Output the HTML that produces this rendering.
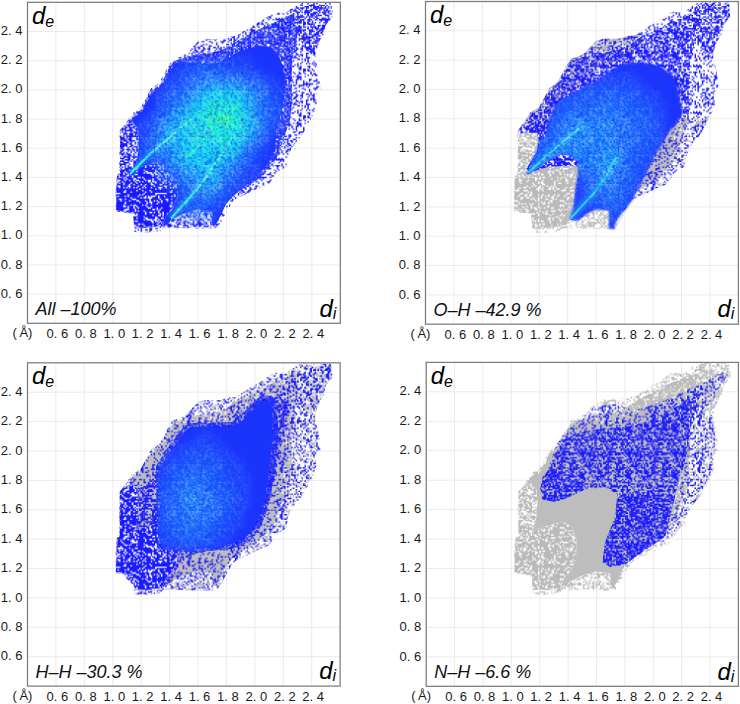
<!DOCTYPE html><html><head><meta charset="utf-8"><style>
html,body{margin:0;padding:0;background:#fff;}svg{display:block}
.t{font-family:"Liberation Sans", sans-serif;font-size:13px;fill:#1a1a1a}
.ax{font-family:"Liberation Sans", sans-serif;font-style:italic;font-size:24px;fill:#000}
.sub{font-size:16px}
.lab{font-family:"Liberation Sans", sans-serif;font-style:italic;font-size:18px;fill:#111}
</style></head><body>
<svg width="740" height="704" viewBox="0 0 740 704">
<rect width="740" height="704" fill="#fff"/><defs><pattern id="b50" patternUnits="userSpaceOnUse" width="32" height="32" patternTransform="scale(1.45 1.46)"><path fill="#1a1aff" d="M0 0h2v1h-2zM3 0h1v1h-1zM5 0h1v1h-1zM7 0h1v1h-1zM9 0h1v1h-1zM11 0h2v1h-2zM14 0h1v1h-1zM22 0h1v1h-1zM26 0h3v1h-3zM3 1h1v1h-1zM9 1h1v1h-1zM11 1h3v1h-3zM16 1h1v1h-1zM18 1h1v1h-1zM22 1h2v1h-2zM28 1h1v1h-1zM31 1h1v1h-1zM3 2h1v1h-1zM6 2h2v1h-2zM9 2h3v1h-3zM15 2h1v1h-1zM19 2h1v1h-1zM23 2h4v1h-4zM28 2h3v1h-3zM1 3h5v1h-5zM8 3h1v1h-1zM10 3h2v1h-2zM13 3h1v1h-1zM15 3h3v1h-3zM19 3h2v1h-2zM22 3h2v1h-2zM25 3h2v1h-2zM28 3h4v1h-4zM1 4h3v1h-3zM5 4h1v1h-1zM9 4h2v1h-2zM13 4h1v1h-1zM16 4h4v1h-4zM22 4h2v1h-2zM28 4h3v1h-3zM0 5h2v1h-2zM4 5h1v1h-1zM7 5h2v1h-2zM10 5h2v1h-2zM14 5h5v1h-5zM24 5h1v1h-1zM26 5h1v1h-1zM30 5h2v1h-2zM0 6h1v1h-1zM3 6h1v1h-1zM8 6h6v1h-6zM15 6h4v1h-4zM22 6h1v1h-1zM24 6h1v1h-1zM26 6h6v1h-6zM0 7h1v1h-1zM3 7h1v1h-1zM7 7h2v1h-2zM16 7h4v1h-4zM21 7h1v1h-1zM25 7h1v1h-1zM27 7h2v1h-2zM30 7h1v1h-1zM1 8h5v1h-5zM8 8h2v1h-2zM13 8h1v1h-1zM15 8h1v1h-1zM18 8h2v1h-2zM21 8h1v1h-1zM27 8h3v1h-3zM31 8h1v1h-1zM3 9h1v1h-1zM5 9h1v1h-1zM7 9h2v1h-2zM10 9h3v1h-3zM14 9h1v1h-1zM17 9h1v1h-1zM19 9h1v1h-1zM22 9h1v1h-1zM24 9h3v1h-3zM28 9h1v1h-1zM30 9h1v1h-1zM1 10h1v1h-1zM4 10h1v1h-1zM9 10h1v1h-1zM11 10h1v1h-1zM13 10h6v1h-6zM24 10h1v1h-1zM31 10h1v1h-1zM0 11h1v1h-1zM4 11h2v1h-2zM9 11h1v1h-1zM17 11h1v1h-1zM19 11h3v1h-3zM23 11h1v1h-1zM25 11h3v1h-3zM29 11h1v1h-1zM31 11h1v1h-1zM0 12h2v1h-2zM5 12h5v1h-5zM11 12h2v1h-2zM14 12h2v1h-2zM17 12h2v1h-2zM23 12h3v1h-3zM27 12h1v1h-1zM29 12h1v1h-1zM31 12h1v1h-1zM0 13h2v1h-2zM3 13h1v1h-1zM5 13h7v1h-7zM13 13h4v1h-4zM19 13h1v1h-1zM21 13h1v1h-1zM23 13h2v1h-2zM26 13h2v1h-2zM29 13h2v1h-2zM0 14h1v1h-1zM2 14h1v1h-1zM4 14h2v1h-2zM10 14h1v1h-1zM13 14h1v1h-1zM16 14h1v1h-1zM20 14h1v1h-1zM26 14h1v1h-1zM30 14h2v1h-2zM2 15h1v1h-1zM6 15h3v1h-3zM12 15h3v1h-3zM16 15h3v1h-3zM21 15h1v1h-1zM24 15h1v1h-1zM26 15h2v1h-2zM1 16h1v1h-1zM3 16h1v1h-1zM5 16h5v1h-5zM12 16h2v1h-2zM16 16h2v1h-2zM24 16h1v1h-1zM30 16h2v1h-2zM1 17h2v1h-2zM6 17h1v1h-1zM13 17h1v1h-1zM16 17h1v1h-1zM18 17h1v1h-1zM20 17h1v1h-1zM22 17h2v1h-2zM27 17h1v1h-1zM2 18h2v1h-2zM5 18h1v1h-1zM9 18h1v1h-1zM11 18h1v1h-1zM19 18h1v1h-1zM24 18h2v1h-2zM30 18h1v1h-1zM2 19h2v1h-2zM7 19h2v1h-2zM12 19h3v1h-3zM17 19h1v1h-1zM19 19h2v1h-2zM23 19h2v1h-2zM26 19h6v1h-6zM0 20h1v1h-1zM2 20h1v1h-1zM5 20h1v1h-1zM12 20h1v1h-1zM15 20h3v1h-3zM19 20h2v1h-2zM23 20h2v1h-2zM0 21h1v1h-1zM3 21h6v1h-6zM14 21h2v1h-2zM17 21h3v1h-3zM21 21h1v1h-1zM23 21h1v1h-1zM25 21h4v1h-4zM30 21h1v1h-1zM1 22h1v1h-1zM4 22h2v1h-2zM8 22h6v1h-6zM15 22h9v1h-9zM25 22h1v1h-1zM28 22h1v1h-1zM31 22h1v1h-1zM2 23h2v1h-2zM5 23h2v1h-2zM8 23h2v1h-2zM11 23h1v1h-1zM16 23h3v1h-3zM21 23h3v1h-3zM25 23h2v1h-2zM28 23h3v1h-3zM0 24h3v1h-3zM15 24h1v1h-1zM17 24h2v1h-2zM20 24h1v1h-1zM22 24h2v1h-2zM25 24h3v1h-3zM30 24h1v1h-1zM0 25h1v1h-1zM3 25h5v1h-5zM9 25h1v1h-1zM11 25h3v1h-3zM18 25h2v1h-2zM22 25h1v1h-1zM25 25h2v1h-2zM28 25h1v1h-1zM0 26h1v1h-1zM3 26h1v1h-1zM6 26h3v1h-3zM10 26h1v1h-1zM17 26h3v1h-3zM21 26h1v1h-1zM23 26h3v1h-3zM28 26h1v1h-1zM3 27h3v1h-3zM10 27h3v1h-3zM14 27h1v1h-1zM16 27h1v1h-1zM19 27h1v1h-1zM21 27h1v1h-1zM23 27h5v1h-5zM29 27h1v1h-1zM0 28h1v1h-1zM3 28h6v1h-6zM11 28h3v1h-3zM16 28h1v1h-1zM18 28h1v1h-1zM20 28h1v1h-1zM22 28h1v1h-1zM0 29h1v1h-1zM8 29h5v1h-5zM17 29h1v1h-1zM20 29h1v1h-1zM22 29h1v1h-1zM24 29h1v1h-1zM29 29h2v1h-2zM2 30h1v1h-1zM5 30h1v1h-1zM9 30h2v1h-2zM13 30h2v1h-2zM19 30h2v1h-2zM22 30h3v1h-3zM26 30h1v1h-1zM28 30h1v1h-1zM30 30h1v1h-1zM1 31h1v1h-1zM3 31h2v1h-2zM9 31h1v1h-1zM11 31h1v1h-1zM13 31h1v1h-1zM16 31h1v1h-1zM19 31h5v1h-5zM26 31h1v1h-1zM28 31h1v1h-1zM30 31h1v1h-1z"/></pattern><pattern id="b45" patternUnits="userSpaceOnUse" width="32" height="32" patternTransform="scale(1.45 1.46)"><path fill="#1a1aff" d="M2 0h2v1h-2zM6 0h1v1h-1zM9 0h1v1h-1zM14 0h1v1h-1zM18 0h1v1h-1zM20 0h1v1h-1zM22 0h3v1h-3zM27 0h1v1h-1zM1 1h2v1h-2zM10 1h1v1h-1zM17 1h1v1h-1zM24 1h2v1h-2zM27 1h1v1h-1zM29 1h1v1h-1zM31 1h1v1h-1zM0 2h2v1h-2zM5 2h2v1h-2zM8 2h6v1h-6zM15 2h1v1h-1zM17 2h1v1h-1zM19 2h4v1h-4zM25 2h1v1h-1zM30 2h1v1h-1zM0 3h1v1h-1zM4 3h2v1h-2zM10 3h2v1h-2zM13 3h1v1h-1zM15 3h2v1h-2zM21 3h4v1h-4zM26 3h2v1h-2zM29 3h1v1h-1zM0 4h2v1h-2zM3 4h1v1h-1zM5 4h1v1h-1zM11 4h1v1h-1zM13 4h4v1h-4zM18 4h1v1h-1zM22 4h9v1h-9zM2 5h1v1h-1zM6 5h3v1h-3zM11 5h1v1h-1zM13 5h2v1h-2zM18 5h2v1h-2zM21 5h1v1h-1zM27 5h5v1h-5zM1 6h1v1h-1zM4 6h1v1h-1zM7 6h1v1h-1zM10 6h2v1h-2zM13 6h1v1h-1zM17 6h1v1h-1zM20 6h2v1h-2zM24 6h1v1h-1zM28 6h2v1h-2zM2 7h2v1h-2zM6 7h1v1h-1zM9 7h1v1h-1zM12 7h1v1h-1zM15 7h1v1h-1zM23 7h4v1h-4zM28 7h1v1h-1zM31 7h1v1h-1zM1 8h1v1h-1zM3 8h3v1h-3zM7 8h1v1h-1zM9 8h1v1h-1zM12 8h1v1h-1zM16 8h2v1h-2zM19 8h4v1h-4zM24 8h1v1h-1zM26 8h2v1h-2zM0 9h1v1h-1zM2 9h3v1h-3zM11 9h2v1h-2zM14 9h2v1h-2zM17 9h6v1h-6zM26 9h1v1h-1zM28 9h1v1h-1zM30 9h2v1h-2zM0 10h2v1h-2zM3 10h1v1h-1zM7 10h6v1h-6zM17 10h1v1h-1zM21 10h2v1h-2zM25 10h2v1h-2zM29 10h3v1h-3zM0 11h6v1h-6zM10 11h4v1h-4zM16 11h1v1h-1zM21 11h1v1h-1zM23 11h5v1h-5zM31 11h1v1h-1zM1 12h1v1h-1zM4 12h2v1h-2zM12 12h1v1h-1zM15 12h1v1h-1zM17 12h1v1h-1zM19 12h1v1h-1zM22 12h1v1h-1zM24 12h2v1h-2zM27 12h1v1h-1zM29 12h1v1h-1zM31 12h1v1h-1zM0 13h1v1h-1zM4 13h1v1h-1zM7 13h1v1h-1zM9 13h1v1h-1zM12 13h1v1h-1zM14 13h3v1h-3zM18 13h1v1h-1zM21 13h3v1h-3zM27 13h1v1h-1zM29 13h2v1h-2zM0 14h1v1h-1zM2 14h1v1h-1zM7 14h1v1h-1zM10 14h1v1h-1zM14 14h1v1h-1zM16 14h2v1h-2zM19 14h2v1h-2zM22 14h2v1h-2zM26 14h1v1h-1zM28 14h2v1h-2zM3 15h4v1h-4zM11 15h1v1h-1zM13 15h2v1h-2zM17 15h1v1h-1zM19 15h3v1h-3zM26 15h3v1h-3zM30 15h2v1h-2zM1 16h2v1h-2zM4 16h1v1h-1zM8 16h1v1h-1zM10 16h4v1h-4zM15 16h3v1h-3zM19 16h1v1h-1zM21 16h1v1h-1zM25 16h1v1h-1zM27 16h2v1h-2zM1 17h1v1h-1zM3 17h3v1h-3zM8 17h1v1h-1zM10 17h1v1h-1zM13 17h2v1h-2zM16 17h1v1h-1zM20 17h1v1h-1zM24 17h1v1h-1zM29 17h1v1h-1zM0 18h1v1h-1zM3 18h1v1h-1zM6 18h1v1h-1zM9 18h1v1h-1zM12 18h4v1h-4zM17 18h1v1h-1zM22 18h1v1h-1zM24 18h1v1h-1zM27 18h2v1h-2zM0 19h2v1h-2zM3 19h1v1h-1zM5 19h1v1h-1zM7 19h1v1h-1zM9 19h1v1h-1zM13 19h2v1h-2zM17 19h1v1h-1zM24 19h1v1h-1zM27 19h1v1h-1zM29 19h1v1h-1zM1 20h3v1h-3zM5 20h2v1h-2zM9 20h1v1h-1zM14 20h1v1h-1zM17 20h2v1h-2zM20 20h1v1h-1zM23 20h1v1h-1zM25 20h1v1h-1zM29 20h3v1h-3zM6 21h1v1h-1zM8 21h1v1h-1zM10 21h1v1h-1zM14 21h1v1h-1zM18 21h1v1h-1zM20 21h2v1h-2zM23 21h1v1h-1zM28 21h1v1h-1zM31 21h1v1h-1zM3 22h1v1h-1zM5 22h1v1h-1zM7 22h1v1h-1zM9 22h3v1h-3zM15 22h2v1h-2zM18 22h2v1h-2zM22 22h3v1h-3zM26 22h3v1h-3zM0 23h1v1h-1zM5 23h1v1h-1zM8 23h2v1h-2zM12 23h1v1h-1zM17 23h1v1h-1zM20 23h1v1h-1zM22 23h2v1h-2zM26 23h1v1h-1zM28 23h1v1h-1zM31 23h1v1h-1zM1 24h2v1h-2zM5 24h1v1h-1zM8 24h3v1h-3zM13 24h2v1h-2zM17 24h1v1h-1zM25 24h1v1h-1zM27 24h1v1h-1zM30 24h2v1h-2zM3 25h3v1h-3zM7 25h6v1h-6zM14 25h1v1h-1zM17 25h5v1h-5zM26 25h3v1h-3zM31 25h1v1h-1zM0 26h2v1h-2zM5 26h3v1h-3zM9 26h2v1h-2zM13 26h1v1h-1zM15 26h1v1h-1zM19 26h4v1h-4zM24 26h1v1h-1zM26 26h1v1h-1zM30 26h2v1h-2zM1 27h1v1h-1zM3 27h1v1h-1zM6 27h1v1h-1zM9 27h1v1h-1zM12 27h4v1h-4zM17 27h1v1h-1zM20 27h2v1h-2zM24 27h3v1h-3zM1 28h1v1h-1zM3 28h1v1h-1zM6 28h1v1h-1zM8 28h2v1h-2zM15 28h1v1h-1zM19 28h2v1h-2zM23 28h2v1h-2zM27 28h1v1h-1zM29 28h3v1h-3zM0 29h1v1h-1zM2 29h2v1h-2zM5 29h1v1h-1zM9 29h2v1h-2zM15 29h1v1h-1zM18 29h2v1h-2zM21 29h1v1h-1zM23 29h2v1h-2zM27 29h1v1h-1zM0 30h2v1h-2zM4 30h1v1h-1zM6 30h1v1h-1zM11 30h2v1h-2zM14 30h1v1h-1zM18 30h1v1h-1zM22 30h1v1h-1zM26 30h3v1h-3zM30 30h1v1h-1zM0 31h3v1h-3zM5 31h4v1h-4zM11 31h1v1h-1zM13 31h3v1h-3zM17 31h2v1h-2zM21 31h1v1h-1zM23 31h3v1h-3zM27 31h2v1h-2z"/></pattern><pattern id="b60" patternUnits="userSpaceOnUse" width="32" height="32" patternTransform="scale(1.45 1.46)"><path fill="#1a1aff" d="M0 0h2v1h-2zM3 0h1v1h-1zM5 0h5v1h-5zM11 0h1v1h-1zM13 0h2v1h-2zM16 0h1v1h-1zM19 0h1v1h-1zM21 0h3v1h-3zM25 0h4v1h-4zM2 1h1v1h-1zM5 1h1v1h-1zM8 1h5v1h-5zM15 1h6v1h-6zM23 1h2v1h-2zM26 1h1v1h-1zM29 1h1v1h-1zM31 1h1v1h-1zM2 2h1v1h-1zM6 2h3v1h-3zM10 2h1v1h-1zM13 2h2v1h-2zM16 2h2v1h-2zM19 2h5v1h-5zM25 2h2v1h-2zM29 2h1v1h-1zM31 2h1v1h-1zM0 3h1v1h-1zM2 3h1v1h-1zM5 3h2v1h-2zM8 3h1v1h-1zM10 3h2v1h-2zM13 3h1v1h-1zM15 3h9v1h-9zM26 3h2v1h-2zM31 3h1v1h-1zM0 4h1v1h-1zM3 4h7v1h-7zM11 4h4v1h-4zM18 4h4v1h-4zM23 4h1v1h-1zM25 4h2v1h-2zM28 4h3v1h-3zM0 5h4v1h-4zM5 5h2v1h-2zM8 5h2v1h-2zM11 5h3v1h-3zM15 5h2v1h-2zM19 5h2v1h-2zM24 5h1v1h-1zM27 5h1v1h-1zM30 5h1v1h-1zM0 6h5v1h-5zM8 6h3v1h-3zM12 6h1v1h-1zM14 6h2v1h-2zM17 6h2v1h-2zM20 6h2v1h-2zM23 6h3v1h-3zM27 6h2v1h-2zM30 6h2v1h-2zM0 7h2v1h-2zM4 7h1v1h-1zM7 7h1v1h-1zM9 7h4v1h-4zM14 7h1v1h-1zM16 7h2v1h-2zM19 7h2v1h-2zM24 7h1v1h-1zM26 7h1v1h-1zM28 7h1v1h-1zM30 7h2v1h-2zM0 8h2v1h-2zM3 8h5v1h-5zM10 8h2v1h-2zM13 8h3v1h-3zM17 8h3v1h-3zM21 8h1v1h-1zM23 8h1v1h-1zM26 8h1v1h-1zM29 8h1v1h-1zM0 9h1v1h-1zM4 9h1v1h-1zM6 9h1v1h-1zM9 9h1v1h-1zM11 9h3v1h-3zM15 9h2v1h-2zM19 9h3v1h-3zM23 9h3v1h-3zM28 9h1v1h-1zM31 9h1v1h-1zM0 10h1v1h-1zM2 10h2v1h-2zM6 10h1v1h-1zM10 10h2v1h-2zM13 10h5v1h-5zM20 10h1v1h-1zM22 10h1v1h-1zM24 10h3v1h-3zM28 10h1v1h-1zM31 10h1v1h-1zM2 11h2v1h-2zM5 11h1v1h-1zM7 11h1v1h-1zM9 11h5v1h-5zM16 11h3v1h-3zM21 11h5v1h-5zM27 11h5v1h-5zM0 12h2v1h-2zM4 12h6v1h-6zM12 12h2v1h-2zM15 12h2v1h-2zM18 12h4v1h-4zM24 12h2v1h-2zM28 12h1v1h-1zM31 12h1v1h-1zM0 13h4v1h-4zM5 13h3v1h-3zM9 13h1v1h-1zM11 13h1v1h-1zM13 13h1v1h-1zM15 13h3v1h-3zM20 13h1v1h-1zM22 13h4v1h-4zM27 13h1v1h-1zM30 13h2v1h-2zM1 14h2v1h-2zM4 14h7v1h-7zM14 14h1v1h-1zM16 14h1v1h-1zM18 14h4v1h-4zM24 14h1v1h-1zM26 14h1v1h-1zM28 14h4v1h-4zM5 15h2v1h-2zM9 15h6v1h-6zM16 15h3v1h-3zM21 15h4v1h-4zM28 15h4v1h-4zM0 16h2v1h-2zM3 16h1v1h-1zM5 16h3v1h-3zM9 16h2v1h-2zM12 16h3v1h-3zM18 16h5v1h-5zM25 16h1v1h-1zM28 16h4v1h-4zM2 17h3v1h-3zM7 17h1v1h-1zM9 17h1v1h-1zM11 17h4v1h-4zM18 17h2v1h-2zM22 17h1v1h-1zM24 17h1v1h-1zM28 17h2v1h-2zM31 17h1v1h-1zM0 18h1v1h-1zM2 18h5v1h-5zM9 18h1v1h-1zM12 18h1v1h-1zM15 18h4v1h-4zM20 18h1v1h-1zM22 18h1v1h-1zM24 18h3v1h-3zM28 18h2v1h-2zM31 18h1v1h-1zM1 19h3v1h-3zM7 19h1v1h-1zM10 19h8v1h-8zM19 19h1v1h-1zM22 19h6v1h-6zM31 19h1v1h-1zM0 20h3v1h-3zM4 20h1v1h-1zM7 20h2v1h-2zM10 20h1v1h-1zM12 20h1v1h-1zM14 20h2v1h-2zM17 20h1v1h-1zM19 20h6v1h-6zM26 20h1v1h-1zM28 20h3v1h-3zM1 21h3v1h-3zM5 21h5v1h-5zM13 21h3v1h-3zM17 21h5v1h-5zM23 21h5v1h-5zM31 21h1v1h-1zM0 22h2v1h-2zM3 22h1v1h-1zM6 22h2v1h-2zM9 22h1v1h-1zM11 22h3v1h-3zM16 22h1v1h-1zM19 22h2v1h-2zM22 22h1v1h-1zM24 22h2v1h-2zM28 22h2v1h-2zM31 22h1v1h-1zM1 23h7v1h-7zM9 23h4v1h-4zM14 23h7v1h-7zM22 23h2v1h-2zM25 23h4v1h-4zM30 23h1v1h-1zM0 24h2v1h-2zM3 24h1v1h-1zM6 24h2v1h-2zM10 24h6v1h-6zM17 24h6v1h-6zM25 24h2v1h-2zM29 24h3v1h-3zM0 25h4v1h-4zM5 25h1v1h-1zM7 25h1v1h-1zM11 25h1v1h-1zM13 25h6v1h-6zM20 25h1v1h-1zM22 25h6v1h-6zM30 25h1v1h-1zM0 26h5v1h-5zM7 26h2v1h-2zM10 26h1v1h-1zM13 26h6v1h-6zM20 26h1v1h-1zM22 26h1v1h-1zM26 26h1v1h-1zM28 26h3v1h-3zM0 27h5v1h-5zM7 27h2v1h-2zM11 27h8v1h-8zM21 27h3v1h-3zM25 27h3v1h-3zM29 27h3v1h-3zM0 28h1v1h-1zM2 28h1v1h-1zM4 28h3v1h-3zM9 28h3v1h-3zM13 28h2v1h-2zM17 28h1v1h-1zM21 28h1v1h-1zM23 28h1v1h-1zM25 28h3v1h-3zM29 28h1v1h-1zM31 28h1v1h-1zM0 29h5v1h-5zM6 29h1v1h-1zM8 29h3v1h-3zM12 29h1v1h-1zM16 29h1v1h-1zM18 29h2v1h-2zM21 29h1v1h-1zM23 29h9v1h-9zM0 30h2v1h-2zM3 30h2v1h-2zM7 30h2v1h-2zM10 30h1v1h-1zM13 30h3v1h-3zM18 30h4v1h-4zM23 30h1v1h-1zM25 30h2v1h-2zM30 30h1v1h-1zM0 31h1v1h-1zM2 31h3v1h-3zM6 31h3v1h-3zM10 31h4v1h-4zM15 31h1v1h-1zM19 31h4v1h-4zM24 31h3v1h-3zM30 31h2v1h-2z"/></pattern><pattern id="b70" patternUnits="userSpaceOnUse" width="32" height="32" patternTransform="scale(1.45 1.46)"><path fill="#1a1aff" d="M0 0h1v1h-1zM2 0h3v1h-3zM7 0h2v1h-2zM10 0h1v1h-1zM14 0h8v1h-8zM23 0h4v1h-4zM28 0h3v1h-3zM0 1h6v1h-6zM7 1h1v1h-1zM9 1h4v1h-4zM17 1h2v1h-2zM20 1h2v1h-2zM23 1h5v1h-5zM29 1h1v1h-1zM31 1h1v1h-1zM0 2h5v1h-5zM6 2h1v1h-1zM8 2h5v1h-5zM14 2h3v1h-3zM18 2h2v1h-2zM21 2h1v1h-1zM23 2h4v1h-4zM28 2h3v1h-3zM0 3h1v1h-1zM2 3h2v1h-2zM5 3h1v1h-1zM7 3h2v1h-2zM10 3h4v1h-4zM15 3h2v1h-2zM18 3h1v1h-1zM20 3h5v1h-5zM26 3h2v1h-2zM29 3h3v1h-3zM1 4h11v1h-11zM13 4h6v1h-6zM20 4h3v1h-3zM24 4h3v1h-3zM28 4h4v1h-4zM0 5h5v1h-5zM6 5h1v1h-1zM10 5h2v1h-2zM14 5h3v1h-3zM18 5h1v1h-1zM21 5h1v1h-1zM23 5h1v1h-1zM25 5h1v1h-1zM27 5h5v1h-5zM0 6h2v1h-2zM5 6h1v1h-1zM8 6h1v1h-1zM11 6h2v1h-2zM14 6h7v1h-7zM22 6h1v1h-1zM25 6h1v1h-1zM27 6h4v1h-4zM0 7h2v1h-2zM3 7h5v1h-5zM10 7h2v1h-2zM13 7h2v1h-2zM16 7h4v1h-4zM21 7h1v1h-1zM23 7h1v1h-1zM25 7h1v1h-1zM28 7h2v1h-2zM31 7h1v1h-1zM0 8h8v1h-8zM10 8h2v1h-2zM15 8h4v1h-4zM21 8h1v1h-1zM24 8h2v1h-2zM28 8h1v1h-1zM31 8h1v1h-1zM0 9h6v1h-6zM7 9h1v1h-1zM9 9h7v1h-7zM17 9h1v1h-1zM22 9h3v1h-3zM26 9h2v1h-2zM29 9h2v1h-2zM0 10h2v1h-2zM3 10h3v1h-3zM8 10h3v1h-3zM12 10h2v1h-2zM15 10h4v1h-4zM20 10h1v1h-1zM24 10h7v1h-7zM0 11h3v1h-3zM4 11h7v1h-7zM13 11h2v1h-2zM16 11h4v1h-4zM21 11h3v1h-3zM25 11h1v1h-1zM27 11h4v1h-4zM0 12h1v1h-1zM2 12h5v1h-5zM8 12h1v1h-1zM12 12h1v1h-1zM14 12h1v1h-1zM16 12h6v1h-6zM24 12h7v1h-7zM0 13h4v1h-4zM5 13h3v1h-3zM9 13h2v1h-2zM13 13h3v1h-3zM17 13h2v1h-2zM20 13h2v1h-2zM23 13h4v1h-4zM28 13h4v1h-4zM1 14h3v1h-3zM5 14h7v1h-7zM13 14h3v1h-3zM18 14h1v1h-1zM20 14h1v1h-1zM22 14h1v1h-1zM26 14h1v1h-1zM28 14h1v1h-1zM30 14h2v1h-2zM0 15h2v1h-2zM3 15h2v1h-2zM6 15h5v1h-5zM16 15h1v1h-1zM18 15h2v1h-2zM21 15h3v1h-3zM26 15h1v1h-1zM28 15h1v1h-1zM30 15h2v1h-2zM0 16h3v1h-3zM4 16h8v1h-8zM13 16h4v1h-4zM21 16h1v1h-1zM23 16h3v1h-3zM27 16h4v1h-4zM0 17h2v1h-2zM4 17h5v1h-5zM10 17h3v1h-3zM14 17h5v1h-5zM20 17h1v1h-1zM24 17h3v1h-3zM28 17h1v1h-1zM30 17h1v1h-1zM0 18h1v1h-1zM2 18h1v1h-1zM6 18h3v1h-3zM12 18h3v1h-3zM16 18h11v1h-11zM28 18h1v1h-1zM31 18h1v1h-1zM0 19h2v1h-2zM3 19h5v1h-5zM12 19h2v1h-2zM15 19h3v1h-3zM20 19h1v1h-1zM22 19h2v1h-2zM26 19h1v1h-1zM30 19h1v1h-1zM2 20h3v1h-3zM6 20h8v1h-8zM15 20h5v1h-5zM22 20h4v1h-4zM27 20h1v1h-1zM29 20h3v1h-3zM2 21h4v1h-4zM10 21h8v1h-8zM20 21h5v1h-5zM27 21h1v1h-1zM29 21h3v1h-3zM0 22h3v1h-3zM4 22h3v1h-3zM9 22h3v1h-3zM13 22h2v1h-2zM16 22h3v1h-3zM20 22h1v1h-1zM22 22h4v1h-4zM27 22h2v1h-2zM0 23h6v1h-6zM7 23h1v1h-1zM9 23h2v1h-2zM12 23h1v1h-1zM14 23h4v1h-4zM20 23h3v1h-3zM24 23h3v1h-3zM28 23h2v1h-2zM31 23h1v1h-1zM1 24h2v1h-2zM4 24h1v1h-1zM6 24h2v1h-2zM9 24h1v1h-1zM11 24h8v1h-8zM20 24h1v1h-1zM22 24h4v1h-4zM28 24h3v1h-3zM0 25h6v1h-6zM8 25h1v1h-1zM10 25h2v1h-2zM13 25h1v1h-1zM15 25h2v1h-2zM19 25h1v1h-1zM21 25h2v1h-2zM24 25h3v1h-3zM28 25h2v1h-2zM31 25h1v1h-1zM0 26h3v1h-3zM4 26h8v1h-8zM13 26h3v1h-3zM17 26h3v1h-3zM21 26h1v1h-1zM24 26h2v1h-2zM27 26h5v1h-5zM0 27h1v1h-1zM2 27h2v1h-2zM6 27h1v1h-1zM8 27h2v1h-2zM13 27h1v1h-1zM17 27h3v1h-3zM21 27h4v1h-4zM26 27h2v1h-2zM29 27h2v1h-2zM2 28h1v1h-1zM5 28h5v1h-5zM11 28h1v1h-1zM13 28h3v1h-3zM17 28h8v1h-8zM26 28h4v1h-4zM31 28h1v1h-1zM0 29h3v1h-3zM4 29h1v1h-1zM6 29h2v1h-2zM9 29h3v1h-3zM15 29h3v1h-3zM19 29h5v1h-5zM25 29h3v1h-3zM29 29h3v1h-3zM0 30h1v1h-1zM2 30h2v1h-2zM5 30h3v1h-3zM9 30h9v1h-9zM20 30h1v1h-1zM23 30h4v1h-4zM28 30h3v1h-3zM1 31h2v1h-2zM4 31h6v1h-6zM11 31h3v1h-3zM15 31h1v1h-1zM17 31h1v1h-1zM19 31h2v1h-2zM22 31h7v1h-7zM30 31h2v1h-2z"/></pattern><pattern id="b75" patternUnits="userSpaceOnUse" width="32" height="32" patternTransform="scale(1.45 1.46)"><path fill="#1a1aff" d="M7 0h1v1h-1zM11 0h2v1h-2zM14 0h1v1h-1zM17 0h1v1h-1zM19 0h1v1h-1zM21 0h1v1h-1zM23 0h4v1h-4zM30 0h1v1h-1zM0 1h1v1h-1zM6 1h2v1h-2zM11 1h4v1h-4zM22 1h1v1h-1zM25 1h1v1h-1zM27 1h1v1h-1zM30 1h1v1h-1zM3 2h1v1h-1zM5 2h2v1h-2zM9 2h1v1h-1zM13 2h1v1h-1zM18 2h2v1h-2zM25 2h1v1h-1zM31 2h1v1h-1zM0 3h1v1h-1zM7 3h1v1h-1zM11 3h1v1h-1zM14 3h1v1h-1zM19 3h4v1h-4zM25 3h3v1h-3zM29 3h2v1h-2zM12 4h1v1h-1zM19 4h1v1h-1zM21 4h1v1h-1zM24 4h1v1h-1zM31 4h1v1h-1zM1 5h1v1h-1zM12 5h2v1h-2zM15 5h1v1h-1zM17 5h1v1h-1zM19 5h1v1h-1zM21 5h1v1h-1zM26 5h1v1h-1zM28 5h2v1h-2zM5 6h3v1h-3zM9 6h1v1h-1zM13 6h4v1h-4zM19 6h6v1h-6zM2 7h2v1h-2zM5 7h1v1h-1zM9 7h4v1h-4zM16 7h1v1h-1zM18 7h1v1h-1zM20 7h1v1h-1zM25 7h1v1h-1zM31 7h1v1h-1zM0 8h1v1h-1zM2 8h3v1h-3zM10 8h2v1h-2zM15 8h1v1h-1zM17 8h2v1h-2zM20 8h1v1h-1zM22 8h1v1h-1zM24 8h1v1h-1zM26 8h2v1h-2zM1 9h2v1h-2zM8 9h1v1h-1zM11 9h1v1h-1zM14 9h1v1h-1zM16 9h1v1h-1zM18 9h1v1h-1zM22 9h1v1h-1zM25 9h2v1h-2zM30 9h1v1h-1zM4 10h2v1h-2zM8 10h1v1h-1zM10 10h1v1h-1zM14 10h2v1h-2zM20 10h1v1h-1zM22 10h1v1h-1zM24 10h1v1h-1zM29 10h1v1h-1zM0 11h2v1h-2zM6 11h2v1h-2zM9 11h2v1h-2zM12 11h2v1h-2zM17 11h1v1h-1zM19 11h1v1h-1zM23 11h1v1h-1zM25 11h1v1h-1zM27 11h1v1h-1zM29 11h2v1h-2zM2 12h1v1h-1zM4 12h1v1h-1zM6 12h1v1h-1zM8 12h1v1h-1zM15 12h3v1h-3zM19 12h1v1h-1zM22 12h1v1h-1zM24 12h3v1h-3zM29 12h3v1h-3zM2 13h2v1h-2zM6 13h1v1h-1zM8 13h1v1h-1zM12 13h1v1h-1zM16 13h1v1h-1zM19 13h1v1h-1zM22 13h1v1h-1zM25 13h1v1h-1zM27 13h1v1h-1zM0 14h1v1h-1zM2 14h1v1h-1zM6 14h1v1h-1zM8 14h1v1h-1zM13 14h2v1h-2zM21 14h1v1h-1zM24 14h1v1h-1zM2 15h1v1h-1zM4 15h5v1h-5zM14 15h3v1h-3zM20 15h1v1h-1zM22 15h1v1h-1zM25 15h1v1h-1zM29 15h1v1h-1zM2 16h1v1h-1zM4 16h2v1h-2zM8 16h1v1h-1zM10 16h1v1h-1zM16 16h1v1h-1zM19 16h2v1h-2zM23 16h1v1h-1zM25 16h1v1h-1zM27 16h3v1h-3zM2 17h2v1h-2zM6 17h3v1h-3zM10 17h1v1h-1zM15 17h1v1h-1zM20 17h3v1h-3zM29 17h3v1h-3zM0 18h2v1h-2zM4 18h1v1h-1zM6 18h1v1h-1zM8 18h1v1h-1zM12 18h1v1h-1zM14 18h2v1h-2zM17 18h1v1h-1zM20 18h3v1h-3zM24 18h1v1h-1zM31 18h1v1h-1zM1 19h3v1h-3zM6 19h1v1h-1zM10 19h1v1h-1zM12 19h2v1h-2zM16 19h1v1h-1zM19 19h1v1h-1zM21 19h2v1h-2zM24 19h1v1h-1zM2 20h3v1h-3zM7 20h3v1h-3zM11 20h1v1h-1zM15 20h3v1h-3zM22 20h1v1h-1zM25 20h1v1h-1zM27 20h2v1h-2zM3 21h1v1h-1zM5 21h3v1h-3zM13 21h3v1h-3zM20 21h1v1h-1zM25 21h1v1h-1zM28 21h1v1h-1zM2 22h1v1h-1zM7 22h2v1h-2zM10 22h1v1h-1zM14 22h3v1h-3zM19 22h1v1h-1zM24 22h3v1h-3zM0 23h1v1h-1zM4 23h1v1h-1zM7 23h2v1h-2zM13 23h1v1h-1zM15 23h1v1h-1zM18 23h1v1h-1zM20 23h2v1h-2zM30 23h2v1h-2zM0 24h1v1h-1zM2 24h4v1h-4zM10 24h1v1h-1zM12 24h1v1h-1zM19 24h1v1h-1zM21 24h1v1h-1zM23 24h1v1h-1zM27 24h2v1h-2zM1 25h1v1h-1zM5 25h1v1h-1zM9 25h1v1h-1zM11 25h1v1h-1zM15 25h2v1h-2zM18 25h1v1h-1zM20 25h1v1h-1zM25 25h1v1h-1zM28 25h1v1h-1zM31 25h1v1h-1zM0 26h1v1h-1zM2 26h1v1h-1zM5 26h3v1h-3zM9 26h1v1h-1zM14 26h1v1h-1zM26 26h1v1h-1zM29 26h1v1h-1zM0 27h5v1h-5zM9 27h1v1h-1zM12 27h1v1h-1zM17 27h1v1h-1zM20 27h1v1h-1zM23 27h1v1h-1zM29 27h1v1h-1zM3 28h4v1h-4zM9 28h1v1h-1zM11 28h1v1h-1zM14 28h1v1h-1zM17 28h8v1h-8zM28 28h2v1h-2zM31 28h1v1h-1zM0 29h1v1h-1zM6 29h1v1h-1zM8 29h1v1h-1zM10 29h2v1h-2zM14 29h2v1h-2zM20 29h1v1h-1zM24 29h1v1h-1zM26 29h2v1h-2zM29 29h3v1h-3zM1 30h1v1h-1zM4 30h1v1h-1zM6 30h1v1h-1zM9 30h1v1h-1zM12 30h1v1h-1zM17 30h1v1h-1zM22 30h1v1h-1zM27 30h1v1h-1zM30 30h2v1h-2zM4 31h1v1h-1zM8 31h1v1h-1zM12 31h1v1h-1zM15 31h2v1h-2zM18 31h1v1h-1zM23 31h1v1h-1zM28 31h1v1h-1z"/><path fill="#1b34fc" d="M0 0h1v1h-1zM5 0h1v1h-1zM9 0h1v1h-1zM18 0h1v1h-1zM29 0h1v1h-1zM31 0h1v1h-1zM1 1h2v1h-2zM4 1h2v1h-2zM9 1h2v1h-2zM17 1h1v1h-1zM19 1h2v1h-2zM23 1h1v1h-1zM26 1h1v1h-1zM28 1h1v1h-1zM31 1h1v1h-1zM0 2h1v1h-1zM2 2h1v1h-1zM7 2h2v1h-2zM11 2h1v1h-1zM15 2h3v1h-3zM20 2h1v1h-1zM22 2h3v1h-3zM27 2h1v1h-1zM29 2h1v1h-1zM1 3h4v1h-4zM9 3h1v1h-1zM12 3h1v1h-1zM15 3h3v1h-3zM28 3h1v1h-1zM31 3h1v1h-1zM0 4h1v1h-1zM4 4h1v1h-1zM6 4h2v1h-2zM9 4h1v1h-1zM11 4h1v1h-1zM13 4h1v1h-1zM16 4h1v1h-1zM18 4h1v1h-1zM20 4h1v1h-1zM22 4h1v1h-1zM25 4h1v1h-1zM27 4h2v1h-2zM30 4h1v1h-1zM0 5h1v1h-1zM4 5h2v1h-2zM7 5h1v1h-1zM10 5h2v1h-2zM14 5h1v1h-1zM16 5h1v1h-1zM18 5h1v1h-1zM22 5h2v1h-2zM30 5h2v1h-2zM1 6h2v1h-2zM4 6h1v1h-1zM10 6h1v1h-1zM18 6h1v1h-1zM27 6h3v1h-3zM31 6h1v1h-1zM0 7h1v1h-1zM4 7h1v1h-1zM8 7h1v1h-1zM13 7h3v1h-3zM17 7h1v1h-1zM22 7h1v1h-1zM24 7h1v1h-1zM26 7h1v1h-1zM28 7h2v1h-2zM5 8h5v1h-5zM12 8h1v1h-1zM14 8h1v1h-1zM19 8h1v1h-1zM21 8h1v1h-1zM23 8h1v1h-1zM28 8h1v1h-1zM30 8h2v1h-2zM0 9h1v1h-1zM4 9h1v1h-1zM6 9h2v1h-2zM9 9h1v1h-1zM13 9h1v1h-1zM15 9h1v1h-1zM17 9h1v1h-1zM21 9h1v1h-1zM23 9h1v1h-1zM27 9h3v1h-3zM1 10h1v1h-1zM7 10h1v1h-1zM9 10h1v1h-1zM13 10h1v1h-1zM19 10h1v1h-1zM23 10h1v1h-1zM26 10h3v1h-3zM30 10h2v1h-2zM4 11h1v1h-1zM8 11h1v1h-1zM14 11h1v1h-1zM16 11h1v1h-1zM18 11h1v1h-1zM22 11h1v1h-1zM24 11h1v1h-1zM28 11h1v1h-1zM31 11h1v1h-1zM5 12h1v1h-1zM9 12h2v1h-2zM12 12h2v1h-2zM20 12h2v1h-2zM23 12h1v1h-1zM27 12h2v1h-2zM0 13h1v1h-1zM5 13h1v1h-1zM7 13h1v1h-1zM10 13h2v1h-2zM13 13h1v1h-1zM17 13h1v1h-1zM20 13h2v1h-2zM23 13h2v1h-2zM26 13h1v1h-1zM28 13h2v1h-2zM31 13h1v1h-1zM1 14h1v1h-1zM4 14h1v1h-1zM7 14h1v1h-1zM9 14h1v1h-1zM15 14h2v1h-2zM20 14h1v1h-1zM25 14h1v1h-1zM27 14h2v1h-2zM31 14h1v1h-1zM0 15h1v1h-1zM3 15h1v1h-1zM9 15h1v1h-1zM11 15h1v1h-1zM13 15h1v1h-1zM17 15h1v1h-1zM21 15h1v1h-1zM24 15h1v1h-1zM26 15h1v1h-1zM30 15h1v1h-1zM0 16h1v1h-1zM7 16h1v1h-1zM9 16h1v1h-1zM13 16h2v1h-2zM18 16h1v1h-1zM30 16h2v1h-2zM0 17h1v1h-1zM5 17h1v1h-1zM11 17h1v1h-1zM14 17h1v1h-1zM17 17h2v1h-2zM24 17h2v1h-2zM27 17h2v1h-2zM2 18h2v1h-2zM7 18h1v1h-1zM9 18h1v1h-1zM16 18h1v1h-1zM18 18h2v1h-2zM23 18h1v1h-1zM26 18h5v1h-5zM0 19h1v1h-1zM4 19h2v1h-2zM8 19h1v1h-1zM11 19h1v1h-1zM14 19h1v1h-1zM17 19h2v1h-2zM25 19h2v1h-2zM28 19h1v1h-1zM31 19h1v1h-1zM0 20h1v1h-1zM12 20h1v1h-1zM18 20h3v1h-3zM30 20h2v1h-2zM0 21h2v1h-2zM4 21h1v1h-1zM8 21h2v1h-2zM11 21h2v1h-2zM16 21h2v1h-2zM19 21h1v1h-1zM22 21h2v1h-2zM29 21h2v1h-2zM0 22h2v1h-2zM3 22h2v1h-2zM12 22h2v1h-2zM17 22h2v1h-2zM20 22h1v1h-1zM28 22h1v1h-1zM31 22h1v1h-1zM2 23h1v1h-1zM5 23h1v1h-1zM9 23h1v1h-1zM11 23h2v1h-2zM17 23h1v1h-1zM19 23h1v1h-1zM22 23h1v1h-1zM27 23h1v1h-1zM29 23h1v1h-1zM1 24h1v1h-1zM7 24h1v1h-1zM11 24h1v1h-1zM14 24h2v1h-2zM17 24h2v1h-2zM20 24h1v1h-1zM24 24h3v1h-3zM2 25h3v1h-3zM7 25h1v1h-1zM12 25h2v1h-2zM19 25h1v1h-1zM21 25h2v1h-2zM24 25h1v1h-1zM27 25h1v1h-1zM29 25h1v1h-1zM1 26h1v1h-1zM3 26h2v1h-2zM8 26h1v1h-1zM10 26h3v1h-3zM15 26h1v1h-1zM18 26h1v1h-1zM20 26h1v1h-1zM23 26h1v1h-1zM25 26h1v1h-1zM27 26h2v1h-2zM30 26h1v1h-1zM7 27h2v1h-2zM10 27h2v1h-2zM15 27h2v1h-2zM19 27h1v1h-1zM21 27h1v1h-1zM25 27h2v1h-2zM2 28h1v1h-1zM12 28h2v1h-2zM25 28h3v1h-3zM30 28h1v1h-1zM1 29h2v1h-2zM4 29h2v1h-2zM12 29h2v1h-2zM16 29h1v1h-1zM18 29h2v1h-2zM21 29h1v1h-1zM23 29h1v1h-1zM25 29h1v1h-1zM0 30h1v1h-1zM3 30h1v1h-1zM8 30h1v1h-1zM11 30h1v1h-1zM16 30h1v1h-1zM20 30h2v1h-2zM23 30h1v1h-1zM26 30h1v1h-1zM28 30h2v1h-2zM0 31h4v1h-4zM5 31h1v1h-1zM10 31h2v1h-2zM13 31h1v1h-1zM17 31h1v1h-1zM19 31h1v1h-1zM22 31h1v1h-1zM26 31h2v1h-2zM29 31h1v1h-1z"/></pattern><pattern id="b30" patternUnits="userSpaceOnUse" width="32" height="32" patternTransform="scale(1.45 1.46)"><path fill="#1a1aff" d="M3 0h2v1h-2zM8 0h1v1h-1zM14 0h1v1h-1zM17 0h1v1h-1zM19 0h1v1h-1zM22 0h1v1h-1zM25 0h1v1h-1zM27 0h1v1h-1zM30 0h1v1h-1zM0 1h1v1h-1zM3 1h2v1h-2zM6 1h2v1h-2zM11 1h2v1h-2zM18 1h2v1h-2zM22 1h2v1h-2zM2 2h1v1h-1zM6 2h3v1h-3zM23 2h1v1h-1zM25 2h1v1h-1zM28 2h1v1h-1zM0 3h1v1h-1zM7 3h1v1h-1zM14 3h1v1h-1zM17 3h2v1h-2zM20 3h1v1h-1zM25 3h2v1h-2zM0 4h1v1h-1zM5 4h1v1h-1zM7 4h4v1h-4zM13 4h2v1h-2zM16 4h1v1h-1zM18 4h1v1h-1zM21 4h1v1h-1zM23 4h1v1h-1zM25 4h1v1h-1zM27 4h2v1h-2zM3 5h1v1h-1zM7 5h2v1h-2zM11 5h1v1h-1zM18 5h1v1h-1zM20 5h1v1h-1zM22 5h1v1h-1zM25 5h1v1h-1zM27 5h2v1h-2zM31 5h1v1h-1zM0 6h1v1h-1zM2 6h1v1h-1zM7 6h4v1h-4zM12 6h1v1h-1zM15 6h1v1h-1zM22 6h2v1h-2zM25 6h2v1h-2zM28 6h1v1h-1zM2 7h1v1h-1zM4 7h2v1h-2zM10 7h1v1h-1zM19 7h1v1h-1zM23 7h4v1h-4zM30 7h1v1h-1zM2 8h1v1h-1zM13 8h2v1h-2zM20 8h5v1h-5zM28 8h1v1h-1zM4 9h2v1h-2zM9 9h1v1h-1zM12 9h2v1h-2zM20 9h1v1h-1zM24 9h3v1h-3zM31 9h1v1h-1zM0 10h1v1h-1zM4 10h1v1h-1zM7 10h1v1h-1zM9 10h1v1h-1zM13 10h2v1h-2zM17 10h1v1h-1zM19 10h1v1h-1zM27 10h1v1h-1zM29 10h1v1h-1zM31 10h1v1h-1zM3 11h1v1h-1zM8 11h1v1h-1zM10 11h2v1h-2zM14 11h2v1h-2zM17 11h1v1h-1zM19 11h1v1h-1zM24 11h2v1h-2zM27 11h2v1h-2zM1 12h1v1h-1zM5 12h1v1h-1zM7 12h1v1h-1zM9 12h1v1h-1zM12 12h1v1h-1zM24 12h1v1h-1zM29 12h1v1h-1zM31 12h1v1h-1zM3 13h1v1h-1zM7 13h1v1h-1zM18 13h1v1h-1zM23 13h1v1h-1zM25 13h1v1h-1zM5 14h2v1h-2zM13 14h1v1h-1zM18 14h3v1h-3zM23 14h1v1h-1zM27 14h2v1h-2zM31 14h1v1h-1zM5 15h1v1h-1zM8 15h2v1h-2zM12 15h1v1h-1zM14 15h1v1h-1zM21 15h1v1h-1zM24 15h4v1h-4zM4 16h1v1h-1zM7 16h1v1h-1zM12 16h2v1h-2zM15 16h1v1h-1zM24 16h1v1h-1zM28 16h2v1h-2zM31 16h1v1h-1zM1 17h1v1h-1zM3 17h2v1h-2zM6 17h1v1h-1zM9 17h2v1h-2zM14 17h2v1h-2zM17 17h1v1h-1zM25 17h1v1h-1zM30 17h2v1h-2zM2 18h3v1h-3zM6 18h1v1h-1zM8 18h1v1h-1zM17 18h1v1h-1zM26 18h3v1h-3zM30 18h1v1h-1zM0 19h2v1h-2zM6 19h2v1h-2zM11 19h1v1h-1zM17 19h1v1h-1zM22 19h1v1h-1zM26 19h1v1h-1zM30 19h1v1h-1zM2 20h1v1h-1zM4 20h1v1h-1zM10 20h2v1h-2zM15 20h1v1h-1zM17 20h2v1h-2zM21 20h1v1h-1zM27 20h1v1h-1zM0 21h1v1h-1zM11 21h4v1h-4zM24 21h1v1h-1zM30 21h1v1h-1zM1 22h1v1h-1zM7 22h3v1h-3zM16 22h2v1h-2zM21 22h3v1h-3zM0 23h3v1h-3zM18 23h1v1h-1zM20 23h5v1h-5zM26 23h1v1h-1zM4 24h1v1h-1zM6 24h1v1h-1zM11 24h1v1h-1zM15 24h2v1h-2zM18 24h2v1h-2zM21 24h2v1h-2zM25 24h3v1h-3zM2 25h3v1h-3zM8 25h1v1h-1zM12 25h1v1h-1zM14 25h1v1h-1zM16 25h1v1h-1zM20 25h2v1h-2zM28 25h2v1h-2zM31 25h1v1h-1zM2 26h4v1h-4zM8 26h1v1h-1zM10 26h1v1h-1zM12 26h1v1h-1zM16 26h1v1h-1zM20 26h1v1h-1zM22 26h1v1h-1zM24 26h1v1h-1zM26 26h1v1h-1zM28 26h1v1h-1zM30 26h1v1h-1zM2 27h2v1h-2zM9 27h2v1h-2zM16 27h1v1h-1zM18 27h1v1h-1zM23 27h1v1h-1zM30 27h1v1h-1zM2 28h2v1h-2zM5 28h3v1h-3zM9 28h1v1h-1zM11 28h1v1h-1zM13 28h2v1h-2zM19 28h1v1h-1zM25 28h2v1h-2zM2 29h1v1h-1zM8 29h1v1h-1zM16 29h2v1h-2zM27 29h1v1h-1zM0 30h2v1h-2zM10 30h1v1h-1zM12 30h2v1h-2zM20 30h1v1h-1zM23 30h2v1h-2zM26 30h1v1h-1zM30 30h1v1h-1zM0 31h1v1h-1zM2 31h3v1h-3zM7 31h6v1h-6zM14 31h3v1h-3zM19 31h1v1h-1zM21 31h2v1h-2zM24 31h2v1h-2zM31 31h1v1h-1z"/></pattern><pattern id="b32" patternUnits="userSpaceOnUse" width="32" height="32" patternTransform="scale(1.45 1.46)"><path fill="#1a1aff" d="M3 0h1v1h-1zM6 0h1v1h-1zM8 0h2v1h-2zM12 0h1v1h-1zM16 0h1v1h-1zM19 0h2v1h-2zM22 0h1v1h-1zM24 0h1v1h-1zM26 0h1v1h-1zM28 0h1v1h-1zM30 0h1v1h-1zM4 1h1v1h-1zM6 1h1v1h-1zM9 1h1v1h-1zM12 1h2v1h-2zM15 1h2v1h-2zM21 1h1v1h-1zM23 1h2v1h-2zM29 1h1v1h-1zM0 2h1v1h-1zM3 2h1v1h-1zM6 2h2v1h-2zM11 2h2v1h-2zM16 2h1v1h-1zM20 2h1v1h-1zM24 2h1v1h-1zM26 2h1v1h-1zM5 3h1v1h-1zM7 3h2v1h-2zM10 3h2v1h-2zM15 3h1v1h-1zM22 3h3v1h-3zM28 3h1v1h-1zM2 4h1v1h-1zM4 4h1v1h-1zM6 4h1v1h-1zM9 4h1v1h-1zM12 4h1v1h-1zM19 4h2v1h-2zM22 4h1v1h-1zM24 4h4v1h-4zM29 4h1v1h-1zM4 5h1v1h-1zM8 5h1v1h-1zM12 5h2v1h-2zM15 5h2v1h-2zM19 5h1v1h-1zM24 5h1v1h-1zM29 5h1v1h-1zM31 5h1v1h-1zM1 6h1v1h-1zM6 6h4v1h-4zM11 6h1v1h-1zM14 6h1v1h-1zM16 6h1v1h-1zM19 6h1v1h-1zM25 6h2v1h-2zM28 6h1v1h-1zM31 6h1v1h-1zM2 7h1v1h-1zM5 7h2v1h-2zM8 7h1v1h-1zM10 7h3v1h-3zM19 7h3v1h-3zM27 7h2v1h-2zM31 7h1v1h-1zM0 8h1v1h-1zM2 8h1v1h-1zM5 8h1v1h-1zM8 8h1v1h-1zM13 8h2v1h-2zM16 8h1v1h-1zM18 8h1v1h-1zM20 8h1v1h-1zM0 9h1v1h-1zM3 9h1v1h-1zM6 9h1v1h-1zM10 9h1v1h-1zM18 9h1v1h-1zM20 9h1v1h-1zM31 9h1v1h-1zM9 10h1v1h-1zM16 10h1v1h-1zM20 10h1v1h-1zM24 10h1v1h-1zM27 10h1v1h-1zM5 11h1v1h-1zM8 11h1v1h-1zM13 11h1v1h-1zM15 11h1v1h-1zM19 11h1v1h-1zM21 11h1v1h-1zM23 11h1v1h-1zM25 11h2v1h-2zM0 12h1v1h-1zM2 12h1v1h-1zM7 12h1v1h-1zM11 12h1v1h-1zM13 12h1v1h-1zM24 12h1v1h-1zM26 12h1v1h-1zM30 12h1v1h-1zM0 13h4v1h-4zM9 13h2v1h-2zM13 13h1v1h-1zM15 13h1v1h-1zM20 13h2v1h-2zM25 13h1v1h-1zM28 13h1v1h-1zM30 13h2v1h-2zM1 14h1v1h-1zM3 14h1v1h-1zM14 14h2v1h-2zM21 14h1v1h-1zM0 15h1v1h-1zM14 15h2v1h-2zM17 15h2v1h-2zM20 15h1v1h-1zM23 15h1v1h-1zM2 16h1v1h-1zM5 16h1v1h-1zM8 16h1v1h-1zM17 16h2v1h-2zM20 16h2v1h-2zM24 16h1v1h-1zM0 17h1v1h-1zM2 17h1v1h-1zM10 17h1v1h-1zM14 17h1v1h-1zM17 17h1v1h-1zM22 17h1v1h-1zM28 17h1v1h-1zM30 17h2v1h-2zM3 18h1v1h-1zM5 18h1v1h-1zM11 18h1v1h-1zM14 18h2v1h-2zM18 18h1v1h-1zM22 18h1v1h-1zM24 18h2v1h-2zM31 18h1v1h-1zM3 19h1v1h-1zM5 19h1v1h-1zM7 19h1v1h-1zM13 19h1v1h-1zM20 19h1v1h-1zM23 19h1v1h-1zM25 19h2v1h-2zM31 19h1v1h-1zM0 20h1v1h-1zM3 20h1v1h-1zM7 20h1v1h-1zM10 20h1v1h-1zM12 20h4v1h-4zM18 20h1v1h-1zM29 20h1v1h-1zM3 21h6v1h-6zM13 21h3v1h-3zM30 21h1v1h-1zM7 22h1v1h-1zM9 22h1v1h-1zM12 22h2v1h-2zM15 22h1v1h-1zM21 22h2v1h-2zM26 22h1v1h-1zM29 22h1v1h-1zM4 23h2v1h-2zM9 23h1v1h-1zM12 23h1v1h-1zM17 23h1v1h-1zM21 23h1v1h-1zM24 23h3v1h-3zM30 23h1v1h-1zM1 24h1v1h-1zM4 24h1v1h-1zM7 24h1v1h-1zM10 24h1v1h-1zM12 24h1v1h-1zM17 24h1v1h-1zM19 24h1v1h-1zM27 24h2v1h-2zM31 24h1v1h-1zM0 25h2v1h-2zM4 25h1v1h-1zM12 25h1v1h-1zM17 25h7v1h-7zM26 25h1v1h-1zM1 26h1v1h-1zM3 26h1v1h-1zM10 26h2v1h-2zM14 26h4v1h-4zM19 26h1v1h-1zM21 26h1v1h-1zM29 26h1v1h-1zM31 26h1v1h-1zM1 27h2v1h-2zM14 27h1v1h-1zM20 27h1v1h-1zM26 27h2v1h-2zM30 27h2v1h-2zM1 28h1v1h-1zM7 28h2v1h-2zM11 28h2v1h-2zM16 28h2v1h-2zM24 28h3v1h-3zM29 28h1v1h-1zM1 29h1v1h-1zM4 29h2v1h-2zM7 29h2v1h-2zM18 29h1v1h-1zM21 29h1v1h-1zM25 29h1v1h-1zM31 29h1v1h-1zM1 30h1v1h-1zM7 30h1v1h-1zM12 30h1v1h-1zM14 30h1v1h-1zM21 30h1v1h-1zM28 30h2v1h-2zM4 31h3v1h-3zM10 31h2v1h-2zM16 31h2v1h-2zM22 31h1v1h-1z"/></pattern><pattern id="g32" patternUnits="userSpaceOnUse" width="32" height="32" patternTransform="scale(1.45 1.46)"><path fill="#bababa" d="M4 0h1v1h-1zM7 0h1v1h-1zM9 0h2v1h-2zM12 0h1v1h-1zM14 0h1v1h-1zM16 0h3v1h-3zM20 0h2v1h-2zM23 0h1v1h-1zM25 0h3v1h-3zM30 0h1v1h-1zM1 1h1v1h-1zM6 1h1v1h-1zM11 1h2v1h-2zM19 1h1v1h-1zM21 1h2v1h-2zM28 1h2v1h-2zM1 2h2v1h-2zM4 2h1v1h-1zM9 2h1v1h-1zM11 2h1v1h-1zM13 2h1v1h-1zM15 2h2v1h-2zM23 2h2v1h-2zM31 2h1v1h-1zM2 3h2v1h-2zM9 3h1v1h-1zM11 3h1v1h-1zM15 3h4v1h-4zM28 3h2v1h-2zM31 3h1v1h-1zM13 4h1v1h-1zM16 4h1v1h-1zM31 4h1v1h-1zM3 5h1v1h-1zM8 5h5v1h-5zM19 5h1v1h-1zM21 5h1v1h-1zM23 5h1v1h-1zM27 5h3v1h-3zM1 6h1v1h-1zM5 6h1v1h-1zM7 6h1v1h-1zM10 6h1v1h-1zM15 6h1v1h-1zM18 6h1v1h-1zM20 6h2v1h-2zM24 6h1v1h-1zM31 6h1v1h-1zM1 7h2v1h-2zM4 7h1v1h-1zM8 7h1v1h-1zM11 7h1v1h-1zM13 7h1v1h-1zM21 7h2v1h-2zM25 7h1v1h-1zM30 7h1v1h-1zM5 8h1v1h-1zM8 8h3v1h-3zM16 8h1v1h-1zM20 8h2v1h-2zM24 8h3v1h-3zM28 8h1v1h-1zM30 8h2v1h-2zM1 9h1v1h-1zM5 9h1v1h-1zM7 9h1v1h-1zM11 9h2v1h-2zM16 9h1v1h-1zM18 9h1v1h-1zM20 9h1v1h-1zM26 9h1v1h-1zM29 9h1v1h-1zM3 10h1v1h-1zM10 10h1v1h-1zM19 10h1v1h-1zM26 10h2v1h-2zM1 11h2v1h-2zM5 11h1v1h-1zM7 11h3v1h-3zM11 11h2v1h-2zM15 11h1v1h-1zM17 11h2v1h-2zM22 11h1v1h-1zM30 11h1v1h-1zM2 12h3v1h-3zM7 12h1v1h-1zM10 12h2v1h-2zM13 12h1v1h-1zM15 12h1v1h-1zM24 12h1v1h-1zM27 12h5v1h-5zM6 13h2v1h-2zM13 13h2v1h-2zM16 13h1v1h-1zM18 13h1v1h-1zM20 13h4v1h-4zM25 13h2v1h-2zM29 13h1v1h-1zM2 14h1v1h-1zM9 14h2v1h-2zM15 14h1v1h-1zM17 14h1v1h-1zM19 14h1v1h-1zM21 14h1v1h-1zM25 14h1v1h-1zM31 14h1v1h-1zM2 15h1v1h-1zM6 15h1v1h-1zM8 15h1v1h-1zM15 15h1v1h-1zM19 15h1v1h-1zM22 15h3v1h-3zM2 16h1v1h-1zM6 16h2v1h-2zM11 16h3v1h-3zM19 16h1v1h-1zM23 16h2v1h-2zM0 17h1v1h-1zM6 17h2v1h-2zM16 17h2v1h-2zM21 17h1v1h-1zM24 17h3v1h-3zM29 17h1v1h-1zM1 18h1v1h-1zM3 18h6v1h-6zM18 18h1v1h-1zM21 18h1v1h-1zM24 18h1v1h-1zM26 18h2v1h-2zM0 19h4v1h-4zM8 19h1v1h-1zM10 19h1v1h-1zM13 19h1v1h-1zM16 19h1v1h-1zM25 19h1v1h-1zM30 19h1v1h-1zM0 20h3v1h-3zM8 20h1v1h-1zM10 20h1v1h-1zM13 20h2v1h-2zM28 20h1v1h-1zM0 21h1v1h-1zM2 21h3v1h-3zM7 21h2v1h-2zM12 21h1v1h-1zM15 21h1v1h-1zM20 21h4v1h-4zM31 21h1v1h-1zM2 22h1v1h-1zM4 22h1v1h-1zM12 22h1v1h-1zM17 22h3v1h-3zM23 22h1v1h-1zM25 22h1v1h-1zM28 22h1v1h-1zM30 22h1v1h-1zM1 23h1v1h-1zM8 23h1v1h-1zM11 23h1v1h-1zM19 23h1v1h-1zM22 23h3v1h-3zM0 24h1v1h-1zM6 24h3v1h-3zM10 24h1v1h-1zM15 24h1v1h-1zM17 24h4v1h-4zM22 24h1v1h-1zM30 24h2v1h-2zM3 25h4v1h-4zM9 25h1v1h-1zM14 25h2v1h-2zM24 25h1v1h-1zM29 25h2v1h-2zM2 26h1v1h-1zM9 26h1v1h-1zM14 26h2v1h-2zM20 26h3v1h-3zM0 27h1v1h-1zM3 27h3v1h-3zM17 27h1v1h-1zM25 27h2v1h-2zM29 27h1v1h-1zM2 28h2v1h-2zM5 28h1v1h-1zM10 28h1v1h-1zM17 28h4v1h-4zM22 28h1v1h-1zM25 28h1v1h-1zM27 28h1v1h-1zM29 28h1v1h-1zM0 29h6v1h-6zM7 29h1v1h-1zM9 29h1v1h-1zM11 29h1v1h-1zM13 29h1v1h-1zM5 30h3v1h-3zM10 30h2v1h-2zM18 30h1v1h-1zM24 30h1v1h-1zM31 30h1v1h-1zM3 31h1v1h-1zM7 31h1v1h-1zM9 31h1v1h-1zM14 31h1v1h-1zM18 31h1v1h-1zM20 31h1v1h-1zM23 31h1v1h-1zM25 31h1v1h-1z"/></pattern><pattern id="b78" patternUnits="userSpaceOnUse" width="32" height="32" patternTransform="scale(1.45 1.46)"><path fill="#1a1aff" d="M0 0h2v1h-2zM3 0h1v1h-1zM5 0h3v1h-3zM9 0h4v1h-4zM16 0h2v1h-2zM19 0h2v1h-2zM22 0h1v1h-1zM24 0h1v1h-1zM26 0h2v1h-2zM29 0h1v1h-1zM31 0h1v1h-1zM1 1h10v1h-10zM12 1h2v1h-2zM15 1h17v1h-17zM0 2h2v1h-2zM3 2h4v1h-4zM8 2h14v1h-14zM23 2h7v1h-7zM31 2h1v1h-1zM0 3h4v1h-4zM5 3h3v1h-3zM9 3h12v1h-12zM23 3h3v1h-3zM27 3h5v1h-5zM0 4h3v1h-3zM4 4h7v1h-7zM19 4h13v1h-13zM1 5h1v1h-1zM3 5h8v1h-8zM12 5h12v1h-12zM25 5h7v1h-7zM0 6h4v1h-4zM5 6h1v1h-1zM7 6h1v1h-1zM11 6h2v1h-2zM14 6h3v1h-3zM18 6h4v1h-4zM23 6h1v1h-1zM25 6h6v1h-6zM0 7h1v1h-1zM2 7h1v1h-1zM5 7h1v1h-1zM9 7h4v1h-4zM14 7h12v1h-12zM27 7h5v1h-5zM0 8h7v1h-7zM8 8h6v1h-6zM15 8h3v1h-3zM20 8h2v1h-2zM23 8h4v1h-4zM30 8h2v1h-2zM0 9h4v1h-4zM5 9h2v1h-2zM8 9h2v1h-2zM11 9h1v1h-1zM13 9h2v1h-2zM16 9h3v1h-3zM20 9h5v1h-5zM26 9h4v1h-4zM1 10h4v1h-4zM6 10h1v1h-1zM9 10h4v1h-4zM14 10h1v1h-1zM16 10h6v1h-6zM23 10h9v1h-9zM0 11h5v1h-5zM6 11h2v1h-2zM9 11h3v1h-3zM13 11h9v1h-9zM23 11h9v1h-9zM0 12h2v1h-2zM3 12h1v1h-1zM5 12h16v1h-16zM22 12h4v1h-4zM27 12h1v1h-1zM30 12h2v1h-2zM0 13h5v1h-5zM6 13h2v1h-2zM9 13h12v1h-12zM23 13h1v1h-1zM25 13h3v1h-3zM29 13h1v1h-1zM31 13h1v1h-1zM0 14h6v1h-6zM8 14h4v1h-4zM13 14h2v1h-2zM16 14h8v1h-8zM25 14h3v1h-3zM29 14h2v1h-2zM0 15h9v1h-9zM11 15h1v1h-1zM13 15h1v1h-1zM15 15h7v1h-7zM25 15h4v1h-4zM30 15h2v1h-2zM0 16h3v1h-3zM4 16h9v1h-9zM14 16h7v1h-7zM23 16h6v1h-6zM30 16h1v1h-1zM0 17h4v1h-4zM5 17h2v1h-2zM9 17h1v1h-1zM11 17h2v1h-2zM14 17h2v1h-2zM17 17h4v1h-4zM22 17h2v1h-2zM25 17h2v1h-2zM28 17h4v1h-4zM0 18h4v1h-4zM5 18h9v1h-9zM15 18h1v1h-1zM17 18h2v1h-2zM20 18h6v1h-6zM29 18h1v1h-1zM31 18h1v1h-1zM0 19h9v1h-9zM10 19h3v1h-3zM15 19h1v1h-1zM17 19h3v1h-3zM21 19h6v1h-6zM31 19h1v1h-1zM0 20h3v1h-3zM4 20h7v1h-7zM12 20h9v1h-9zM22 20h4v1h-4zM27 20h5v1h-5zM0 21h4v1h-4zM6 21h5v1h-5zM13 21h2v1h-2zM17 21h5v1h-5zM24 21h1v1h-1zM26 21h4v1h-4zM31 21h1v1h-1zM0 22h3v1h-3zM4 22h1v1h-1zM9 22h1v1h-1zM12 22h1v1h-1zM14 22h5v1h-5zM20 22h12v1h-12zM0 23h8v1h-8zM10 23h1v1h-1zM13 23h1v1h-1zM15 23h2v1h-2zM21 23h4v1h-4zM26 23h3v1h-3zM31 23h1v1h-1zM0 24h9v1h-9zM10 24h3v1h-3zM14 24h1v1h-1zM16 24h2v1h-2zM19 24h1v1h-1zM21 24h1v1h-1zM23 24h4v1h-4zM28 24h4v1h-4zM1 25h1v1h-1zM3 25h9v1h-9zM13 25h5v1h-5zM19 25h3v1h-3zM23 25h4v1h-4zM28 25h3v1h-3zM0 26h3v1h-3zM4 26h5v1h-5zM10 26h3v1h-3zM15 26h1v1h-1zM17 26h4v1h-4zM22 26h1v1h-1zM24 26h4v1h-4zM30 26h2v1h-2zM0 27h4v1h-4zM5 27h1v1h-1zM8 27h1v1h-1zM10 27h4v1h-4zM15 27h2v1h-2zM19 27h3v1h-3zM23 27h2v1h-2zM26 27h2v1h-2zM29 27h1v1h-1zM1 28h1v1h-1zM3 28h3v1h-3zM8 28h1v1h-1zM12 28h4v1h-4zM18 28h2v1h-2zM21 28h8v1h-8zM30 28h2v1h-2zM0 29h8v1h-8zM9 29h2v1h-2zM12 29h4v1h-4zM17 29h1v1h-1zM19 29h2v1h-2zM22 29h4v1h-4zM27 29h3v1h-3zM31 29h1v1h-1zM0 30h1v1h-1zM2 30h2v1h-2zM5 30h3v1h-3zM10 30h4v1h-4zM16 30h5v1h-5zM22 30h3v1h-3zM26 30h2v1h-2zM29 30h3v1h-3zM0 31h3v1h-3zM4 31h6v1h-6zM11 31h6v1h-6zM19 31h5v1h-5zM26 31h5v1h-5z"/></pattern><pattern id="g78" patternUnits="userSpaceOnUse" width="32" height="32" patternTransform="scale(1.45 1.46)"><path fill="#bababa" d="M0 0h6v1h-6zM7 0h2v1h-2zM11 0h2v1h-2zM14 0h5v1h-5zM21 0h1v1h-1zM23 0h4v1h-4zM28 0h1v1h-1zM30 0h1v1h-1zM2 1h3v1h-3zM6 1h12v1h-12zM20 1h1v1h-1zM22 1h4v1h-4zM28 1h1v1h-1zM30 1h2v1h-2zM0 2h3v1h-3zM6 2h3v1h-3zM12 2h7v1h-7zM20 2h2v1h-2zM23 2h7v1h-7zM31 2h1v1h-1zM0 3h12v1h-12zM13 3h1v1h-1zM15 3h17v1h-17zM0 4h7v1h-7zM9 4h5v1h-5zM15 4h17v1h-17zM0 5h1v1h-1zM2 5h4v1h-4zM7 5h3v1h-3zM12 5h1v1h-1zM15 5h4v1h-4zM20 5h2v1h-2zM23 5h3v1h-3zM27 5h3v1h-3zM31 5h1v1h-1zM1 6h4v1h-4zM6 6h4v1h-4zM11 6h2v1h-2zM14 6h7v1h-7zM22 6h2v1h-2zM25 6h1v1h-1zM27 6h2v1h-2zM30 6h2v1h-2zM0 7h7v1h-7zM9 7h2v1h-2zM13 7h2v1h-2zM16 7h3v1h-3zM20 7h1v1h-1zM22 7h6v1h-6zM30 7h2v1h-2zM0 8h7v1h-7zM8 8h6v1h-6zM15 8h1v1h-1zM17 8h2v1h-2zM20 8h4v1h-4zM26 8h3v1h-3zM30 8h1v1h-1zM0 9h2v1h-2zM5 9h12v1h-12zM18 9h1v1h-1zM20 9h7v1h-7zM29 9h3v1h-3zM0 10h5v1h-5zM6 10h15v1h-15zM22 10h1v1h-1zM24 10h2v1h-2zM27 10h1v1h-1zM29 10h3v1h-3zM0 11h6v1h-6zM7 11h1v1h-1zM9 11h1v1h-1zM11 11h2v1h-2zM14 11h1v1h-1zM16 11h3v1h-3zM20 11h2v1h-2zM24 11h2v1h-2zM27 11h5v1h-5zM0 12h2v1h-2zM5 12h9v1h-9zM15 12h17v1h-17zM0 13h2v1h-2zM3 13h1v1h-1zM5 13h3v1h-3zM9 13h2v1h-2zM12 13h2v1h-2zM15 13h4v1h-4zM20 13h5v1h-5zM27 13h5v1h-5zM0 14h9v1h-9zM10 14h4v1h-4zM15 14h1v1h-1zM18 14h2v1h-2zM21 14h2v1h-2zM24 14h4v1h-4zM30 14h2v1h-2zM0 15h1v1h-1zM2 15h1v1h-1zM4 15h1v1h-1zM6 15h1v1h-1zM8 15h2v1h-2zM12 15h5v1h-5zM19 15h13v1h-13zM0 16h2v1h-2zM3 16h8v1h-8zM13 16h7v1h-7zM21 16h4v1h-4zM26 16h2v1h-2zM31 16h1v1h-1zM0 17h11v1h-11zM12 17h6v1h-6zM19 17h3v1h-3zM23 17h1v1h-1zM25 17h7v1h-7zM0 18h3v1h-3zM4 18h5v1h-5zM10 18h1v1h-1zM12 18h2v1h-2zM17 18h2v1h-2zM20 18h4v1h-4zM26 18h3v1h-3zM30 18h2v1h-2zM0 19h2v1h-2zM3 19h1v1h-1zM8 19h4v1h-4zM14 19h5v1h-5zM20 19h7v1h-7zM28 19h4v1h-4zM1 20h30v1h-30zM0 21h1v1h-1zM2 21h2v1h-2zM5 21h5v1h-5zM11 21h4v1h-4zM16 21h10v1h-10zM28 21h1v1h-1zM30 21h2v1h-2zM0 22h2v1h-2zM3 22h8v1h-8zM12 22h3v1h-3zM16 22h3v1h-3zM20 22h6v1h-6zM27 22h2v1h-2zM30 22h2v1h-2zM0 23h2v1h-2zM3 23h2v1h-2zM6 23h1v1h-1zM8 23h1v1h-1zM11 23h5v1h-5zM18 23h1v1h-1zM20 23h1v1h-1zM23 23h4v1h-4zM28 23h4v1h-4zM0 24h7v1h-7zM8 24h1v1h-1zM11 24h2v1h-2zM14 24h13v1h-13zM28 24h4v1h-4zM1 25h2v1h-2zM4 25h1v1h-1zM6 25h3v1h-3zM10 25h2v1h-2zM13 25h2v1h-2zM16 25h1v1h-1zM18 25h2v1h-2zM21 25h1v1h-1zM24 25h8v1h-8zM0 26h2v1h-2zM3 26h3v1h-3zM7 26h10v1h-10zM19 26h1v1h-1zM21 26h7v1h-7zM29 26h3v1h-3zM1 27h5v1h-5zM8 27h4v1h-4zM13 27h4v1h-4zM18 27h4v1h-4zM23 27h9v1h-9zM0 28h6v1h-6zM7 28h4v1h-4zM12 28h7v1h-7zM20 28h1v1h-1zM22 28h8v1h-8zM31 28h1v1h-1zM0 29h1v1h-1zM3 29h4v1h-4zM8 29h7v1h-7zM16 29h3v1h-3zM20 29h1v1h-1zM23 29h7v1h-7zM31 29h1v1h-1zM0 30h16v1h-16zM17 30h5v1h-5zM24 30h6v1h-6zM31 30h1v1h-1zM0 31h11v1h-11zM12 31h3v1h-3zM16 31h1v1h-1zM18 31h2v1h-2zM21 31h4v1h-4zM26 31h2v1h-2zM29 31h1v1h-1zM31 31h1v1h-1z"/></pattern><pattern id="b25" patternUnits="userSpaceOnUse" width="32" height="32" patternTransform="scale(1.45 1.46)"><path fill="#1a1aff" d="M1 0h2v1h-2zM4 0h2v1h-2zM9 0h1v1h-1zM13 0h3v1h-3zM17 0h1v1h-1zM21 0h1v1h-1zM24 0h1v1h-1zM1 1h2v1h-2zM8 1h3v1h-3zM13 1h1v1h-1zM18 1h1v1h-1zM22 1h1v1h-1zM29 1h1v1h-1zM1 2h2v1h-2zM6 2h1v1h-1zM16 2h3v1h-3zM20 2h1v1h-1zM24 2h1v1h-1zM2 3h1v1h-1zM4 3h2v1h-2zM9 3h1v1h-1zM11 3h1v1h-1zM15 3h1v1h-1zM19 3h1v1h-1zM25 3h2v1h-2zM30 3h1v1h-1zM9 4h1v1h-1zM15 4h1v1h-1zM18 4h1v1h-1zM26 4h1v1h-1zM30 4h1v1h-1zM0 5h1v1h-1zM5 5h2v1h-2zM9 5h3v1h-3zM13 5h1v1h-1zM17 5h1v1h-1zM20 5h1v1h-1zM24 5h2v1h-2zM30 5h1v1h-1zM5 6h1v1h-1zM7 6h1v1h-1zM11 6h1v1h-1zM19 6h1v1h-1zM11 7h1v1h-1zM16 7h1v1h-1zM19 7h2v1h-2zM22 7h1v1h-1zM27 7h1v1h-1zM0 8h2v1h-2zM3 8h1v1h-1zM7 8h1v1h-1zM9 8h1v1h-1zM12 8h1v1h-1zM24 8h1v1h-1zM26 8h1v1h-1zM28 8h2v1h-2zM3 9h1v1h-1zM7 9h1v1h-1zM10 9h1v1h-1zM12 9h1v1h-1zM15 9h1v1h-1zM18 9h1v1h-1zM28 9h1v1h-1zM3 10h2v1h-2zM6 10h1v1h-1zM13 10h2v1h-2zM22 10h2v1h-2zM25 10h3v1h-3zM31 10h1v1h-1zM6 11h2v1h-2zM10 11h1v1h-1zM17 11h1v1h-1zM22 11h1v1h-1zM26 11h1v1h-1zM31 11h1v1h-1zM1 12h1v1h-1zM8 12h1v1h-1zM12 12h1v1h-1zM17 12h2v1h-2zM20 12h1v1h-1zM26 12h1v1h-1zM28 12h3v1h-3zM3 13h2v1h-2zM6 13h1v1h-1zM12 13h1v1h-1zM19 13h2v1h-2zM22 13h1v1h-1zM1 14h2v1h-2zM4 14h1v1h-1zM10 14h1v1h-1zM15 14h1v1h-1zM20 14h2v1h-2zM31 14h1v1h-1zM0 15h1v1h-1zM8 15h1v1h-1zM12 15h1v1h-1zM19 15h1v1h-1zM26 15h1v1h-1zM1 16h1v1h-1zM6 16h1v1h-1zM14 16h1v1h-1zM21 16h1v1h-1zM26 16h1v1h-1zM30 16h1v1h-1zM4 17h1v1h-1zM12 17h1v1h-1zM15 17h1v1h-1zM18 17h1v1h-1zM22 17h1v1h-1zM26 17h1v1h-1zM29 17h1v1h-1zM6 18h1v1h-1zM9 18h1v1h-1zM11 18h1v1h-1zM13 18h1v1h-1zM15 18h1v1h-1zM22 18h2v1h-2zM27 18h1v1h-1zM31 18h1v1h-1zM4 19h3v1h-3zM16 19h1v1h-1zM27 19h3v1h-3zM4 20h1v1h-1zM12 20h1v1h-1zM14 20h2v1h-2zM18 20h1v1h-1zM22 20h1v1h-1zM26 20h1v1h-1zM1 21h1v1h-1zM6 21h3v1h-3zM17 21h1v1h-1zM24 21h1v1h-1zM0 22h2v1h-2zM3 22h2v1h-2zM10 22h1v1h-1zM13 22h1v1h-1zM16 22h1v1h-1zM23 22h1v1h-1zM25 22h1v1h-1zM31 22h1v1h-1zM4 23h2v1h-2zM8 23h1v1h-1zM10 23h1v1h-1zM14 23h1v1h-1zM20 23h1v1h-1zM24 23h1v1h-1zM29 23h3v1h-3zM1 24h1v1h-1zM4 24h1v1h-1zM17 24h1v1h-1zM24 24h1v1h-1zM26 24h1v1h-1zM28 24h1v1h-1zM31 24h1v1h-1zM0 25h1v1h-1zM3 25h1v1h-1zM6 25h1v1h-1zM10 25h1v1h-1zM31 25h1v1h-1zM0 26h1v1h-1zM3 26h2v1h-2zM11 26h1v1h-1zM16 26h1v1h-1zM19 26h1v1h-1zM2 27h1v1h-1zM5 27h1v1h-1zM12 27h1v1h-1zM15 27h1v1h-1zM18 27h1v1h-1zM23 27h1v1h-1zM29 27h2v1h-2zM1 28h3v1h-3zM10 28h1v1h-1zM18 28h2v1h-2zM22 28h1v1h-1zM0 29h2v1h-2zM3 29h1v1h-1zM22 29h1v1h-1zM24 29h2v1h-2zM27 29h1v1h-1zM29 29h1v1h-1zM2 30h2v1h-2zM9 30h2v1h-2zM14 30h1v1h-1zM22 30h1v1h-1zM30 30h1v1h-1zM2 31h1v1h-1zM9 31h1v1h-1zM13 31h1v1h-1zM18 31h1v1h-1zM21 31h1v1h-1zM25 31h1v1h-1zM30 31h1v1h-1z"/></pattern><pattern id="bsp" patternUnits="userSpaceOnUse" width="32" height="32" patternTransform="scale(1.45 1.46)"><path fill="#ffffff" fill-opacity="0.28" d="M2 0h1v1h-1zM4 0h1v1h-1zM6 0h1v1h-1zM8 0h1v1h-1zM18 0h2v1h-2zM21 0h5v1h-5zM3 1h1v1h-1zM6 1h1v1h-1zM12 1h1v1h-1zM16 1h2v1h-2zM19 1h1v1h-1zM23 1h1v1h-1zM30 1h1v1h-1zM4 2h2v1h-2zM8 2h1v1h-1zM12 2h1v1h-1zM14 2h1v1h-1zM19 2h2v1h-2zM29 2h2v1h-2zM1 3h1v1h-1zM4 3h1v1h-1zM7 3h1v1h-1zM11 3h3v1h-3zM17 3h1v1h-1zM21 3h1v1h-1zM25 3h1v1h-1zM30 3h1v1h-1zM9 4h1v1h-1zM15 4h1v1h-1zM17 4h3v1h-3zM3 5h1v1h-1zM11 5h2v1h-2zM26 5h1v1h-1zM28 5h1v1h-1zM31 5h1v1h-1zM4 6h1v1h-1zM7 6h1v1h-1zM9 6h1v1h-1zM12 6h2v1h-2zM19 6h1v1h-1zM22 6h1v1h-1zM24 6h1v1h-1zM27 6h1v1h-1zM30 6h1v1h-1zM1 7h1v1h-1zM4 7h2v1h-2zM11 7h1v1h-1zM13 7h1v1h-1zM16 7h1v1h-1zM31 7h1v1h-1zM0 8h1v1h-1zM13 8h1v1h-1zM1 9h1v1h-1zM6 9h1v1h-1zM15 9h1v1h-1zM20 9h1v1h-1zM29 9h1v1h-1zM0 10h1v1h-1zM7 10h1v1h-1zM12 10h2v1h-2zM19 10h1v1h-1zM22 10h3v1h-3zM26 10h2v1h-2zM29 10h2v1h-2zM0 11h2v1h-2zM16 11h1v1h-1zM27 11h1v1h-1zM0 12h1v1h-1zM8 12h3v1h-3zM12 12h1v1h-1zM22 12h2v1h-2zM0 13h1v1h-1zM6 13h1v1h-1zM12 13h1v1h-1zM14 13h1v1h-1zM23 13h1v1h-1zM1 14h1v1h-1zM3 14h1v1h-1zM8 14h2v1h-2zM13 14h1v1h-1zM23 14h1v1h-1zM26 14h1v1h-1zM5 15h1v1h-1zM9 15h1v1h-1zM20 15h1v1h-1zM25 15h2v1h-2zM31 15h1v1h-1zM1 16h1v1h-1zM8 16h1v1h-1zM12 16h1v1h-1zM16 16h1v1h-1zM19 16h1v1h-1zM29 16h2v1h-2zM5 17h1v1h-1zM10 17h1v1h-1zM12 17h5v1h-5zM18 17h1v1h-1zM21 17h1v1h-1zM27 17h1v1h-1zM29 17h1v1h-1zM3 18h1v1h-1zM8 18h1v1h-1zM15 18h1v1h-1zM29 18h1v1h-1zM31 18h1v1h-1zM3 19h1v1h-1zM5 19h2v1h-2zM11 19h1v1h-1zM16 19h3v1h-3zM24 19h1v1h-1zM29 19h1v1h-1zM0 20h1v1h-1zM3 20h1v1h-1zM12 20h1v1h-1zM14 20h2v1h-2zM19 20h1v1h-1zM22 20h1v1h-1zM28 20h1v1h-1zM0 21h2v1h-2zM4 21h4v1h-4zM10 21h1v1h-1zM14 21h1v1h-1zM23 21h1v1h-1zM25 21h1v1h-1zM28 21h1v1h-1zM31 21h1v1h-1zM0 22h2v1h-2zM5 22h2v1h-2zM8 22h1v1h-1zM13 22h1v1h-1zM17 22h3v1h-3zM27 22h1v1h-1zM0 23h1v1h-1zM2 23h1v1h-1zM5 23h1v1h-1zM9 23h2v1h-2zM14 23h1v1h-1zM17 23h1v1h-1zM21 23h2v1h-2zM28 23h2v1h-2zM0 24h1v1h-1zM2 24h1v1h-1zM4 24h1v1h-1zM8 24h1v1h-1zM10 24h1v1h-1zM13 24h3v1h-3zM18 24h1v1h-1zM20 24h1v1h-1zM25 24h1v1h-1zM30 24h1v1h-1zM13 25h1v1h-1zM16 25h1v1h-1zM23 25h1v1h-1zM29 25h1v1h-1zM3 26h2v1h-2zM7 26h1v1h-1zM10 26h1v1h-1zM12 26h2v1h-2zM18 26h2v1h-2zM22 26h1v1h-1zM24 26h1v1h-1zM30 26h1v1h-1zM7 27h3v1h-3zM18 27h1v1h-1zM22 27h4v1h-4zM27 27h1v1h-1zM31 27h1v1h-1zM0 28h2v1h-2zM5 28h1v1h-1zM8 28h1v1h-1zM10 28h1v1h-1zM15 28h1v1h-1zM18 28h1v1h-1zM1 29h1v1h-1zM8 29h1v1h-1zM16 29h1v1h-1zM22 29h1v1h-1zM24 29h1v1h-1zM1 30h2v1h-2zM4 30h2v1h-2zM7 30h4v1h-4zM20 30h2v1h-2zM23 30h3v1h-3zM27 30h1v1h-1zM31 30h1v1h-1zM2 31h1v1h-1zM5 31h1v1h-1zM7 31h1v1h-1zM12 31h1v1h-1zM14 31h1v1h-1zM16 31h1v1h-1zM19 31h1v1h-1zM23 31h2v1h-2z"/><path fill="#1020ff" fill-opacity="0.45" d="M0 0h1v1h-1zM7 0h1v1h-1zM11 0h1v1h-1zM13 0h1v1h-1zM20 0h1v1h-1zM26 0h1v1h-1zM28 0h1v1h-1zM31 0h1v1h-1zM2 1h1v1h-1zM5 1h1v1h-1zM9 1h1v1h-1zM15 1h1v1h-1zM27 1h1v1h-1zM31 1h1v1h-1zM1 2h2v1h-2zM10 2h2v1h-2zM17 2h2v1h-2zM22 2h1v1h-1zM26 2h1v1h-1zM31 2h1v1h-1zM3 3h1v1h-1zM6 3h1v1h-1zM15 3h1v1h-1zM18 3h1v1h-1zM23 3h1v1h-1zM26 3h1v1h-1zM28 3h1v1h-1zM7 4h1v1h-1zM10 4h2v1h-2zM16 4h1v1h-1zM27 4h2v1h-2zM0 5h2v1h-2zM4 5h1v1h-1zM6 5h1v1h-1zM9 5h2v1h-2zM13 5h1v1h-1zM18 5h1v1h-1zM20 5h3v1h-3zM27 5h1v1h-1zM29 5h1v1h-1zM1 6h2v1h-2zM8 6h1v1h-1zM10 6h1v1h-1zM14 6h1v1h-1zM18 6h1v1h-1zM20 6h1v1h-1zM26 6h1v1h-1zM28 6h2v1h-2zM31 6h1v1h-1zM10 7h1v1h-1zM18 7h1v1h-1zM21 7h2v1h-2zM26 7h2v1h-2zM1 8h1v1h-1zM10 8h1v1h-1zM16 8h1v1h-1zM19 8h1v1h-1zM21 8h3v1h-3zM29 8h2v1h-2zM7 9h2v1h-2zM13 9h1v1h-1zM17 9h1v1h-1zM19 9h1v1h-1zM21 9h2v1h-2zM25 9h2v1h-2zM30 9h1v1h-1zM5 10h2v1h-2zM9 10h2v1h-2zM14 10h1v1h-1zM20 10h2v1h-2zM2 11h1v1h-1zM7 11h1v1h-1zM12 11h2v1h-2zM18 11h1v1h-1zM21 11h2v1h-2zM24 11h2v1h-2zM29 11h2v1h-2zM1 12h1v1h-1zM3 12h2v1h-2zM6 12h1v1h-1zM11 12h1v1h-1zM15 12h1v1h-1zM17 12h1v1h-1zM20 12h2v1h-2zM25 12h2v1h-2zM30 12h1v1h-1zM9 13h1v1h-1zM16 13h2v1h-2zM20 13h1v1h-1zM27 13h1v1h-1zM29 13h2v1h-2zM4 14h2v1h-2zM14 14h4v1h-4zM20 14h2v1h-2zM27 14h1v1h-1zM31 14h1v1h-1zM13 15h2v1h-2zM16 15h2v1h-2zM21 15h1v1h-1zM30 15h1v1h-1zM3 16h1v1h-1zM13 16h3v1h-3zM25 16h1v1h-1zM1 17h1v1h-1zM6 17h2v1h-2zM19 17h2v1h-2zM23 17h1v1h-1zM25 17h1v1h-1zM30 17h2v1h-2zM1 18h1v1h-1zM6 18h2v1h-2zM9 18h1v1h-1zM19 18h4v1h-4zM26 18h1v1h-1zM28 18h1v1h-1zM2 19h1v1h-1zM7 19h1v1h-1zM12 19h1v1h-1zM19 19h1v1h-1zM1 20h1v1h-1zM5 20h1v1h-1zM8 20h1v1h-1zM13 20h1v1h-1zM24 20h4v1h-4zM2 21h1v1h-1zM8 21h1v1h-1zM11 21h3v1h-3zM18 21h2v1h-2zM22 21h1v1h-1zM27 21h1v1h-1zM4 22h1v1h-1zM7 22h1v1h-1zM9 22h4v1h-4zM25 22h2v1h-2zM30 22h1v1h-1zM1 23h1v1h-1zM8 23h1v1h-1zM15 23h1v1h-1zM23 23h3v1h-3zM30 23h1v1h-1zM1 24h1v1h-1zM5 24h1v1h-1zM9 24h1v1h-1zM12 24h1v1h-1zM16 24h1v1h-1zM19 24h1v1h-1zM21 24h1v1h-1zM27 24h3v1h-3zM31 24h1v1h-1zM0 25h1v1h-1zM2 25h1v1h-1zM9 25h3v1h-3zM25 25h2v1h-2zM6 26h1v1h-1zM14 26h4v1h-4zM23 26h1v1h-1zM28 26h1v1h-1zM2 27h5v1h-5zM10 27h1v1h-1zM14 27h2v1h-2zM26 27h1v1h-1zM28 27h1v1h-1zM3 28h1v1h-1zM7 28h1v1h-1zM14 28h1v1h-1zM16 28h2v1h-2zM23 28h3v1h-3zM29 28h1v1h-1zM0 29h1v1h-1zM2 29h1v1h-1zM4 29h2v1h-2zM9 29h4v1h-4zM15 29h1v1h-1zM17 29h2v1h-2zM20 29h1v1h-1zM25 29h2v1h-2zM30 29h1v1h-1zM11 30h1v1h-1zM13 30h1v1h-1zM17 30h1v1h-1zM22 30h1v1h-1zM0 31h1v1h-1zM25 31h1v1h-1zM27 31h3v1h-3z"/></pattern><pattern id="csp" patternUnits="userSpaceOnUse" width="32" height="32" patternTransform="scale(1.45 1.46)"><path fill="#00eaff" d="M0 0h1v1h-1zM3 0h1v1h-1zM11 0h1v1h-1zM14 0h1v1h-1zM17 0h1v1h-1zM31 0h1v1h-1zM0 1h1v1h-1zM8 1h1v1h-1zM12 1h1v1h-1zM16 1h1v1h-1zM25 1h1v1h-1zM27 1h1v1h-1zM1 2h1v1h-1zM4 2h1v1h-1zM11 2h1v1h-1zM13 2h2v1h-2zM17 2h1v1h-1zM19 2h1v1h-1zM30 2h1v1h-1zM5 3h3v1h-3zM15 3h1v1h-1zM21 3h1v1h-1zM25 3h1v1h-1zM30 3h1v1h-1zM1 4h1v1h-1zM11 4h1v1h-1zM13 4h1v1h-1zM19 4h1v1h-1zM22 4h1v1h-1zM29 4h1v1h-1zM0 5h2v1h-2zM5 5h1v1h-1zM14 5h1v1h-1zM18 5h1v1h-1zM6 6h2v1h-2zM10 6h1v1h-1zM13 6h2v1h-2zM20 6h1v1h-1zM12 7h1v1h-1zM28 7h1v1h-1zM5 8h1v1h-1zM8 8h3v1h-3zM12 8h1v1h-1zM14 8h2v1h-2zM20 8h1v1h-1zM28 8h1v1h-1zM5 9h1v1h-1zM29 9h1v1h-1zM9 10h1v1h-1zM23 10h1v1h-1zM28 10h1v1h-1zM31 10h1v1h-1zM5 11h1v1h-1zM7 11h2v1h-2zM10 11h1v1h-1zM14 11h1v1h-1zM28 11h1v1h-1zM4 12h1v1h-1zM11 12h1v1h-1zM16 12h1v1h-1zM24 12h1v1h-1zM28 12h1v1h-1zM3 13h1v1h-1zM13 13h1v1h-1zM22 13h1v1h-1zM24 13h1v1h-1zM0 14h2v1h-2zM5 14h1v1h-1zM12 14h1v1h-1zM21 14h1v1h-1zM0 15h1v1h-1zM7 15h2v1h-2zM4 16h2v1h-2zM11 16h1v1h-1zM14 16h1v1h-1zM17 16h1v1h-1zM19 16h1v1h-1zM23 16h1v1h-1zM20 17h1v1h-1zM26 17h1v1h-1zM31 17h1v1h-1zM2 18h1v1h-1zM25 18h1v1h-1zM31 18h1v1h-1zM3 19h1v1h-1zM31 19h1v1h-1zM13 20h1v1h-1zM17 20h1v1h-1zM23 20h2v1h-2zM4 21h1v1h-1zM12 21h1v1h-1zM18 21h2v1h-2zM25 21h1v1h-1zM29 21h1v1h-1zM4 22h1v1h-1zM9 22h1v1h-1zM13 22h1v1h-1zM19 22h2v1h-2zM28 22h1v1h-1zM31 22h1v1h-1zM3 23h1v1h-1zM9 23h2v1h-2zM27 23h1v1h-1zM2 24h1v1h-1zM5 24h1v1h-1zM13 24h1v1h-1zM25 24h1v1h-1zM27 24h1v1h-1zM0 25h1v1h-1zM8 25h1v1h-1zM19 25h2v1h-2zM24 25h1v1h-1zM26 25h2v1h-2zM31 25h1v1h-1zM3 26h3v1h-3zM15 26h1v1h-1zM19 26h1v1h-1zM23 26h2v1h-2zM30 26h1v1h-1zM0 27h1v1h-1zM12 27h1v1h-1zM15 27h1v1h-1zM20 27h1v1h-1zM24 27h2v1h-2zM1 28h2v1h-2zM12 28h1v1h-1zM16 28h1v1h-1zM20 28h1v1h-1zM30 28h1v1h-1zM15 29h1v1h-1zM20 29h1v1h-1zM22 29h1v1h-1zM30 29h1v1h-1zM22 30h1v1h-1zM26 30h1v1h-1zM4 31h1v1h-1zM6 31h1v1h-1zM9 31h1v1h-1zM20 31h1v1h-1zM22 31h1v1h-1zM27 31h1v1h-1z"/><path fill="#30ffc0" d="M4 0h2v1h-2zM7 0h1v1h-1zM25 0h1v1h-1zM30 0h1v1h-1zM20 1h1v1h-1zM28 1h1v1h-1zM5 2h1v1h-1zM9 2h1v1h-1zM16 2h1v1h-1zM13 3h1v1h-1zM22 3h1v1h-1zM31 3h1v1h-1zM0 4h1v1h-1zM8 4h1v1h-1zM24 4h1v1h-1zM16 5h1v1h-1zM23 5h1v1h-1zM3 6h1v1h-1zM16 6h1v1h-1zM27 6h1v1h-1zM31 6h1v1h-1zM6 7h1v1h-1zM19 7h2v1h-2zM26 7h1v1h-1zM30 7h1v1h-1zM29 8h1v1h-1zM0 9h1v1h-1zM8 9h1v1h-1zM18 9h1v1h-1zM22 9h1v1h-1zM2 10h2v1h-2zM7 10h1v1h-1zM29 10h1v1h-1zM0 11h1v1h-1zM4 11h1v1h-1zM19 11h1v1h-1zM21 11h1v1h-1zM14 12h1v1h-1zM25 12h1v1h-1zM27 12h1v1h-1zM6 13h1v1h-1zM14 14h1v1h-1zM22 14h1v1h-1zM5 15h1v1h-1zM11 15h1v1h-1zM14 15h1v1h-1zM16 15h2v1h-2zM26 15h1v1h-1zM29 15h1v1h-1zM9 16h2v1h-2zM16 16h1v1h-1zM28 16h1v1h-1zM30 16h2v1h-2zM12 17h1v1h-1zM28 17h1v1h-1zM0 18h2v1h-2zM15 18h1v1h-1zM7 19h1v1h-1zM14 19h1v1h-1zM22 19h1v1h-1zM3 20h1v1h-1zM15 20h1v1h-1zM25 20h1v1h-1zM28 20h1v1h-1zM0 21h1v1h-1zM5 21h1v1h-1zM2 22h2v1h-2zM15 22h1v1h-1zM17 22h1v1h-1zM26 22h1v1h-1zM1 23h2v1h-2zM5 23h1v1h-1zM8 23h1v1h-1zM28 23h2v1h-2zM7 24h1v1h-1zM22 24h1v1h-1zM24 24h1v1h-1zM6 25h1v1h-1zM9 25h1v1h-1zM11 25h1v1h-1zM16 25h1v1h-1zM21 25h1v1h-1zM5 27h1v1h-1zM8 27h1v1h-1zM19 27h1v1h-1zM5 28h2v1h-2zM11 28h1v1h-1zM18 28h1v1h-1zM21 28h1v1h-1zM29 28h1v1h-1zM2 29h1v1h-1zM14 29h1v1h-1zM21 29h1v1h-1zM25 29h1v1h-1zM3 30h1v1h-1zM8 30h1v1h-1zM14 30h1v1h-1zM7 31h1v1h-1zM21 31h1v1h-1zM24 31h1v1h-1zM28 31h1v1h-1z"/><path fill="#50ff70" d="M23 0h1v1h-1zM28 0h1v1h-1zM4 3h1v1h-1zM10 3h1v1h-1zM4 4h1v1h-1zM25 4h1v1h-1zM27 4h1v1h-1zM15 5h1v1h-1zM17 6h2v1h-2zM28 6h1v1h-1zM14 7h1v1h-1zM21 7h1v1h-1zM1 8h1v1h-1zM3 8h1v1h-1zM6 8h1v1h-1zM11 8h1v1h-1zM2 9h1v1h-1zM19 9h1v1h-1zM1 10h1v1h-1zM13 10h1v1h-1zM29 11h1v1h-1zM5 12h1v1h-1zM18 12h2v1h-2zM22 12h1v1h-1zM7 13h1v1h-1zM15 13h2v1h-2zM30 13h1v1h-1zM8 14h1v1h-1zM13 14h1v1h-1zM23 15h1v1h-1zM0 16h2v1h-2zM26 16h1v1h-1zM2 17h1v1h-1zM4 17h2v1h-2zM16 18h1v1h-1zM20 18h2v1h-2zM17 19h1v1h-1zM21 19h1v1h-1zM11 20h1v1h-1zM8 21h1v1h-1zM10 21h1v1h-1zM17 21h1v1h-1zM16 22h1v1h-1zM27 22h1v1h-1zM0 23h1v1h-1zM4 23h1v1h-1zM17 23h1v1h-1zM12 24h1v1h-1zM19 24h1v1h-1zM28 25h1v1h-1zM7 27h1v1h-1zM16 27h1v1h-1zM10 28h1v1h-1zM17 28h1v1h-1zM22 28h2v1h-2zM1 30h1v1h-1zM4 30h1v1h-1zM12 30h1v1h-1zM17 30h1v1h-1zM10 31h2v1h-2zM18 31h1v1h-1z"/></pattern><radialGradient id="mg1"><stop offset="0" stop-color="#fff"/><stop offset="0.35" stop-color="#ccc"/><stop offset="0.7" stop-color="#555"/><stop offset="1" stop-color="#000"/></radialGradient><mask id="mc1" maskUnits="userSpaceOnUse" x="0" y="0" width="740" height="704"><ellipse cx="222" cy="122" rx="46" ry="42" transform="rotate(-35 222 122)" fill="url(#mg1)"/><ellipse cx="192" cy="150" rx="30" ry="16" transform="rotate(-40 192 150)" fill="url(#mg1)" opacity="0.6"/></mask><pattern id="g50" patternUnits="userSpaceOnUse" width="32" height="32" patternTransform="scale(1.45 1.46)"><path fill="#bababa" d="M0 0h3v1h-3zM5 0h2v1h-2zM8 0h1v1h-1zM11 0h1v1h-1zM13 0h2v1h-2zM17 0h1v1h-1zM20 0h3v1h-3zM24 0h1v1h-1zM26 0h3v1h-3zM30 0h1v1h-1zM0 1h1v1h-1zM2 1h1v1h-1zM4 1h3v1h-3zM8 1h1v1h-1zM10 1h1v1h-1zM12 1h2v1h-2zM16 1h2v1h-2zM19 1h1v1h-1zM21 1h5v1h-5zM27 1h5v1h-5zM1 2h3v1h-3zM5 2h2v1h-2zM8 2h1v1h-1zM10 2h5v1h-5zM17 2h1v1h-1zM21 2h1v1h-1zM23 2h5v1h-5zM1 3h1v1h-1zM3 3h1v1h-1zM6 3h4v1h-4zM16 3h1v1h-1zM19 3h1v1h-1zM23 3h1v1h-1zM25 3h1v1h-1zM29 3h2v1h-2zM1 4h2v1h-2zM4 4h3v1h-3zM8 4h1v1h-1zM10 4h4v1h-4zM16 4h4v1h-4zM22 4h3v1h-3zM26 4h1v1h-1zM31 4h1v1h-1zM0 5h1v1h-1zM2 5h2v1h-2zM5 5h3v1h-3zM10 5h1v1h-1zM16 5h2v1h-2zM20 5h2v1h-2zM26 5h6v1h-6zM0 6h2v1h-2zM6 6h3v1h-3zM11 6h4v1h-4zM17 6h1v1h-1zM19 6h1v1h-1zM21 6h1v1h-1zM24 6h2v1h-2zM29 6h1v1h-1zM1 7h1v1h-1zM4 7h1v1h-1zM6 7h7v1h-7zM14 7h1v1h-1zM17 7h6v1h-6zM28 7h1v1h-1zM2 8h1v1h-1zM6 8h1v1h-1zM8 8h1v1h-1zM10 8h1v1h-1zM12 8h4v1h-4zM18 8h2v1h-2zM22 8h1v1h-1zM25 8h5v1h-5zM1 9h7v1h-7zM9 9h3v1h-3zM13 9h2v1h-2zM19 9h1v1h-1zM23 9h1v1h-1zM27 9h1v1h-1zM0 10h4v1h-4zM6 10h1v1h-1zM9 10h1v1h-1zM12 10h1v1h-1zM17 10h1v1h-1zM19 10h1v1h-1zM23 10h2v1h-2zM0 11h3v1h-3zM6 11h2v1h-2zM9 11h2v1h-2zM12 11h2v1h-2zM16 11h2v1h-2zM19 11h5v1h-5zM26 11h1v1h-1zM28 11h2v1h-2zM31 11h1v1h-1zM0 12h3v1h-3zM5 12h1v1h-1zM8 12h1v1h-1zM10 12h2v1h-2zM14 12h1v1h-1zM17 12h1v1h-1zM19 12h4v1h-4zM24 12h1v1h-1zM26 12h3v1h-3zM30 12h2v1h-2zM0 13h5v1h-5zM6 13h3v1h-3zM10 13h2v1h-2zM15 13h5v1h-5zM24 13h5v1h-5zM0 14h1v1h-1zM4 14h1v1h-1zM6 14h2v1h-2zM13 14h1v1h-1zM15 14h2v1h-2zM18 14h4v1h-4zM23 14h1v1h-1zM25 14h2v1h-2zM29 14h1v1h-1zM7 15h1v1h-1zM9 15h1v1h-1zM11 15h6v1h-6zM18 15h1v1h-1zM20 15h1v1h-1zM22 15h3v1h-3zM26 15h3v1h-3zM1 16h1v1h-1zM3 16h3v1h-3zM8 16h1v1h-1zM10 16h1v1h-1zM14 16h1v1h-1zM17 16h1v1h-1zM19 16h1v1h-1zM22 16h3v1h-3zM26 16h1v1h-1zM31 16h1v1h-1zM0 17h2v1h-2zM3 17h1v1h-1zM6 17h3v1h-3zM11 17h1v1h-1zM13 17h1v1h-1zM17 17h2v1h-2zM20 17h1v1h-1zM22 17h1v1h-1zM27 17h1v1h-1zM1 18h3v1h-3zM6 18h2v1h-2zM9 18h3v1h-3zM13 18h4v1h-4zM18 18h1v1h-1zM21 18h1v1h-1zM26 18h1v1h-1zM29 18h2v1h-2zM0 19h2v1h-2zM5 19h1v1h-1zM7 19h1v1h-1zM9 19h1v1h-1zM11 19h1v1h-1zM13 19h1v1h-1zM16 19h4v1h-4zM21 19h1v1h-1zM23 19h3v1h-3zM27 19h4v1h-4zM2 20h2v1h-2zM5 20h4v1h-4zM11 20h1v1h-1zM13 20h1v1h-1zM17 20h2v1h-2zM21 20h2v1h-2zM26 20h3v1h-3zM0 21h3v1h-3zM4 21h1v1h-1zM6 21h1v1h-1zM13 21h1v1h-1zM15 21h1v1h-1zM18 21h3v1h-3zM22 21h2v1h-2zM25 21h1v1h-1zM27 21h4v1h-4zM0 22h2v1h-2zM3 22h1v1h-1zM5 22h1v1h-1zM7 22h1v1h-1zM9 22h1v1h-1zM11 22h5v1h-5zM17 22h2v1h-2zM20 22h1v1h-1zM22 22h4v1h-4zM27 22h1v1h-1zM29 22h3v1h-3zM1 23h1v1h-1zM3 23h1v1h-1zM6 23h2v1h-2zM10 23h1v1h-1zM18 23h3v1h-3zM22 23h2v1h-2zM26 23h1v1h-1zM31 23h1v1h-1zM6 24h1v1h-1zM11 24h3v1h-3zM18 24h5v1h-5zM25 24h2v1h-2zM29 24h1v1h-1zM31 24h1v1h-1zM1 25h1v1h-1zM7 25h1v1h-1zM9 25h3v1h-3zM14 25h2v1h-2zM21 25h1v1h-1zM23 25h1v1h-1zM25 25h4v1h-4zM30 25h1v1h-1zM2 26h2v1h-2zM5 26h1v1h-1zM12 26h2v1h-2zM16 26h1v1h-1zM19 26h1v1h-1zM21 26h7v1h-7zM29 26h2v1h-2zM0 27h1v1h-1zM3 27h5v1h-5zM9 27h1v1h-1zM12 27h1v1h-1zM14 27h1v1h-1zM18 27h4v1h-4zM23 27h4v1h-4zM31 27h1v1h-1zM3 28h2v1h-2zM6 28h3v1h-3zM10 28h2v1h-2zM13 28h1v1h-1zM15 28h1v1h-1zM17 28h1v1h-1zM21 28h2v1h-2zM25 28h2v1h-2zM28 28h4v1h-4zM1 29h1v1h-1zM4 29h1v1h-1zM7 29h2v1h-2zM10 29h1v1h-1zM15 29h1v1h-1zM17 29h4v1h-4zM27 29h1v1h-1zM30 29h1v1h-1zM0 30h5v1h-5zM8 30h1v1h-1zM12 30h1v1h-1zM14 30h1v1h-1zM16 30h5v1h-5zM22 30h1v1h-1zM25 30h1v1h-1zM29 30h3v1h-3zM2 31h1v1h-1zM5 31h1v1h-1zM10 31h7v1h-7zM18 31h1v1h-1zM20 31h3v1h-3zM24 31h2v1h-2zM27 31h2v1h-2zM31 31h1v1h-1z"/></pattern><pattern id="g40" patternUnits="userSpaceOnUse" width="32" height="32" patternTransform="scale(1.45 1.46)"><path fill="#bababa" d="M0 0h2v1h-2zM5 0h2v1h-2zM11 0h1v1h-1zM13 0h1v1h-1zM16 0h1v1h-1zM21 0h1v1h-1zM23 0h1v1h-1zM25 0h1v1h-1zM27 0h1v1h-1zM31 0h1v1h-1zM0 1h1v1h-1zM2 1h1v1h-1zM4 1h2v1h-2zM7 1h1v1h-1zM9 1h1v1h-1zM13 1h1v1h-1zM16 1h2v1h-2zM20 1h1v1h-1zM23 1h1v1h-1zM26 1h3v1h-3zM30 1h2v1h-2zM0 2h1v1h-1zM3 2h2v1h-2zM6 2h4v1h-4zM12 2h1v1h-1zM15 2h2v1h-2zM19 2h1v1h-1zM28 2h2v1h-2zM0 3h1v1h-1zM2 3h2v1h-2zM5 3h1v1h-1zM7 3h1v1h-1zM9 3h2v1h-2zM13 3h1v1h-1zM15 3h1v1h-1zM17 3h3v1h-3zM24 3h2v1h-2zM28 3h2v1h-2zM2 4h1v1h-1zM8 4h2v1h-2zM13 4h1v1h-1zM17 4h1v1h-1zM19 4h1v1h-1zM21 4h4v1h-4zM31 4h1v1h-1zM0 5h1v1h-1zM3 5h2v1h-2zM8 5h2v1h-2zM11 5h1v1h-1zM13 5h1v1h-1zM18 5h1v1h-1zM20 5h1v1h-1zM28 5h2v1h-2zM1 6h7v1h-7zM9 6h1v1h-1zM12 6h1v1h-1zM21 6h4v1h-4zM28 6h1v1h-1zM0 7h1v1h-1zM2 7h1v1h-1zM7 7h2v1h-2zM10 7h1v1h-1zM12 7h1v1h-1zM14 7h1v1h-1zM19 7h1v1h-1zM22 7h2v1h-2zM25 7h2v1h-2zM28 7h1v1h-1zM1 8h1v1h-1zM4 8h3v1h-3zM8 8h2v1h-2zM11 8h2v1h-2zM16 8h1v1h-1zM20 8h2v1h-2zM23 8h1v1h-1zM25 8h1v1h-1zM29 8h1v1h-1zM31 8h1v1h-1zM0 9h3v1h-3zM4 9h1v1h-1zM6 9h1v1h-1zM9 9h4v1h-4zM14 9h1v1h-1zM19 9h1v1h-1zM22 9h2v1h-2zM28 9h1v1h-1zM30 9h2v1h-2zM2 10h1v1h-1zM4 10h2v1h-2zM7 10h3v1h-3zM11 10h1v1h-1zM13 10h1v1h-1zM15 10h1v1h-1zM17 10h2v1h-2zM24 10h1v1h-1zM26 10h1v1h-1zM28 10h1v1h-1zM30 10h1v1h-1zM0 11h2v1h-2zM6 11h1v1h-1zM9 11h3v1h-3zM13 11h1v1h-1zM15 11h1v1h-1zM17 11h1v1h-1zM20 11h3v1h-3zM27 11h3v1h-3zM31 11h1v1h-1zM0 12h3v1h-3zM5 12h3v1h-3zM15 12h3v1h-3zM19 12h1v1h-1zM21 12h1v1h-1zM25 12h1v1h-1zM28 12h1v1h-1zM30 12h1v1h-1zM1 13h1v1h-1zM3 13h4v1h-4zM8 13h2v1h-2zM12 13h1v1h-1zM14 13h1v1h-1zM16 13h1v1h-1zM18 13h2v1h-2zM21 13h4v1h-4zM26 13h1v1h-1zM28 13h1v1h-1zM30 13h2v1h-2zM1 14h2v1h-2zM5 14h3v1h-3zM9 14h2v1h-2zM12 14h2v1h-2zM15 14h1v1h-1zM20 14h2v1h-2zM26 14h1v1h-1zM29 14h2v1h-2zM0 15h1v1h-1zM3 15h1v1h-1zM5 15h1v1h-1zM9 15h2v1h-2zM12 15h4v1h-4zM17 15h1v1h-1zM23 15h1v1h-1zM26 15h1v1h-1zM28 15h1v1h-1zM30 15h1v1h-1zM1 16h2v1h-2zM6 16h2v1h-2zM9 16h1v1h-1zM11 16h2v1h-2zM15 16h4v1h-4zM20 16h1v1h-1zM24 16h2v1h-2zM29 16h1v1h-1zM4 17h1v1h-1zM6 17h1v1h-1zM10 17h1v1h-1zM14 17h1v1h-1zM16 17h1v1h-1zM19 17h2v1h-2zM23 17h1v1h-1zM26 17h2v1h-2zM29 17h1v1h-1zM0 18h1v1h-1zM2 18h1v1h-1zM4 18h1v1h-1zM7 18h1v1h-1zM10 18h1v1h-1zM12 18h1v1h-1zM15 18h1v1h-1zM17 18h1v1h-1zM20 18h3v1h-3zM25 18h2v1h-2zM28 18h2v1h-2zM1 19h2v1h-2zM4 19h3v1h-3zM8 19h1v1h-1zM10 19h1v1h-1zM13 19h3v1h-3zM23 19h4v1h-4zM29 19h1v1h-1zM31 19h1v1h-1zM1 20h1v1h-1zM5 20h2v1h-2zM8 20h4v1h-4zM15 20h1v1h-1zM20 20h1v1h-1zM22 20h1v1h-1zM24 20h2v1h-2zM27 20h3v1h-3zM6 21h1v1h-1zM10 21h1v1h-1zM13 21h1v1h-1zM17 21h3v1h-3zM22 21h3v1h-3zM29 21h1v1h-1zM0 22h1v1h-1zM3 22h1v1h-1zM5 22h1v1h-1zM10 22h3v1h-3zM17 22h1v1h-1zM21 22h3v1h-3zM26 22h1v1h-1zM29 22h2v1h-2zM0 23h3v1h-3zM4 23h1v1h-1zM7 23h1v1h-1zM10 23h2v1h-2zM16 23h1v1h-1zM18 23h2v1h-2zM25 23h3v1h-3zM30 23h1v1h-1zM3 24h1v1h-1zM5 24h1v1h-1zM8 24h1v1h-1zM10 24h1v1h-1zM18 24h2v1h-2zM21 24h2v1h-2zM26 24h1v1h-1zM28 24h2v1h-2zM0 25h1v1h-1zM2 25h1v1h-1zM4 25h2v1h-2zM22 25h1v1h-1zM25 25h4v1h-4zM30 25h1v1h-1zM0 26h1v1h-1zM2 26h1v1h-1zM4 26h1v1h-1zM6 26h1v1h-1zM11 26h2v1h-2zM15 26h1v1h-1zM17 26h1v1h-1zM20 26h1v1h-1zM27 26h1v1h-1zM29 26h1v1h-1zM31 26h1v1h-1zM2 27h2v1h-2zM5 27h1v1h-1zM9 27h1v1h-1zM13 27h1v1h-1zM20 27h1v1h-1zM28 27h1v1h-1zM30 27h1v1h-1zM2 28h2v1h-2zM17 28h1v1h-1zM19 28h1v1h-1zM21 28h1v1h-1zM25 28h1v1h-1zM27 28h2v1h-2zM0 29h1v1h-1zM3 29h1v1h-1zM10 29h1v1h-1zM19 29h1v1h-1zM21 29h1v1h-1zM29 29h3v1h-3zM3 30h5v1h-5zM9 30h2v1h-2zM12 30h1v1h-1zM15 30h1v1h-1zM21 30h2v1h-2zM25 30h1v1h-1zM27 30h1v1h-1zM31 30h1v1h-1zM2 31h1v1h-1zM6 31h1v1h-1zM8 31h1v1h-1zM10 31h2v1h-2zM14 31h1v1h-1zM17 31h2v1h-2zM21 31h1v1h-1zM25 31h2v1h-2zM28 31h2v1h-2z"/></pattern><pattern id="g30" patternUnits="userSpaceOnUse" width="32" height="32" patternTransform="scale(1.45 1.46)"><path fill="#bababa" d="M3 0h4v1h-4zM10 0h3v1h-3zM14 0h1v1h-1zM16 0h1v1h-1zM27 0h1v1h-1zM31 0h1v1h-1zM3 1h3v1h-3zM11 1h3v1h-3zM15 1h1v1h-1zM17 1h2v1h-2zM24 1h1v1h-1zM28 1h1v1h-1zM0 2h2v1h-2zM5 2h1v1h-1zM8 2h1v1h-1zM11 2h1v1h-1zM14 2h1v1h-1zM19 2h1v1h-1zM26 2h1v1h-1zM28 2h1v1h-1zM6 3h1v1h-1zM12 3h2v1h-2zM17 3h3v1h-3zM22 3h1v1h-1zM30 3h1v1h-1zM1 4h3v1h-3zM11 4h1v1h-1zM15 4h1v1h-1zM17 4h1v1h-1zM20 4h1v1h-1zM23 4h2v1h-2zM26 4h1v1h-1zM31 4h1v1h-1zM0 5h1v1h-1zM3 5h3v1h-3zM12 5h1v1h-1zM18 5h1v1h-1zM21 5h2v1h-2zM25 5h1v1h-1zM31 5h1v1h-1zM5 6h2v1h-2zM9 6h1v1h-1zM14 6h1v1h-1zM22 6h2v1h-2zM27 6h2v1h-2zM31 6h1v1h-1zM2 7h1v1h-1zM5 7h1v1h-1zM12 7h1v1h-1zM19 7h6v1h-6zM31 7h1v1h-1zM1 8h1v1h-1zM3 8h1v1h-1zM7 8h1v1h-1zM13 8h1v1h-1zM17 8h2v1h-2zM27 8h1v1h-1zM29 8h1v1h-1zM2 9h1v1h-1zM5 9h1v1h-1zM11 9h2v1h-2zM17 9h1v1h-1zM26 9h1v1h-1zM5 10h1v1h-1zM10 10h1v1h-1zM17 10h3v1h-3zM27 10h1v1h-1zM4 11h1v1h-1zM7 11h1v1h-1zM10 11h1v1h-1zM12 11h2v1h-2zM16 11h2v1h-2zM24 11h1v1h-1zM26 11h1v1h-1zM29 11h1v1h-1zM31 11h1v1h-1zM0 12h1v1h-1zM3 12h2v1h-2zM6 12h3v1h-3zM19 12h1v1h-1zM21 12h1v1h-1zM23 12h2v1h-2zM26 12h1v1h-1zM29 12h1v1h-1zM31 12h1v1h-1zM0 13h1v1h-1zM5 13h3v1h-3zM9 13h1v1h-1zM12 13h2v1h-2zM15 13h1v1h-1zM18 13h1v1h-1zM24 13h1v1h-1zM26 13h1v1h-1zM30 13h1v1h-1zM0 14h1v1h-1zM3 14h1v1h-1zM7 14h2v1h-2zM10 14h1v1h-1zM15 14h1v1h-1zM28 14h1v1h-1zM31 14h1v1h-1zM2 15h1v1h-1zM4 15h2v1h-2zM9 15h1v1h-1zM13 15h1v1h-1zM15 15h1v1h-1zM22 15h1v1h-1zM26 15h3v1h-3zM0 16h1v1h-1zM5 16h1v1h-1zM8 16h1v1h-1zM12 16h1v1h-1zM15 16h1v1h-1zM18 16h1v1h-1zM21 16h1v1h-1zM27 16h1v1h-1zM4 17h2v1h-2zM8 17h1v1h-1zM11 17h2v1h-2zM15 17h1v1h-1zM19 17h1v1h-1zM23 17h1v1h-1zM27 17h1v1h-1zM29 17h2v1h-2zM2 18h1v1h-1zM4 18h1v1h-1zM14 18h2v1h-2zM17 18h1v1h-1zM27 18h2v1h-2zM30 18h2v1h-2zM0 19h1v1h-1zM3 19h3v1h-3zM10 19h1v1h-1zM14 19h1v1h-1zM17 19h1v1h-1zM20 19h2v1h-2zM25 19h3v1h-3zM1 20h3v1h-3zM5 20h2v1h-2zM9 20h1v1h-1zM14 20h1v1h-1zM17 20h1v1h-1zM27 20h1v1h-1zM30 20h2v1h-2zM4 21h1v1h-1zM9 21h1v1h-1zM14 21h1v1h-1zM18 21h1v1h-1zM21 21h2v1h-2zM24 21h1v1h-1zM28 21h1v1h-1zM30 21h1v1h-1zM5 22h1v1h-1zM7 22h2v1h-2zM11 22h2v1h-2zM14 22h1v1h-1zM17 22h1v1h-1zM19 22h3v1h-3zM23 22h1v1h-1zM27 22h2v1h-2zM30 22h1v1h-1zM0 23h2v1h-2zM5 23h1v1h-1zM8 23h2v1h-2zM11 23h1v1h-1zM20 23h3v1h-3zM24 23h2v1h-2zM27 23h3v1h-3zM6 24h1v1h-1zM10 24h1v1h-1zM13 24h2v1h-2zM17 24h1v1h-1zM19 24h1v1h-1zM28 24h1v1h-1zM5 25h1v1h-1zM8 25h1v1h-1zM12 25h1v1h-1zM24 25h1v1h-1zM26 25h1v1h-1zM29 25h2v1h-2zM1 26h1v1h-1zM4 26h1v1h-1zM6 26h1v1h-1zM14 26h1v1h-1zM17 26h2v1h-2zM20 26h1v1h-1zM22 26h1v1h-1zM26 26h2v1h-2zM29 26h3v1h-3zM2 27h1v1h-1zM11 27h2v1h-2zM15 27h1v1h-1zM19 27h3v1h-3zM23 27h1v1h-1zM25 27h1v1h-1zM28 27h1v1h-1zM1 28h2v1h-2zM5 28h1v1h-1zM10 28h1v1h-1zM23 28h1v1h-1zM28 28h2v1h-2zM0 29h1v1h-1zM2 29h1v1h-1zM5 29h1v1h-1zM8 29h2v1h-2zM12 29h1v1h-1zM15 29h1v1h-1zM19 29h1v1h-1zM3 30h2v1h-2zM6 30h1v1h-1zM9 30h1v1h-1zM11 30h1v1h-1zM13 30h1v1h-1zM16 30h1v1h-1zM19 30h1v1h-1zM22 30h1v1h-1zM25 30h1v1h-1zM30 30h1v1h-1zM3 31h2v1h-2zM7 31h2v1h-2zM15 31h2v1h-2zM20 31h1v1h-1zM23 31h1v1h-1zM25 31h1v1h-1zM27 31h1v1h-1zM30 31h1v1h-1z"/></pattern><pattern id="b40" patternUnits="userSpaceOnUse" width="32" height="32" patternTransform="scale(1.45 1.46)"><path fill="#1a1aff" d="M0 0h3v1h-3zM6 0h1v1h-1zM9 0h2v1h-2zM18 0h4v1h-4zM26 0h1v1h-1zM28 0h2v1h-2zM0 1h1v1h-1zM3 1h1v1h-1zM5 1h1v1h-1zM9 1h2v1h-2zM12 1h5v1h-5zM19 1h4v1h-4zM24 1h1v1h-1zM27 1h1v1h-1zM29 1h3v1h-3zM2 2h1v1h-1zM5 2h1v1h-1zM7 2h1v1h-1zM9 2h3v1h-3zM16 2h1v1h-1zM19 2h1v1h-1zM22 2h2v1h-2zM27 2h1v1h-1zM31 2h1v1h-1zM1 3h1v1h-1zM4 3h1v1h-1zM13 3h1v1h-1zM16 3h1v1h-1zM21 3h2v1h-2zM24 3h1v1h-1zM29 3h3v1h-3zM0 4h1v1h-1zM8 4h3v1h-3zM18 4h3v1h-3zM24 4h2v1h-2zM27 4h1v1h-1zM0 5h1v1h-1zM2 5h1v1h-1zM5 5h2v1h-2zM9 5h1v1h-1zM11 5h1v1h-1zM13 5h1v1h-1zM17 5h1v1h-1zM20 5h1v1h-1zM24 5h7v1h-7zM1 6h1v1h-1zM8 6h4v1h-4zM22 6h2v1h-2zM26 6h1v1h-1zM29 6h1v1h-1zM0 7h2v1h-2zM3 7h1v1h-1zM6 7h2v1h-2zM15 7h1v1h-1zM18 7h2v1h-2zM22 7h1v1h-1zM2 8h1v1h-1zM6 8h1v1h-1zM12 8h2v1h-2zM18 8h4v1h-4zM24 8h3v1h-3zM28 8h1v1h-1zM30 8h2v1h-2zM4 9h2v1h-2zM8 9h1v1h-1zM10 9h1v1h-1zM13 9h1v1h-1zM20 9h1v1h-1zM22 9h4v1h-4zM27 9h1v1h-1zM31 9h1v1h-1zM0 10h3v1h-3zM10 10h1v1h-1zM13 10h1v1h-1zM15 10h1v1h-1zM20 10h1v1h-1zM22 10h2v1h-2zM26 10h1v1h-1zM28 10h2v1h-2zM2 11h1v1h-1zM6 11h1v1h-1zM10 11h1v1h-1zM12 11h6v1h-6zM22 11h1v1h-1zM4 12h1v1h-1zM8 12h1v1h-1zM14 12h1v1h-1zM18 12h1v1h-1zM21 12h1v1h-1zM27 12h1v1h-1zM30 12h2v1h-2zM0 13h2v1h-2zM5 13h2v1h-2zM10 13h1v1h-1zM12 13h1v1h-1zM16 13h2v1h-2zM22 13h1v1h-1zM26 13h1v1h-1zM28 13h3v1h-3zM0 14h2v1h-2zM6 14h2v1h-2zM10 14h1v1h-1zM15 14h1v1h-1zM17 14h1v1h-1zM20 14h1v1h-1zM23 14h1v1h-1zM29 14h1v1h-1zM1 15h3v1h-3zM5 15h1v1h-1zM8 15h2v1h-2zM11 15h5v1h-5zM20 15h1v1h-1zM25 15h1v1h-1zM28 15h1v1h-1zM31 15h1v1h-1zM0 16h2v1h-2zM4 16h1v1h-1zM7 16h1v1h-1zM10 16h1v1h-1zM21 16h3v1h-3zM1 17h1v1h-1zM24 17h1v1h-1zM27 17h2v1h-2zM30 17h2v1h-2zM2 18h1v1h-1zM6 18h1v1h-1zM8 18h2v1h-2zM13 18h3v1h-3zM17 18h1v1h-1zM20 18h1v1h-1zM23 18h1v1h-1zM25 18h1v1h-1zM27 18h1v1h-1zM30 18h2v1h-2zM1 19h1v1h-1zM3 19h7v1h-7zM12 19h1v1h-1zM14 19h2v1h-2zM20 19h1v1h-1zM26 19h2v1h-2zM29 19h3v1h-3zM0 20h1v1h-1zM3 20h1v1h-1zM6 20h1v1h-1zM11 20h1v1h-1zM14 20h1v1h-1zM16 20h3v1h-3zM21 20h3v1h-3zM26 20h1v1h-1zM28 20h4v1h-4zM2 21h2v1h-2zM10 21h1v1h-1zM13 21h1v1h-1zM15 21h1v1h-1zM17 21h1v1h-1zM21 21h4v1h-4zM27 21h2v1h-2zM30 21h1v1h-1zM0 22h2v1h-2zM4 22h1v1h-1zM6 22h1v1h-1zM8 22h4v1h-4zM15 22h1v1h-1zM18 22h1v1h-1zM26 22h2v1h-2zM29 22h2v1h-2zM5 23h1v1h-1zM7 23h1v1h-1zM10 23h1v1h-1zM12 23h3v1h-3zM17 23h3v1h-3zM22 23h1v1h-1zM25 23h3v1h-3zM2 24h1v1h-1zM5 24h1v1h-1zM9 24h1v1h-1zM14 24h1v1h-1zM16 24h1v1h-1zM23 24h3v1h-3zM1 25h1v1h-1zM3 25h1v1h-1zM6 25h1v1h-1zM9 25h2v1h-2zM12 25h1v1h-1zM16 25h1v1h-1zM19 25h3v1h-3zM23 25h1v1h-1zM26 25h1v1h-1zM30 25h2v1h-2zM0 26h3v1h-3zM4 26h1v1h-1zM7 26h3v1h-3zM16 26h3v1h-3zM20 26h1v1h-1zM24 26h1v1h-1zM26 26h3v1h-3zM30 26h1v1h-1zM2 27h2v1h-2zM8 27h2v1h-2zM14 27h1v1h-1zM17 27h2v1h-2zM21 27h2v1h-2zM25 27h1v1h-1zM28 27h2v1h-2zM31 27h1v1h-1zM0 28h1v1h-1zM2 28h2v1h-2zM5 28h1v1h-1zM7 28h2v1h-2zM11 28h1v1h-1zM15 28h1v1h-1zM19 28h3v1h-3zM27 28h1v1h-1zM29 28h1v1h-1zM0 29h1v1h-1zM2 29h1v1h-1zM4 29h2v1h-2zM7 29h1v1h-1zM11 29h3v1h-3zM16 29h1v1h-1zM19 29h3v1h-3zM23 29h2v1h-2zM26 29h1v1h-1zM30 29h2v1h-2zM0 30h1v1h-1zM2 30h1v1h-1zM4 30h2v1h-2zM12 30h1v1h-1zM14 30h2v1h-2zM18 30h1v1h-1zM27 30h2v1h-2zM31 30h1v1h-1zM0 31h6v1h-6zM7 31h2v1h-2zM11 31h2v1h-2zM15 31h2v1h-2zM18 31h1v1h-1zM21 31h2v1h-2zM24 31h3v1h-3zM28 31h1v1h-1z"/></pattern><pattern id="g45" patternUnits="userSpaceOnUse" width="32" height="32" patternTransform="scale(1.45 1.46)"><path fill="#bababa" d="M3 0h1v1h-1zM9 0h1v1h-1zM11 0h2v1h-2zM14 0h2v1h-2zM18 0h1v1h-1zM21 0h1v1h-1zM23 0h1v1h-1zM0 1h1v1h-1zM6 1h1v1h-1zM9 1h1v1h-1zM11 1h3v1h-3zM17 1h4v1h-4zM22 1h3v1h-3zM29 1h2v1h-2zM1 2h1v1h-1zM4 2h1v1h-1zM6 2h1v1h-1zM9 2h1v1h-1zM11 2h1v1h-1zM15 2h1v1h-1zM18 2h2v1h-2zM21 2h1v1h-1zM23 2h1v1h-1zM25 2h1v1h-1zM30 2h1v1h-1zM0 3h1v1h-1zM2 3h3v1h-3zM11 3h1v1h-1zM15 3h1v1h-1zM17 3h2v1h-2zM25 3h1v1h-1zM27 3h1v1h-1zM0 4h1v1h-1zM2 4h3v1h-3zM6 4h1v1h-1zM10 4h2v1h-2zM13 4h1v1h-1zM16 4h3v1h-3zM20 4h1v1h-1zM23 4h2v1h-2zM27 4h2v1h-2zM30 4h1v1h-1zM2 5h2v1h-2zM6 5h7v1h-7zM17 5h2v1h-2zM22 5h1v1h-1zM24 5h1v1h-1zM26 5h1v1h-1zM31 5h1v1h-1zM3 6h2v1h-2zM6 6h1v1h-1zM10 6h2v1h-2zM13 6h1v1h-1zM20 6h1v1h-1zM22 6h2v1h-2zM29 6h1v1h-1zM31 6h1v1h-1zM1 7h3v1h-3zM6 7h1v1h-1zM12 7h1v1h-1zM14 7h1v1h-1zM19 7h2v1h-2zM23 7h2v1h-2zM28 7h1v1h-1zM0 8h3v1h-3zM5 8h2v1h-2zM8 8h2v1h-2zM12 8h2v1h-2zM16 8h1v1h-1zM22 8h3v1h-3zM26 8h1v1h-1zM28 8h1v1h-1zM31 8h1v1h-1zM0 9h1v1h-1zM2 9h2v1h-2zM10 9h2v1h-2zM14 9h1v1h-1zM19 9h2v1h-2zM23 9h1v1h-1zM25 9h1v1h-1zM27 9h5v1h-5zM0 10h1v1h-1zM2 10h1v1h-1zM4 10h2v1h-2zM8 10h2v1h-2zM13 10h2v1h-2zM18 10h4v1h-4zM28 10h2v1h-2zM1 11h2v1h-2zM8 11h2v1h-2zM11 11h4v1h-4zM16 11h3v1h-3zM23 11h2v1h-2zM26 11h4v1h-4zM2 12h2v1h-2zM5 12h1v1h-1zM7 12h1v1h-1zM12 12h1v1h-1zM14 12h2v1h-2zM18 12h1v1h-1zM26 12h1v1h-1zM3 13h1v1h-1zM6 13h2v1h-2zM9 13h1v1h-1zM11 13h1v1h-1zM13 13h1v1h-1zM15 13h1v1h-1zM19 13h1v1h-1zM23 13h1v1h-1zM28 13h1v1h-1zM4 14h2v1h-2zM9 14h1v1h-1zM18 14h1v1h-1zM20 14h1v1h-1zM22 14h1v1h-1zM25 14h1v1h-1zM27 14h1v1h-1zM29 14h2v1h-2zM0 15h1v1h-1zM2 15h2v1h-2zM5 15h2v1h-2zM9 15h2v1h-2zM12 15h1v1h-1zM14 15h3v1h-3zM20 15h1v1h-1zM22 15h1v1h-1zM24 15h2v1h-2zM27 15h1v1h-1zM29 15h1v1h-1zM3 16h1v1h-1zM6 16h7v1h-7zM14 16h3v1h-3zM18 16h2v1h-2zM21 16h1v1h-1zM25 16h1v1h-1zM27 16h3v1h-3zM31 16h1v1h-1zM0 17h1v1h-1zM4 17h1v1h-1zM7 17h2v1h-2zM10 17h1v1h-1zM18 17h1v1h-1zM22 17h1v1h-1zM24 17h2v1h-2zM27 17h1v1h-1zM30 17h1v1h-1zM2 18h1v1h-1zM5 18h1v1h-1zM8 18h1v1h-1zM10 18h1v1h-1zM12 18h1v1h-1zM18 18h1v1h-1zM21 18h1v1h-1zM24 18h2v1h-2zM27 18h1v1h-1zM30 18h2v1h-2zM0 19h2v1h-2zM3 19h3v1h-3zM9 19h1v1h-1zM12 19h3v1h-3zM18 19h5v1h-5zM25 19h1v1h-1zM29 19h2v1h-2zM1 20h5v1h-5zM7 20h3v1h-3zM12 20h2v1h-2zM20 20h2v1h-2zM25 20h1v1h-1zM28 20h1v1h-1zM0 21h3v1h-3zM6 21h1v1h-1zM10 21h1v1h-1zM12 21h2v1h-2zM16 21h1v1h-1zM21 21h1v1h-1zM23 21h3v1h-3zM29 21h1v1h-1zM31 21h1v1h-1zM0 22h1v1h-1zM3 22h1v1h-1zM5 22h1v1h-1zM8 22h1v1h-1zM11 22h2v1h-2zM19 22h1v1h-1zM22 22h1v1h-1zM26 22h3v1h-3zM30 22h1v1h-1zM1 23h1v1h-1zM10 23h1v1h-1zM14 23h1v1h-1zM17 23h2v1h-2zM21 23h1v1h-1zM28 23h1v1h-1zM30 23h1v1h-1zM0 24h2v1h-2zM4 24h2v1h-2zM7 24h2v1h-2zM13 24h1v1h-1zM17 24h1v1h-1zM21 24h9v1h-9zM31 24h1v1h-1zM0 25h1v1h-1zM3 25h2v1h-2zM6 25h1v1h-1zM13 25h1v1h-1zM15 25h1v1h-1zM17 25h1v1h-1zM20 25h1v1h-1zM22 25h2v1h-2zM25 25h2v1h-2zM30 25h1v1h-1zM1 26h1v1h-1zM3 26h1v1h-1zM5 26h1v1h-1zM9 26h1v1h-1zM13 26h1v1h-1zM17 26h3v1h-3zM21 26h5v1h-5zM31 26h1v1h-1zM1 27h2v1h-2zM5 27h3v1h-3zM14 27h1v1h-1zM16 27h1v1h-1zM18 27h3v1h-3zM23 27h1v1h-1zM25 27h1v1h-1zM30 27h2v1h-2zM0 28h1v1h-1zM3 28h1v1h-1zM5 28h1v1h-1zM9 28h2v1h-2zM14 28h1v1h-1zM16 28h2v1h-2zM27 28h1v1h-1zM29 28h2v1h-2zM0 29h2v1h-2zM5 29h2v1h-2zM9 29h1v1h-1zM11 29h1v1h-1zM14 29h3v1h-3zM18 29h2v1h-2zM26 29h1v1h-1zM28 29h1v1h-1zM30 29h2v1h-2zM0 30h1v1h-1zM2 30h1v1h-1zM4 30h2v1h-2zM7 30h1v1h-1zM10 30h2v1h-2zM14 30h2v1h-2zM17 30h2v1h-2zM24 30h2v1h-2zM27 30h4v1h-4zM1 31h3v1h-3zM7 31h1v1h-1zM9 31h1v1h-1zM11 31h1v1h-1zM13 31h1v1h-1zM18 31h1v1h-1zM23 31h1v1h-1zM26 31h1v1h-1zM30 31h2v1h-2z"/></pattern><pattern id="g60" patternUnits="userSpaceOnUse" width="32" height="32" patternTransform="scale(1.45 1.46)"><path fill="#bababa" d="M0 0h1v1h-1zM5 0h2v1h-2zM8 0h1v1h-1zM11 0h1v1h-1zM13 0h1v1h-1zM18 0h2v1h-2zM24 0h1v1h-1zM26 0h6v1h-6zM0 1h3v1h-3zM4 1h1v1h-1zM7 1h1v1h-1zM9 1h2v1h-2zM12 1h1v1h-1zM14 1h3v1h-3zM19 1h6v1h-6zM26 1h1v1h-1zM28 1h1v1h-1zM0 2h1v1h-1zM2 2h1v1h-1zM4 2h1v1h-1zM6 2h6v1h-6zM13 2h9v1h-9zM23 2h7v1h-7zM31 2h1v1h-1zM0 3h5v1h-5zM9 3h2v1h-2zM12 3h1v1h-1zM15 3h2v1h-2zM20 3h1v1h-1zM23 3h6v1h-6zM0 4h1v1h-1zM2 4h7v1h-7zM10 4h5v1h-5zM17 4h8v1h-8zM27 4h1v1h-1zM30 4h2v1h-2zM1 5h2v1h-2zM5 5h3v1h-3zM14 5h1v1h-1zM16 5h3v1h-3zM20 5h1v1h-1zM22 5h1v1h-1zM24 5h1v1h-1zM26 5h2v1h-2zM30 5h1v1h-1zM1 6h1v1h-1zM3 6h4v1h-4zM9 6h1v1h-1zM11 6h1v1h-1zM17 6h5v1h-5zM27 6h5v1h-5zM0 7h1v1h-1zM3 7h4v1h-4zM8 7h1v1h-1zM10 7h5v1h-5zM16 7h2v1h-2zM20 7h2v1h-2zM24 7h4v1h-4zM29 7h2v1h-2zM1 8h2v1h-2zM5 8h6v1h-6zM12 8h1v1h-1zM15 8h3v1h-3zM19 8h9v1h-9zM29 8h2v1h-2zM0 9h1v1h-1zM2 9h3v1h-3zM6 9h9v1h-9zM17 9h5v1h-5zM23 9h1v1h-1zM28 9h1v1h-1zM31 9h1v1h-1zM0 10h8v1h-8zM9 10h1v1h-1zM12 10h6v1h-6zM19 10h2v1h-2zM22 10h3v1h-3zM26 10h2v1h-2zM31 10h1v1h-1zM0 11h2v1h-2zM3 11h1v1h-1zM5 11h8v1h-8zM15 11h1v1h-1zM17 11h2v1h-2zM22 11h4v1h-4zM28 11h4v1h-4zM0 12h1v1h-1zM3 12h1v1h-1zM5 12h3v1h-3zM9 12h4v1h-4zM14 12h4v1h-4zM19 12h3v1h-3zM23 12h8v1h-8zM0 13h1v1h-1zM2 13h2v1h-2zM6 13h1v1h-1zM8 13h3v1h-3zM12 13h2v1h-2zM15 13h1v1h-1zM17 13h1v1h-1zM22 13h1v1h-1zM30 13h2v1h-2zM0 14h1v1h-1zM2 14h1v1h-1zM7 14h2v1h-2zM10 14h1v1h-1zM12 14h3v1h-3zM16 14h5v1h-5zM22 14h2v1h-2zM26 14h1v1h-1zM29 14h1v1h-1zM31 14h1v1h-1zM0 15h1v1h-1zM2 15h3v1h-3zM6 15h1v1h-1zM8 15h4v1h-4zM14 15h4v1h-4zM19 15h2v1h-2zM22 15h1v1h-1zM24 15h2v1h-2zM27 15h3v1h-3zM31 15h1v1h-1zM0 16h7v1h-7zM9 16h1v1h-1zM11 16h1v1h-1zM16 16h2v1h-2zM19 16h9v1h-9zM29 16h1v1h-1zM1 17h6v1h-6zM8 17h3v1h-3zM16 17h2v1h-2zM19 17h2v1h-2zM25 17h3v1h-3zM30 17h1v1h-1zM2 18h1v1h-1zM4 18h1v1h-1zM7 18h3v1h-3zM11 18h1v1h-1zM14 18h4v1h-4zM19 18h6v1h-6zM26 18h1v1h-1zM29 18h1v1h-1zM31 18h1v1h-1zM0 19h1v1h-1zM4 19h10v1h-10zM15 19h1v1h-1zM21 19h1v1h-1zM23 19h4v1h-4zM28 19h4v1h-4zM0 20h2v1h-2zM5 20h2v1h-2zM9 20h1v1h-1zM12 20h8v1h-8zM22 20h3v1h-3zM26 20h1v1h-1zM28 20h1v1h-1zM31 20h1v1h-1zM0 21h7v1h-7zM8 21h1v1h-1zM10 21h2v1h-2zM13 21h2v1h-2zM16 21h4v1h-4zM22 21h4v1h-4zM27 21h1v1h-1zM29 21h1v1h-1zM2 22h2v1h-2zM7 22h4v1h-4zM13 22h1v1h-1zM16 22h4v1h-4zM21 22h1v1h-1zM23 22h2v1h-2zM26 22h1v1h-1zM28 22h1v1h-1zM31 22h1v1h-1zM1 23h1v1h-1zM3 23h5v1h-5zM9 23h4v1h-4zM15 23h2v1h-2zM20 23h2v1h-2zM28 23h2v1h-2zM31 23h1v1h-1zM0 24h4v1h-4zM7 24h1v1h-1zM9 24h2v1h-2zM12 24h3v1h-3zM17 24h1v1h-1zM19 24h1v1h-1zM21 24h2v1h-2zM25 24h3v1h-3zM29 24h3v1h-3zM0 25h1v1h-1zM3 25h6v1h-6zM10 25h2v1h-2zM13 25h2v1h-2zM16 25h1v1h-1zM19 25h1v1h-1zM21 25h2v1h-2zM24 25h4v1h-4zM30 25h2v1h-2zM0 26h2v1h-2zM3 26h6v1h-6zM10 26h2v1h-2zM13 26h2v1h-2zM20 26h3v1h-3zM24 26h7v1h-7zM2 27h3v1h-3zM6 27h2v1h-2zM9 27h4v1h-4zM14 27h2v1h-2zM17 27h1v1h-1zM23 27h3v1h-3zM28 27h4v1h-4zM0 28h4v1h-4zM5 28h1v1h-1zM7 28h1v1h-1zM10 28h5v1h-5zM18 28h2v1h-2zM21 28h3v1h-3zM26 28h1v1h-1zM28 28h1v1h-1zM0 29h1v1h-1zM3 29h2v1h-2zM6 29h2v1h-2zM9 29h2v1h-2zM13 29h2v1h-2zM16 29h12v1h-12zM29 29h3v1h-3zM0 30h3v1h-3zM4 30h1v1h-1zM6 30h1v1h-1zM11 30h6v1h-6zM18 30h3v1h-3zM22 30h2v1h-2zM25 30h1v1h-1zM27 30h3v1h-3zM31 30h1v1h-1zM0 31h1v1h-1zM2 31h1v1h-1zM4 31h2v1h-2zM7 31h2v1h-2zM12 31h1v1h-1zM14 31h1v1h-1zM16 31h8v1h-8zM25 31h6v1h-6z"/></pattern><pattern id="g70" patternUnits="userSpaceOnUse" width="32" height="32" patternTransform="scale(1.45 1.46)"><path fill="#bababa" d="M0 0h15v1h-15zM16 0h3v1h-3zM20 0h12v1h-12zM0 1h5v1h-5zM6 1h2v1h-2zM9 1h3v1h-3zM13 1h5v1h-5zM19 1h1v1h-1zM21 1h1v1h-1zM23 1h9v1h-9zM0 2h13v1h-13zM17 2h4v1h-4zM22 2h1v1h-1zM24 2h1v1h-1zM28 2h2v1h-2zM31 2h1v1h-1zM0 3h1v1h-1zM2 3h1v1h-1zM4 3h2v1h-2zM7 3h1v1h-1zM10 3h4v1h-4zM15 3h2v1h-2zM18 3h1v1h-1zM20 3h1v1h-1zM23 3h2v1h-2zM27 3h4v1h-4zM0 4h1v1h-1zM2 4h1v1h-1zM4 4h15v1h-15zM21 4h1v1h-1zM23 4h2v1h-2zM26 4h5v1h-5zM0 5h1v1h-1zM2 5h3v1h-3zM6 5h5v1h-5zM12 5h1v1h-1zM14 5h1v1h-1zM16 5h5v1h-5zM22 5h1v1h-1zM25 5h6v1h-6zM0 6h1v1h-1zM2 6h5v1h-5zM8 6h10v1h-10zM19 6h2v1h-2zM22 6h1v1h-1zM24 6h2v1h-2zM29 6h1v1h-1zM31 6h1v1h-1zM0 7h1v1h-1zM2 7h1v1h-1zM4 7h1v1h-1zM6 7h1v1h-1zM8 7h2v1h-2zM11 7h1v1h-1zM13 7h2v1h-2zM17 7h1v1h-1zM19 7h2v1h-2zM22 7h10v1h-10zM0 8h3v1h-3zM4 8h2v1h-2zM7 8h1v1h-1zM9 8h5v1h-5zM15 8h1v1h-1zM17 8h3v1h-3zM22 8h2v1h-2zM26 8h6v1h-6zM0 9h1v1h-1zM2 9h6v1h-6zM9 9h1v1h-1zM11 9h1v1h-1zM13 9h7v1h-7zM21 9h7v1h-7zM29 9h1v1h-1zM31 9h1v1h-1zM0 10h7v1h-7zM8 10h2v1h-2zM12 10h1v1h-1zM15 10h5v1h-5zM21 10h1v1h-1zM24 10h6v1h-6zM31 10h1v1h-1zM0 11h1v1h-1zM2 11h2v1h-2zM5 11h3v1h-3zM9 11h12v1h-12zM23 11h1v1h-1zM25 11h4v1h-4zM31 11h1v1h-1zM0 12h1v1h-1zM3 12h4v1h-4zM9 12h8v1h-8zM20 12h1v1h-1zM22 12h5v1h-5zM28 12h2v1h-2zM31 12h1v1h-1zM1 13h11v1h-11zM13 13h3v1h-3zM17 13h1v1h-1zM19 13h13v1h-13zM0 14h3v1h-3zM4 14h3v1h-3zM9 14h4v1h-4zM15 14h1v1h-1zM17 14h5v1h-5zM23 14h1v1h-1zM26 14h1v1h-1zM29 14h3v1h-3zM0 15h1v1h-1zM3 15h2v1h-2zM6 15h1v1h-1zM8 15h3v1h-3zM12 15h4v1h-4zM19 15h6v1h-6zM30 15h2v1h-2zM0 16h2v1h-2zM4 16h2v1h-2zM8 16h1v1h-1zM10 16h4v1h-4zM15 16h16v1h-16zM0 17h2v1h-2zM3 17h1v1h-1zM5 17h1v1h-1zM7 17h1v1h-1zM9 17h6v1h-6zM17 17h1v1h-1zM19 17h2v1h-2zM22 17h5v1h-5zM29 17h3v1h-3zM0 18h4v1h-4zM5 18h1v1h-1zM7 18h1v1h-1zM9 18h3v1h-3zM13 18h5v1h-5zM19 18h1v1h-1zM21 18h1v1h-1zM23 18h5v1h-5zM29 18h3v1h-3zM0 19h5v1h-5zM6 19h1v1h-1zM9 19h2v1h-2zM12 19h6v1h-6zM19 19h1v1h-1zM21 19h2v1h-2zM25 19h6v1h-6zM0 20h1v1h-1zM2 20h4v1h-4zM7 20h2v1h-2zM10 20h4v1h-4zM16 20h2v1h-2zM20 20h7v1h-7zM28 20h1v1h-1zM30 20h2v1h-2zM1 21h7v1h-7zM10 21h2v1h-2zM14 21h2v1h-2zM19 21h7v1h-7zM27 21h3v1h-3zM0 22h2v1h-2zM4 22h2v1h-2zM7 22h2v1h-2zM10 22h1v1h-1zM14 22h2v1h-2zM17 22h6v1h-6zM24 22h5v1h-5zM30 22h2v1h-2zM1 23h3v1h-3zM6 23h7v1h-7zM14 23h8v1h-8zM23 23h6v1h-6zM0 24h1v1h-1zM2 24h3v1h-3zM6 24h5v1h-5zM12 24h13v1h-13zM27 24h3v1h-3zM31 24h1v1h-1zM0 25h1v1h-1zM2 25h6v1h-6zM10 25h1v1h-1zM13 25h10v1h-10zM25 25h3v1h-3zM31 25h1v1h-1zM0 26h5v1h-5zM6 26h4v1h-4zM11 26h1v1h-1zM13 26h2v1h-2zM16 26h4v1h-4zM21 26h1v1h-1zM24 26h1v1h-1zM26 26h1v1h-1zM28 26h4v1h-4zM1 27h11v1h-11zM13 27h1v1h-1zM15 27h2v1h-2zM18 27h13v1h-13zM0 28h1v1h-1zM2 28h6v1h-6zM9 28h2v1h-2zM12 28h1v1h-1zM14 28h1v1h-1zM16 28h1v1h-1zM18 28h1v1h-1zM20 28h1v1h-1zM22 28h5v1h-5zM29 28h1v1h-1zM0 29h2v1h-2zM3 29h2v1h-2zM7 29h4v1h-4zM12 29h7v1h-7zM20 29h1v1h-1zM22 29h1v1h-1zM24 29h2v1h-2zM27 29h1v1h-1zM30 29h2v1h-2zM3 30h1v1h-1zM5 30h1v1h-1zM7 30h2v1h-2zM12 30h1v1h-1zM15 30h2v1h-2zM18 30h2v1h-2zM21 30h1v1h-1zM23 30h2v1h-2zM26 30h2v1h-2zM29 30h3v1h-3zM0 31h5v1h-5zM6 31h1v1h-1zM9 31h1v1h-1zM16 31h1v1h-1zM18 31h4v1h-4zM23 31h2v1h-2zM26 31h2v1h-2zM30 31h2v1h-2z"/></pattern><pattern id="g75" patternUnits="userSpaceOnUse" width="32" height="32" patternTransform="scale(1.45 1.46)"><path fill="#bababa" d="M1 0h3v1h-3zM6 0h4v1h-4zM12 0h2v1h-2zM15 0h3v1h-3zM19 0h1v1h-1zM22 0h5v1h-5zM28 0h4v1h-4zM0 1h4v1h-4zM7 1h3v1h-3zM13 1h2v1h-2zM16 1h13v1h-13zM0 2h9v1h-9zM10 2h1v1h-1zM13 2h7v1h-7zM21 2h2v1h-2zM24 2h1v1h-1zM27 2h5v1h-5zM0 3h3v1h-3zM5 3h6v1h-6zM13 3h3v1h-3zM17 3h2v1h-2zM20 3h11v1h-11zM0 4h3v1h-3zM5 4h1v1h-1zM7 4h2v1h-2zM10 4h1v1h-1zM12 4h4v1h-4zM17 4h2v1h-2zM21 4h10v1h-10zM2 5h2v1h-2zM5 5h4v1h-4zM10 5h4v1h-4zM16 5h6v1h-6zM23 5h3v1h-3zM27 5h1v1h-1zM30 5h2v1h-2zM1 6h2v1h-2zM5 6h1v1h-1zM7 6h3v1h-3zM11 6h1v1h-1zM14 6h5v1h-5zM20 6h1v1h-1zM22 6h2v1h-2zM25 6h7v1h-7zM2 7h3v1h-3zM6 7h3v1h-3zM10 7h13v1h-13zM24 7h1v1h-1zM26 7h4v1h-4zM31 7h1v1h-1zM0 8h4v1h-4zM5 8h1v1h-1zM8 8h9v1h-9zM18 8h2v1h-2zM22 8h2v1h-2zM26 8h1v1h-1zM29 8h2v1h-2zM0 9h3v1h-3zM4 9h4v1h-4zM11 9h3v1h-3zM15 9h6v1h-6zM22 9h1v1h-1zM24 9h8v1h-8zM0 10h4v1h-4zM5 10h1v1h-1zM8 10h8v1h-8zM17 10h3v1h-3zM21 10h3v1h-3zM26 10h2v1h-2zM29 10h3v1h-3zM0 11h3v1h-3zM4 11h3v1h-3zM8 11h1v1h-1zM10 11h1v1h-1zM13 11h1v1h-1zM15 11h3v1h-3zM19 11h1v1h-1zM21 11h3v1h-3zM26 11h3v1h-3zM30 11h2v1h-2zM2 12h2v1h-2zM6 12h3v1h-3zM11 12h4v1h-4zM16 12h3v1h-3zM20 12h6v1h-6zM27 12h2v1h-2zM30 12h1v1h-1zM0 13h1v1h-1zM2 13h3v1h-3zM6 13h4v1h-4zM11 13h1v1h-1zM13 13h1v1h-1zM19 13h3v1h-3zM24 13h1v1h-1zM26 13h6v1h-6zM0 14h3v1h-3zM6 14h2v1h-2zM12 14h5v1h-5zM18 14h3v1h-3zM22 14h3v1h-3zM27 14h1v1h-1zM29 14h3v1h-3zM0 15h2v1h-2zM4 15h1v1h-1zM6 15h4v1h-4zM11 15h6v1h-6zM18 15h7v1h-7zM26 15h6v1h-6zM0 16h2v1h-2zM3 16h4v1h-4zM8 16h1v1h-1zM10 16h1v1h-1zM12 16h2v1h-2zM17 16h2v1h-2zM22 16h3v1h-3zM27 16h5v1h-5zM0 17h2v1h-2zM4 17h1v1h-1zM6 17h10v1h-10zM17 17h1v1h-1zM19 17h1v1h-1zM21 17h5v1h-5zM27 17h1v1h-1zM0 18h12v1h-12zM13 18h1v1h-1zM15 18h1v1h-1zM17 18h4v1h-4zM22 18h6v1h-6zM29 18h3v1h-3zM1 19h1v1h-1zM3 19h1v1h-1zM6 19h7v1h-7zM15 19h3v1h-3zM19 19h2v1h-2zM22 19h7v1h-7zM30 19h2v1h-2zM1 20h4v1h-4zM8 20h1v1h-1zM10 20h7v1h-7zM18 20h11v1h-11zM30 20h2v1h-2zM0 21h5v1h-5zM6 21h2v1h-2zM11 21h3v1h-3zM15 21h1v1h-1zM18 21h1v1h-1zM20 21h3v1h-3zM24 21h5v1h-5zM30 21h2v1h-2zM2 22h4v1h-4zM7 22h3v1h-3zM11 22h1v1h-1zM13 22h3v1h-3zM17 22h3v1h-3zM21 22h1v1h-1zM23 22h1v1h-1zM26 22h2v1h-2zM29 22h3v1h-3zM0 23h5v1h-5zM6 23h5v1h-5zM12 23h1v1h-1zM14 23h5v1h-5zM20 23h4v1h-4zM25 23h3v1h-3zM29 23h3v1h-3zM0 24h1v1h-1zM4 24h3v1h-3zM11 24h3v1h-3zM16 24h4v1h-4zM22 24h6v1h-6zM30 24h2v1h-2zM0 25h1v1h-1zM3 25h3v1h-3zM7 25h3v1h-3zM13 25h3v1h-3zM18 25h3v1h-3zM22 25h1v1h-1zM25 25h5v1h-5zM31 25h1v1h-1zM0 26h7v1h-7zM8 26h2v1h-2zM11 26h13v1h-13zM25 26h2v1h-2zM28 26h1v1h-1zM30 26h2v1h-2zM0 27h9v1h-9zM10 27h2v1h-2zM13 27h4v1h-4zM18 27h2v1h-2zM21 27h3v1h-3zM25 27h1v1h-1zM28 27h2v1h-2zM31 27h1v1h-1zM1 28h1v1h-1zM3 28h1v1h-1zM5 28h7v1h-7zM15 28h4v1h-4zM22 28h2v1h-2zM25 28h7v1h-7zM0 29h2v1h-2zM3 29h2v1h-2zM6 29h1v1h-1zM8 29h2v1h-2zM11 29h6v1h-6zM18 29h4v1h-4zM25 29h2v1h-2zM28 29h4v1h-4zM1 30h2v1h-2zM4 30h6v1h-6zM12 30h5v1h-5zM18 30h2v1h-2zM21 30h4v1h-4zM26 30h1v1h-1zM28 30h2v1h-2zM31 30h1v1h-1zM0 31h4v1h-4zM5 31h3v1h-3zM9 31h4v1h-4zM14 31h1v1h-1zM16 31h1v1h-1zM18 31h1v1h-1zM20 31h1v1h-1zM22 31h1v1h-1zM24 31h3v1h-3zM28 31h2v1h-2z"/></pattern><clipPath id="clipM1"><polygon points="134.5,227.0 134.0,213.5 125.0,212.5 118.0,205.0 118.0,178.0 121.0,170.0 121.0,134.0 123.0,129.0 128.0,123.0 133.0,115.0 142.0,109.0 148.5,97.0 152.0,90.0 160.0,85.0 164.0,78.0 170.0,67.0 174.0,61.0 183.0,58.0 190.0,56.0 198.0,54.0 208.0,53.0 222.0,50.0 232.0,44.0 242.0,38.0 252.0,33.0 262.0,28.0 272.0,23.0 282.0,19.0 292.0,14.0 298.0,22.0 296.0,45.0 292.0,60.0 292.0,80.0 292.0,100.0 290.0,120.0 285.0,135.0 280.0,150.0 275.0,162.0 266.0,172.0 256.0,181.0 244.0,188.0 234.0,195.0 226.0,204.0 220.0,214.0 214.0,222.0 206.0,225.0 166.0,224.0 150.0,228.0 138.0,228.0"/></clipPath><clipPath id="clipM2"><polygon points="532.5,227.4 532.0,213.8 523.0,212.8 516.0,205.3 516.0,178.1 519.0,170.1 519.0,133.9 521.0,128.9 526.0,122.8 531.0,114.8 540.0,108.8 546.5,96.7 550.0,89.7 558.0,84.6 562.0,77.6 568.0,66.5 572.0,60.5 581.0,57.5 588.1,55.5 596.1,53.5 606.1,52.5 620.1,49.5 630.1,43.4 640.1,37.4 650.1,32.4 660.1,27.3 670.1,22.3 680.1,18.3 690.1,13.3 696.1,21.3 694.1,44.4 690.1,59.5 690.1,79.6 690.1,99.7 688.1,119.8 683.1,134.9 678.1,150.0 673.1,162.0 664.1,172.1 654.1,181.1 642.1,188.2 632.1,195.2 624.1,204.3 618.1,214.3 612.1,222.4 604.1,225.4 564.0,224.4 548.0,228.4 536.0,228.4"/></clipPath><clipPath id="clipM3"><polygon points="134.4,589.1 133.9,575.5 124.9,574.5 117.9,567.0 117.9,539.8 120.9,531.7 120.9,495.4 122.9,490.4 127.9,484.4 132.9,476.3 141.9,470.3 148.4,458.2 151.9,451.1 159.9,446.1 163.9,439.0 169.9,428.0 173.9,421.9 182.9,418.9 189.9,416.9 197.9,414.9 207.9,413.9 221.9,410.8 231.9,404.8 241.9,398.8 251.9,393.7 261.9,388.7 271.8,383.6 281.8,379.6 291.8,374.6 297.8,382.6 295.8,405.8 291.8,420.9 291.8,441.1 291.8,461.2 289.8,481.3 284.8,496.5 279.8,511.6 274.8,523.6 265.8,533.7 255.9,542.8 243.9,549.8 233.9,556.9 225.9,565.9 219.9,576.0 213.9,584.1 205.9,587.1 165.9,586.1 149.9,590.1 137.9,590.1"/></clipPath><clipPath id="clipM4"><polygon points="533.0,589.1 532.5,575.5 523.5,574.5 516.5,566.9 516.5,539.7 519.5,531.6 519.5,495.3 521.5,490.2 526.5,484.2 531.5,476.1 540.5,470.1 547.0,458.0 550.5,450.9 558.4,445.8 562.4,438.8 568.4,427.7 572.4,421.6 581.4,418.6 588.4,416.6 596.4,414.6 606.4,413.6 620.3,410.5 630.3,404.5 640.3,398.4 650.3,393.4 660.3,388.3 670.2,383.3 680.2,379.3 690.2,374.2 696.2,382.3 694.2,405.5 690.2,420.6 690.2,440.8 690.2,461.0 688.2,481.2 683.2,496.3 678.2,511.4 673.2,523.5 664.2,533.6 654.3,542.7 642.3,549.8 632.3,556.8 624.3,565.9 618.3,576.0 612.3,584.1 604.4,587.1 564.4,586.1 548.5,590.1 536.5,590.1"/></clipPath><clipPath id="clipP2"><polygon points="527.0,174.0 531.0,162.0 537.0,152.0 540.0,140.0 546.0,136.0 549.0,120.0 555.0,106.0 561.9,99.0 574.7,92.6 583.2,86.9 594.5,82.0 605.0,74.0 621.3,64.0 642.6,62.6 660.0,66.0 671.0,74.0 676.7,84.0 679.5,98.0 683.0,112.0 676.0,124.0 668.0,133.0 661.0,145.0 655.0,155.0 649.0,167.0 643.0,179.0 637.0,190.0 632.0,200.0 626.4,207.8 619.9,215.4 615.5,222.0 614.5,229.0 609.0,228.4 609.0,210.0 596.0,209.0 587.4,213.2 577.7,220.8 570.1,219.2 573.9,205.7 575.5,191.6 577.7,176.5 578.8,172.0 578.4,162.0 570.0,155.0 560.0,154.0 548.0,161.0 536.8,169.0"/></clipPath><clipPath id="clipP3"><polygon points="157.0,548.0 156.0,466.0 166.0,450.0 182.0,429.0 188.0,423.0 232.0,422.0 242.0,413.0 252.0,403.0 263.0,394.0 275.0,398.0 278.0,420.0 278.0,440.0 276.0,460.0 273.0,478.0 271.0,494.0 267.0,511.0 260.0,528.0 249.0,542.0 232.0,549.0 208.0,551.0 186.0,552.0 163.0,550.0"/></clipPath><clipPath id="clipP2B"><polygon points="526.9,174.6 526.9,167.7 530.9,161.7 536.8,151.7 538.8,139.8 536.8,132.8 524.9,132.8 518.9,133.8 518.2,129.4 524.6,121.6 529.7,112.7 538.7,107.6 545.1,96.0 548.9,88.3 556.6,83.1 560.4,76.7 566.8,65.1 570.7,58.7 579.6,56.1 586.1,51.6 591.2,45.8 596.3,40.7 603.6,38.6 618.9,38.6 627.4,36.0 635.1,35.2 643.7,29.1 653.9,23.2 662.4,18.0 672.6,11.2 682.9,12.9 689.7,7.7 698.1,2.2 728.9,2.2 730.6,9.4 730.6,16.3 723.8,24.9 722.1,33.4 717.0,42.0 713.5,50.5 713.5,59.2 717.0,71.2 718.7,88.3 713.5,95.1 715.3,104.0 710.1,116.8 688.0,115.0 676.0,124.0 668.0,133.0 661.0,145.0 655.0,155.0 649.0,167.0 643.0,179.0 637.0,190.0 632.0,200.0 626.4,207.8 619.9,215.4 615.5,222.0 614.5,229.0 609.0,228.4 609.0,210.0 596.0,209.0 587.4,213.2 577.7,220.8 570.1,219.2 573.9,205.7 575.5,191.6 577.7,176.5 578.8,172.0 578.4,166.5 570.0,166.0 560.0,166.0 548.0,167.0 536.8,170.0"/></clipPath>
<filter id="bl4" x="-20%" y="-20%" width="140%" height="140%"><feGaussianBlur stdDeviation="3.5"/></filter>
<filter id="bl2" x="-20%" y="-20%" width="140%" height="140%"><feGaussianBlur stdDeviation="2"/></filter>
<filter id="bl1" x="-10%" y="-10%" width="120%" height="120%"><feGaussianBlur stdDeviation="1.2"/></filter>
<filter id="bl05" x="-10%" y="-10%" width="120%" height="120%"><feGaussianBlur stdDeviation="0.6"/></filter>
<radialGradient id="cyA"><stop offset="0" stop-color="#50f080" stop-opacity="1"/><stop offset="0.15" stop-color="#38f0c0" stop-opacity="1"/><stop offset="0.5" stop-color="#20d0f0" stop-opacity="0.85"/><stop offset="0.8" stop-color="#20a0f8" stop-opacity="0.4"/><stop offset="1" stop-color="#2090ff" stop-opacity="0"/></radialGradient>
<radialGradient id="cyB"><stop offset="0" stop-color="#20c8f0" stop-opacity="0.6"/><stop offset="1" stop-color="#2090ff" stop-opacity="0"/></radialGradient>
<radialGradient id="gr1"><stop offset="0" stop-color="#50f070" stop-opacity="0.8"/><stop offset="1" stop-color="#40f0a0" stop-opacity="0"/></radialGradient>
<radialGradient id="lb"><stop offset="0" stop-color="#2a80ff" stop-opacity="0.6"/><stop offset="1" stop-color="#2a80ff" stop-opacity="0"/></radialGradient>
<radialGradient id="lb3"><stop offset="0" stop-color="#28a0ff" stop-opacity="0.8"/><stop offset="0.6" stop-color="#2880ff" stop-opacity="0.4"/><stop offset="1" stop-color="#2a80ff" stop-opacity="0"/></radialGradient>
</defs>
<path d="M55.9 2.3V323.3M27.5 294.1H340.3M84.4 2.3V323.3M27.5 264.9H340.3M112.8 2.3V323.3M27.5 235.8H340.3M141.2 2.3V323.3M27.5 206.6H340.3M169.7 2.3V323.3M27.5 177.4H340.3M198.1 2.3V323.3M27.5 148.2H340.3M226.6 2.3V323.3M27.5 119.0H340.3M255.0 2.3V323.3M27.5 89.8H340.3M283.4 2.3V323.3M27.5 60.7H340.3M311.9 2.3V323.3M27.5 31.5H340.3" stroke="#ebebeb" stroke-width="1" fill="none"/>
<polygon points="137.4,232.5 134.3,231.8 134.0,214.0 116.0,211.5 115.6,191.6 116.7,177.0 119.4,171.1 119.4,133.6 120.2,129.5 126.6,121.8 131.7,112.9 140.7,107.8 147.1,96.3 150.9,88.6 158.6,83.5 162.4,77.1 168.8,65.6 172.7,59.2 181.6,56.6 188.0,52.1 193.1,46.4 198.2,41.3 205.5,39.2 220.8,39.2 229.3,36.6 237.0,35.8 245.6,29.8 255.8,23.9 264.3,18.7 274.5,11.9 284.8,13.6 291.6,8.5 300.0,3.0 330.8,3.0 332.5,10.2 332.5,17.0 325.7,25.6 324.0,34.0 318.9,42.6 315.4,51.0 315.4,59.7 318.9,71.6 320.6,88.6 315.4,95.4 317.2,104.3 312.0,117.0 303.5,132.4 300.0,137.5 291.6,147.7 288.2,156.2 286.5,166.5 276.2,173.3 269.4,183.5 257.5,188.6 247.3,193.7 240.0,196.8 234.0,200.0 229.5,207.0 226.0,213.0 223.0,219.0 219.0,225.0 216.5,228.4 200.0,228.5 163.0,228.0 161.3,231.0 150.0,232.3" fill="url(#b32)" />
<polygon points="290.0,18.0 300.0,5.0 331.0,5.0 332.0,17.0 325.0,26.0 320.0,40.0 315.0,55.0 305.0,50.0 298.0,35.0" fill="url(#b40)" />
<polygon points="134.5,227.0 134.0,213.5 125.0,212.5 118.0,205.0 118.0,178.0 121.0,170.0 121.0,134.0 123.0,129.0 128.0,123.0 133.0,115.0 142.0,109.0 148.5,97.0 152.0,90.0 160.0,85.0 164.0,78.0 170.0,67.0 174.0,61.0 183.0,58.0 190.0,56.0 198.0,54.0 208.0,53.0 222.0,50.0 232.0,44.0 242.0,38.0 252.0,33.0 262.0,28.0 272.0,23.0 282.0,19.0 292.0,14.0 298.0,22.0 296.0,45.0 292.0,60.0 292.0,80.0 292.0,100.0 290.0,120.0 285.0,135.0 280.0,150.0 275.0,162.0 266.0,172.0 256.0,181.0 244.0,188.0 234.0,195.0 226.0,204.0 220.0,214.0 214.0,222.0 206.0,225.0 166.0,224.0 150.0,228.0 138.0,228.0" fill="url(#b75)" />
<polygon points="134.0,212.0 121.0,210.0 120.0,180.0 124.0,174.0 130.0,170.0 137.0,140.0 136.0,128.0 132.0,120.0 142.0,111.0 149.0,99.0 153.0,92.0 161.0,86.0 166.0,79.0 172.0,68.0 176.0,63.0 186.0,62.0 196.0,63.0 206.0,64.0 218.0,63.0 228.0,58.0 238.0,52.0 250.0,48.0 262.0,46.0 272.0,48.0 278.0,56.0 282.0,64.0 284.0,80.0 284.0,100.0 280.0,118.0 276.0,132.0 275.0,148.0 267.0,165.0 253.0,180.0 235.0,194.0 226.0,204.0 221.0,215.0 216.0,224.0 200.0,222.0 170.0,222.0 160.0,224.0 140.0,226.0" fill="#1b34fc" />
<polygon points="117.0,176.0 128.0,172.0 137.0,168.0 147.0,165.0 157.0,162.0 166.0,160.5 174.0,166.0 178.5,178.0 177.5,198.0 172.0,210.0 166.0,216.0 162.0,226.0 134.3,228.0 133.0,213.0 116.0,210.0" fill="#fff" />
<polygon points="117.0,176.0 128.0,172.0 137.0,168.0 147.0,165.0 157.0,162.0 166.0,160.5 174.0,166.0 178.5,178.0 177.5,198.0 172.0,210.0 166.0,216.0 162.0,226.0 134.3,228.0 133.0,213.0 116.0,210.0" fill="url(#b78)" />
<polygon points="171.3,219.5 182.6,213.9 196.8,209.6 211.0,211.0 212.4,214.0 211.0,227.0 166.0,227.5" fill="#fff" />
<polygon points="171.3,219.5 182.6,213.9 196.8,209.6 211.0,211.0 212.4,214.0 211.0,227.0 166.0,227.5" fill="url(#b45)" />
<polygon points="120.0,130.0 125.0,125.0 133.0,123.0 138.0,128.0 139.0,140.0 138.0,155.0 136.0,165.0 132.0,172.0 130.0,176.0 120.0,178.0" fill="#fff" />
<polygon points="120.0,130.0 125.0,125.0 133.0,123.0 138.0,128.0 139.0,140.0 138.0,155.0 136.0,165.0 132.0,172.0 130.0,176.0 120.0,178.0" fill="url(#b60)" />
<g clip-path="url(#clipM1)">
<g filter="url(#bl4)"><path fill="rgb(30,135,250)" fill-opacity="0.20" d="M184 56h6v6h-6zM190 56h6v6h-6zM196 56h6v6h-6zM202 56h6v6h-6zM208 56h6v6h-6zM214 56h6v6h-6zM220 56h6v6h-6zM226 56h6v6h-6zM232 56h6v6h-6zM238 56h6v6h-6zM244 56h6v6h-6zM178 62h6v6h-6zM184 62h6v6h-6zM190 62h6v6h-6zM226 62h6v6h-6zM232 62h6v6h-6zM238 62h6v6h-6zM244 62h6v6h-6zM250 62h6v6h-6zM172 68h6v6h-6zM178 68h6v6h-6zM244 68h6v6h-6zM250 68h6v6h-6zM256 68h6v6h-6zM166 74h6v6h-6zM172 74h6v6h-6zM262 74h6v6h-6zM268 74h6v6h-6zM160 80h6v6h-6zM166 80h6v6h-6zM268 80h6v6h-6zM274 80h6v6h-6zM154 86h6v6h-6zM160 86h6v6h-6zM274 86h6v6h-6zM280 86h6v6h-6zM154 92h6v6h-6zM274 92h6v6h-6zM280 92h6v6h-6zM154 98h6v6h-6zM280 98h6v6h-6zM154 104h6v6h-6zM280 104h6v6h-6zM148 110h6v6h-6zM280 110h6v6h-6zM142 116h6v6h-6zM148 116h6v6h-6zM280 116h6v6h-6zM136 122h6v6h-6zM142 122h6v6h-6zM274 122h6v6h-6zM280 122h6v6h-6zM136 128h6v6h-6zM142 128h6v6h-6zM274 128h6v6h-6zM280 128h6v6h-6zM136 134h6v6h-6zM268 134h6v6h-6zM274 134h6v6h-6zM136 140h6v6h-6zM268 140h6v6h-6zM136 146h6v6h-6zM262 146h6v6h-6zM136 152h6v6h-6zM256 152h6v6h-6zM262 152h6v6h-6zM136 158h6v6h-6zM142 158h6v6h-6zM148 158h6v6h-6zM256 158h6v6h-6zM148 164h6v6h-6zM250 164h6v6h-6zM256 164h6v6h-6zM154 170h6v6h-6zM244 170h6v6h-6zM250 170h6v6h-6zM256 170h6v6h-6zM154 176h6v6h-6zM244 176h6v6h-6zM250 176h6v6h-6zM154 182h6v6h-6zM160 182h6v6h-6zM166 182h6v6h-6zM238 182h6v6h-6zM244 182h6v6h-6zM166 188h6v6h-6zM172 188h6v6h-6zM232 188h6v6h-6zM238 188h6v6h-6zM172 194h6v6h-6zM226 194h6v6h-6zM232 194h6v6h-6zM238 194h6v6h-6zM172 200h6v6h-6zM226 200h6v6h-6zM172 206h6v6h-6zM214 206h6v6h-6zM220 206h6v6h-6zM172 212h6v6h-6zM178 212h6v6h-6zM208 212h6v6h-6zM214 212h6v6h-6zM178 218h6v6h-6zM184 218h6v6h-6zM190 218h6v6h-6zM196 218h6v6h-6zM202 218h6v6h-6zM208 218h6v6h-6zM214 218h6v6h-6z"/><path fill="rgb(30,135,250)" fill-opacity="0.40" d="M196 62h6v6h-6zM202 62h6v6h-6zM208 62h6v6h-6zM214 62h6v6h-6zM220 62h6v6h-6zM184 68h6v6h-6zM190 68h6v6h-6zM196 68h6v6h-6zM220 68h6v6h-6zM226 68h6v6h-6zM232 68h6v6h-6zM238 68h6v6h-6zM178 74h6v6h-6zM184 74h6v6h-6zM250 74h6v6h-6zM256 74h6v6h-6zM172 80h6v6h-6zM178 80h6v6h-6zM262 80h6v6h-6zM166 86h6v6h-6zM172 86h6v6h-6zM268 86h6v6h-6zM160 92h6v6h-6zM166 92h6v6h-6zM268 92h6v6h-6zM160 98h6v6h-6zM268 98h6v6h-6zM274 98h6v6h-6zM274 104h6v6h-6zM154 110h6v6h-6zM274 110h6v6h-6zM268 116h6v6h-6zM274 116h6v6h-6zM148 122h6v6h-6zM268 122h6v6h-6zM148 128h6v6h-6zM268 128h6v6h-6zM142 134h6v6h-6zM148 134h6v6h-6zM262 134h6v6h-6zM142 140h6v6h-6zM262 140h6v6h-6zM142 146h6v6h-6zM256 146h6v6h-6zM142 152h6v6h-6zM148 152h6v6h-6zM250 152h6v6h-6zM250 158h6v6h-6zM154 164h6v6h-6zM244 164h6v6h-6zM160 170h6v6h-6zM238 170h6v6h-6zM160 176h6v6h-6zM166 176h6v6h-6zM238 176h6v6h-6zM172 182h6v6h-6zM232 182h6v6h-6zM178 188h6v6h-6zM226 188h6v6h-6zM178 194h6v6h-6zM220 194h6v6h-6zM178 200h6v6h-6zM214 200h6v6h-6zM220 200h6v6h-6zM178 206h6v6h-6zM184 206h6v6h-6zM196 206h6v6h-6zM202 206h6v6h-6zM208 206h6v6h-6zM184 212h6v6h-6zM190 212h6v6h-6zM196 212h6v6h-6zM202 212h6v6h-6z"/><path fill="rgb(30,135,250)" fill-opacity="0.60" d="M202 68h6v6h-6zM208 68h6v6h-6zM214 68h6v6h-6zM190 74h6v6h-6zM238 74h6v6h-6zM244 74h6v6h-6zM184 80h6v6h-6zM256 80h6v6h-6zM178 86h6v6h-6zM262 86h6v6h-6zM172 92h6v6h-6zM262 92h6v6h-6zM166 98h6v6h-6zM262 98h6v6h-6zM160 104h6v6h-6zM268 104h6v6h-6zM160 110h6v6h-6zM268 110h6v6h-6zM154 116h6v6h-6zM262 128h6v6h-6zM148 140h6v6h-6zM256 140h6v6h-6zM148 146h6v6h-6zM250 146h6v6h-6zM244 152h6v6h-6zM154 158h6v6h-6zM244 158h6v6h-6zM160 164h6v6h-6zM238 164h6v6h-6zM166 170h6v6h-6zM232 170h6v6h-6zM172 176h6v6h-6zM232 176h6v6h-6zM178 182h6v6h-6zM226 182h6v6h-6zM184 188h6v6h-6zM220 188h6v6h-6zM184 194h6v6h-6zM190 194h6v6h-6zM214 194h6v6h-6zM184 200h6v6h-6zM190 200h6v6h-6zM196 200h6v6h-6zM202 200h6v6h-6zM208 200h6v6h-6zM190 206h6v6h-6z"/><path fill="rgb(30,135,250)" fill-opacity="0.80" d="M196 74h6v6h-6zM202 74h6v6h-6zM214 74h6v6h-6zM220 74h6v6h-6zM226 74h6v6h-6zM232 74h6v6h-6zM190 80h6v6h-6zM244 80h6v6h-6zM250 80h6v6h-6zM184 86h6v6h-6zM256 86h6v6h-6zM178 92h6v6h-6zM256 92h6v6h-6zM172 98h6v6h-6zM166 104h6v6h-6zM262 104h6v6h-6zM262 110h6v6h-6zM160 116h6v6h-6zM262 116h6v6h-6zM154 122h6v6h-6zM262 122h6v6h-6zM154 128h6v6h-6zM154 134h6v6h-6zM256 134h6v6h-6zM154 140h6v6h-6zM250 140h6v6h-6zM154 146h6v6h-6zM244 146h6v6h-6zM154 152h6v6h-6zM160 158h6v6h-6zM238 158h6v6h-6zM166 164h6v6h-6zM232 164h6v6h-6zM172 170h6v6h-6zM226 170h6v6h-6zM178 176h6v6h-6zM226 176h6v6h-6zM184 182h6v6h-6zM220 182h6v6h-6zM190 188h6v6h-6zM196 194h6v6h-6zM202 194h6v6h-6z"/><path fill="rgb(30,135,250)" fill-opacity="1.00" d="M208 74h6v6h-6zM196 80h6v6h-6zM238 80h6v6h-6zM190 86h6v6h-6zM250 86h6v6h-6zM184 92h6v6h-6zM250 92h6v6h-6zM178 98h6v6h-6zM256 98h6v6h-6zM172 104h6v6h-6zM256 104h6v6h-6zM166 110h6v6h-6zM256 110h6v6h-6zM256 116h6v6h-6zM160 122h6v6h-6zM256 122h6v6h-6zM256 128h6v6h-6zM160 152h6v6h-6zM238 152h6v6h-6zM166 158h6v6h-6zM172 164h6v6h-6zM178 170h6v6h-6zM184 176h6v6h-6zM220 176h6v6h-6zM190 182h6v6h-6zM196 188h6v6h-6zM202 188h6v6h-6zM214 188h6v6h-6zM208 194h6v6h-6z"/><path fill="rgb(27,149,249)" fill-opacity="1.00" d="M202 80h6v6h-6zM208 80h6v6h-6zM214 80h6v6h-6zM220 80h6v6h-6zM226 80h6v6h-6zM232 80h6v6h-6zM196 86h6v6h-6zM244 86h6v6h-6zM190 92h6v6h-6zM184 98h6v6h-6zM250 98h6v6h-6zM178 104h6v6h-6zM250 104h6v6h-6zM172 110h6v6h-6zM250 110h6v6h-6zM166 116h6v6h-6zM160 128h6v6h-6zM160 134h6v6h-6zM250 134h6v6h-6zM160 140h6v6h-6zM244 140h6v6h-6zM160 146h6v6h-6zM238 146h6v6h-6zM166 152h6v6h-6zM172 158h6v6h-6zM232 158h6v6h-6zM178 164h6v6h-6zM226 164h6v6h-6zM184 170h6v6h-6zM220 170h6v6h-6zM190 176h6v6h-6zM196 182h6v6h-6zM214 182h6v6h-6zM208 188h6v6h-6z"/><path fill="rgb(24,163,248)" fill-opacity="1.00" d="M202 86h6v6h-6zM238 86h6v6h-6zM196 92h6v6h-6zM244 92h6v6h-6zM190 98h6v6h-6zM244 98h6v6h-6zM184 104h6v6h-6zM178 110h6v6h-6zM172 116h6v6h-6zM250 116h6v6h-6zM166 122h6v6h-6zM250 122h6v6h-6zM250 128h6v6h-6zM166 140h6v6h-6zM166 146h6v6h-6zM172 152h6v6h-6zM232 152h6v6h-6zM178 158h6v6h-6zM226 158h6v6h-6zM184 164h6v6h-6zM220 164h6v6h-6zM190 170h6v6h-6zM196 176h6v6h-6zM214 176h6v6h-6zM202 182h6v6h-6zM208 182h6v6h-6z"/><path fill="rgb(21,177,247)" fill-opacity="1.00" d="M208 86h6v6h-6zM214 86h6v6h-6zM220 86h6v6h-6zM226 86h6v6h-6zM232 86h6v6h-6zM238 92h6v6h-6zM190 104h6v6h-6zM244 104h6v6h-6zM184 110h6v6h-6zM244 110h6v6h-6zM178 116h6v6h-6zM172 122h6v6h-6zM166 128h6v6h-6zM166 134h6v6h-6zM244 134h6v6h-6zM172 140h6v6h-6zM238 140h6v6h-6zM172 146h6v6h-6zM178 152h6v6h-6zM184 158h6v6h-6zM220 158h6v6h-6zM190 164h6v6h-6zM196 170h6v6h-6zM214 170h6v6h-6zM202 176h6v6h-6zM208 176h6v6h-6z"/><path fill="rgb(18,191,246)" fill-opacity="1.00" d="M202 92h6v6h-6zM232 92h6v6h-6zM196 98h6v6h-6zM238 98h6v6h-6zM190 110h6v6h-6zM184 116h6v6h-6zM244 116h6v6h-6zM178 122h6v6h-6zM244 122h6v6h-6zM172 128h6v6h-6zM244 128h6v6h-6zM172 134h6v6h-6zM238 134h6v6h-6zM178 140h6v6h-6zM178 146h6v6h-6zM232 146h6v6h-6zM184 152h6v6h-6zM220 152h6v6h-6zM226 152h6v6h-6zM190 158h6v6h-6zM196 158h6v6h-6zM214 158h6v6h-6zM196 164h6v6h-6zM214 164h6v6h-6zM202 170h6v6h-6zM208 170h6v6h-6z"/><path fill="rgb(15,205,245)" fill-opacity="1.00" d="M208 92h6v6h-6zM214 92h6v6h-6zM220 92h6v6h-6zM226 92h6v6h-6zM202 98h6v6h-6zM196 104h6v6h-6zM238 104h6v6h-6zM190 116h6v6h-6zM184 122h6v6h-6zM178 128h6v6h-6zM178 134h6v6h-6zM184 140h6v6h-6zM232 140h6v6h-6zM184 146h6v6h-6zM190 146h6v6h-6zM196 146h6v6h-6zM202 146h6v6h-6zM208 146h6v6h-6zM214 146h6v6h-6zM190 152h6v6h-6zM196 152h6v6h-6zM202 152h6v6h-6zM208 152h6v6h-6zM214 152h6v6h-6zM202 158h6v6h-6zM208 158h6v6h-6zM202 164h6v6h-6zM208 164h6v6h-6z"/><path fill="rgb(18,212,236)" fill-opacity="1.00" d="M232 98h6v6h-6zM196 110h6v6h-6zM238 110h6v6h-6zM196 116h6v6h-6zM238 116h6v6h-6zM190 122h6v6h-6zM238 122h6v6h-6zM184 128h6v6h-6zM238 128h6v6h-6zM184 134h6v6h-6zM190 134h6v6h-6zM196 134h6v6h-6zM232 134h6v6h-6zM190 140h6v6h-6zM196 140h6v6h-6zM202 140h6v6h-6zM208 140h6v6h-6zM214 140h6v6h-6zM220 146h6v6h-6zM226 146h6v6h-6z"/><path fill="rgb(21,219,227)" fill-opacity="1.00" d="M208 98h6v6h-6zM214 98h6v6h-6zM220 98h6v6h-6zM226 98h6v6h-6zM202 104h6v6h-6zM196 122h6v6h-6zM202 122h6v6h-6zM190 128h6v6h-6zM196 128h6v6h-6zM202 128h6v6h-6zM202 134h6v6h-6zM208 134h6v6h-6zM214 134h6v6h-6zM220 140h6v6h-6zM226 140h6v6h-6z"/><path fill="rgb(24,226,218)" fill-opacity="1.00" d="M208 104h6v6h-6zM232 104h6v6h-6zM202 110h6v6h-6zM232 110h6v6h-6zM202 116h6v6h-6zM232 116h6v6h-6zM208 122h6v6h-6zM232 122h6v6h-6zM208 128h6v6h-6zM214 128h6v6h-6zM232 128h6v6h-6zM220 134h6v6h-6zM226 134h6v6h-6z"/><path fill="rgb(27,233,209)" fill-opacity="1.00" d="M214 104h6v6h-6zM220 104h6v6h-6zM226 104h6v6h-6zM208 110h6v6h-6zM208 116h6v6h-6zM214 116h6v6h-6zM214 122h6v6h-6zM220 122h6v6h-6zM220 128h6v6h-6zM226 128h6v6h-6z"/><path fill="rgb(30,240,200)" fill-opacity="1.00" d="M214 110h6v6h-6zM220 110h6v6h-6zM226 110h6v6h-6zM220 116h6v6h-6zM226 116h6v6h-6zM226 122h6v6h-6z"/></g>
<ellipse cx="224" cy="120" rx="9" ry="8" fill="url(#gr1)"/>
<path d="M130,174 L150,154 L170,137 L192,118" stroke="#30c8f0" stroke-width="7" fill="none" opacity="0.35" filter="url(#bl1)"/>
<path d="M130,174 L150,154 L170,137 L192,118" stroke="#38f0d8" stroke-width="2.2" fill="none" opacity="1" filter="url(#bl05)"/>
<path d="M171,218.5 L195,191.6 L207,176.7 L214,164.8 L222,154.3 L229,142.4 L237,132" stroke="#30c8f0" stroke-width="7" fill="none" opacity="0.35" filter="url(#bl1)"/>
<path d="M171,218.5 L195,191.6 L207,176.7 L214,164.8 L222,154.3 L229,142.4 L237,132" stroke="#38f0d8" stroke-width="2.2" fill="none" opacity="1" filter="url(#bl05)"/>
<path d="M189,157 L204,139 L214,126" stroke="#30c8f0" stroke-width="6" fill="none" opacity="0.3" filter="url(#bl1)"/>
<path d="M189,157 L204,139 L214,126" stroke="#38f0d0" stroke-width="2" fill="none" opacity="0.85" filter="url(#bl05)"/>
<mask id="mf1" maskUnits="userSpaceOnUse" x="0" y="0" width="740" height="704"><g filter="url(#bl4)"><path fill="rgb(255,255,255)" fill-opacity="0.42" d="M184 56h6v6h-6zM190 56h6v6h-6zM196 56h6v6h-6zM202 56h6v6h-6zM208 56h6v6h-6zM214 56h6v6h-6zM220 56h6v6h-6zM226 56h6v6h-6zM232 56h6v6h-6zM238 56h6v6h-6zM244 56h6v6h-6zM178 62h6v6h-6zM184 62h6v6h-6zM190 62h6v6h-6zM226 62h6v6h-6zM232 62h6v6h-6zM238 62h6v6h-6zM244 62h6v6h-6zM250 62h6v6h-6zM172 68h6v6h-6zM178 68h6v6h-6zM244 68h6v6h-6zM250 68h6v6h-6zM256 68h6v6h-6zM166 74h6v6h-6zM172 74h6v6h-6zM262 74h6v6h-6zM268 74h6v6h-6zM160 80h6v6h-6zM166 80h6v6h-6zM268 80h6v6h-6zM274 80h6v6h-6zM154 86h6v6h-6zM160 86h6v6h-6zM274 86h6v6h-6zM280 86h6v6h-6zM154 92h6v6h-6zM274 92h6v6h-6zM280 92h6v6h-6zM154 98h6v6h-6zM280 98h6v6h-6zM154 104h6v6h-6zM280 104h6v6h-6zM148 110h6v6h-6zM280 110h6v6h-6zM142 116h6v6h-6zM148 116h6v6h-6zM280 116h6v6h-6zM136 122h6v6h-6zM142 122h6v6h-6zM274 122h6v6h-6zM280 122h6v6h-6zM136 128h6v6h-6zM142 128h6v6h-6zM274 128h6v6h-6zM280 128h6v6h-6zM136 134h6v6h-6zM268 134h6v6h-6zM274 134h6v6h-6zM136 140h6v6h-6zM268 140h6v6h-6zM136 146h6v6h-6zM262 146h6v6h-6zM136 152h6v6h-6zM256 152h6v6h-6zM262 152h6v6h-6zM136 158h6v6h-6zM142 158h6v6h-6zM148 158h6v6h-6zM256 158h6v6h-6zM148 164h6v6h-6zM250 164h6v6h-6zM256 164h6v6h-6zM154 170h6v6h-6zM244 170h6v6h-6zM250 170h6v6h-6zM256 170h6v6h-6zM154 176h6v6h-6zM244 176h6v6h-6zM250 176h6v6h-6zM154 182h6v6h-6zM160 182h6v6h-6zM166 182h6v6h-6zM238 182h6v6h-6zM244 182h6v6h-6zM166 188h6v6h-6zM172 188h6v6h-6zM232 188h6v6h-6zM238 188h6v6h-6zM172 194h6v6h-6zM226 194h6v6h-6zM232 194h6v6h-6zM238 194h6v6h-6zM172 200h6v6h-6zM226 200h6v6h-6zM172 206h6v6h-6zM214 206h6v6h-6zM220 206h6v6h-6zM172 212h6v6h-6zM178 212h6v6h-6zM208 212h6v6h-6zM214 212h6v6h-6zM178 218h6v6h-6zM184 218h6v6h-6zM190 218h6v6h-6zM196 218h6v6h-6zM202 218h6v6h-6zM208 218h6v6h-6zM214 218h6v6h-6z"/><path fill="rgb(255,255,255)" fill-opacity="0.58" d="M196 62h6v6h-6zM202 62h6v6h-6zM208 62h6v6h-6zM214 62h6v6h-6zM220 62h6v6h-6zM184 68h6v6h-6zM190 68h6v6h-6zM196 68h6v6h-6zM220 68h6v6h-6zM226 68h6v6h-6zM232 68h6v6h-6zM238 68h6v6h-6zM178 74h6v6h-6zM184 74h6v6h-6zM250 74h6v6h-6zM256 74h6v6h-6zM172 80h6v6h-6zM178 80h6v6h-6zM262 80h6v6h-6zM166 86h6v6h-6zM172 86h6v6h-6zM268 86h6v6h-6zM160 92h6v6h-6zM166 92h6v6h-6zM268 92h6v6h-6zM160 98h6v6h-6zM268 98h6v6h-6zM274 98h6v6h-6zM274 104h6v6h-6zM154 110h6v6h-6zM274 110h6v6h-6zM268 116h6v6h-6zM274 116h6v6h-6zM148 122h6v6h-6zM268 122h6v6h-6zM148 128h6v6h-6zM268 128h6v6h-6zM142 134h6v6h-6zM148 134h6v6h-6zM262 134h6v6h-6zM142 140h6v6h-6zM262 140h6v6h-6zM142 146h6v6h-6zM256 146h6v6h-6zM142 152h6v6h-6zM148 152h6v6h-6zM250 152h6v6h-6zM250 158h6v6h-6zM154 164h6v6h-6zM244 164h6v6h-6zM160 170h6v6h-6zM238 170h6v6h-6zM160 176h6v6h-6zM166 176h6v6h-6zM238 176h6v6h-6zM172 182h6v6h-6zM232 182h6v6h-6zM178 188h6v6h-6zM226 188h6v6h-6zM178 194h6v6h-6zM220 194h6v6h-6zM178 200h6v6h-6zM214 200h6v6h-6zM220 200h6v6h-6zM178 206h6v6h-6zM184 206h6v6h-6zM196 206h6v6h-6zM202 206h6v6h-6zM208 206h6v6h-6zM184 212h6v6h-6zM190 212h6v6h-6zM196 212h6v6h-6zM202 212h6v6h-6z"/><path fill="rgb(255,255,255)" fill-opacity="0.75" d="M202 68h6v6h-6zM208 68h6v6h-6zM214 68h6v6h-6zM190 74h6v6h-6zM238 74h6v6h-6zM244 74h6v6h-6zM184 80h6v6h-6zM256 80h6v6h-6zM178 86h6v6h-6zM262 86h6v6h-6zM172 92h6v6h-6zM262 92h6v6h-6zM166 98h6v6h-6zM262 98h6v6h-6zM160 104h6v6h-6zM268 104h6v6h-6zM160 110h6v6h-6zM268 110h6v6h-6zM154 116h6v6h-6zM262 128h6v6h-6zM148 140h6v6h-6zM256 140h6v6h-6zM148 146h6v6h-6zM250 146h6v6h-6zM244 152h6v6h-6zM154 158h6v6h-6zM244 158h6v6h-6zM160 164h6v6h-6zM238 164h6v6h-6zM166 170h6v6h-6zM232 170h6v6h-6zM172 176h6v6h-6zM232 176h6v6h-6zM178 182h6v6h-6zM226 182h6v6h-6zM184 188h6v6h-6zM220 188h6v6h-6zM184 194h6v6h-6zM190 194h6v6h-6zM214 194h6v6h-6zM184 200h6v6h-6zM190 200h6v6h-6zM196 200h6v6h-6zM202 200h6v6h-6zM208 200h6v6h-6zM190 206h6v6h-6z"/><path fill="rgb(255,255,255)" fill-opacity="0.92" d="M196 74h6v6h-6zM202 74h6v6h-6zM214 74h6v6h-6zM220 74h6v6h-6zM226 74h6v6h-6zM232 74h6v6h-6zM190 80h6v6h-6zM244 80h6v6h-6zM250 80h6v6h-6zM184 86h6v6h-6zM256 86h6v6h-6zM178 92h6v6h-6zM256 92h6v6h-6zM172 98h6v6h-6zM166 104h6v6h-6zM262 104h6v6h-6zM262 110h6v6h-6zM160 116h6v6h-6zM262 116h6v6h-6zM154 122h6v6h-6zM262 122h6v6h-6zM154 128h6v6h-6zM154 134h6v6h-6zM256 134h6v6h-6zM154 140h6v6h-6zM250 140h6v6h-6zM154 146h6v6h-6zM244 146h6v6h-6zM154 152h6v6h-6zM160 158h6v6h-6zM238 158h6v6h-6zM166 164h6v6h-6zM232 164h6v6h-6zM172 170h6v6h-6zM226 170h6v6h-6zM178 176h6v6h-6zM226 176h6v6h-6zM184 182h6v6h-6zM220 182h6v6h-6zM190 188h6v6h-6zM196 194h6v6h-6zM202 194h6v6h-6z"/><path fill="rgb(255,255,255)" fill-opacity="1.00" d="M208 74h6v6h-6zM196 80h6v6h-6zM238 80h6v6h-6zM190 86h6v6h-6zM250 86h6v6h-6zM184 92h6v6h-6zM250 92h6v6h-6zM178 98h6v6h-6zM256 98h6v6h-6zM172 104h6v6h-6zM256 104h6v6h-6zM166 110h6v6h-6zM256 110h6v6h-6zM256 116h6v6h-6zM160 122h6v6h-6zM256 122h6v6h-6zM256 128h6v6h-6zM160 152h6v6h-6zM238 152h6v6h-6zM166 158h6v6h-6zM172 164h6v6h-6zM178 170h6v6h-6zM184 176h6v6h-6zM220 176h6v6h-6zM190 182h6v6h-6zM196 188h6v6h-6zM202 188h6v6h-6zM214 188h6v6h-6zM208 194h6v6h-6z"/><path fill="rgb(255,255,255)" fill-opacity="1.00" d="M202 80h6v6h-6zM208 80h6v6h-6zM214 80h6v6h-6zM220 80h6v6h-6zM226 80h6v6h-6zM232 80h6v6h-6zM196 86h6v6h-6zM244 86h6v6h-6zM190 92h6v6h-6zM184 98h6v6h-6zM250 98h6v6h-6zM178 104h6v6h-6zM250 104h6v6h-6zM172 110h6v6h-6zM250 110h6v6h-6zM166 116h6v6h-6zM160 128h6v6h-6zM160 134h6v6h-6zM250 134h6v6h-6zM160 140h6v6h-6zM244 140h6v6h-6zM160 146h6v6h-6zM238 146h6v6h-6zM166 152h6v6h-6zM172 158h6v6h-6zM232 158h6v6h-6zM178 164h6v6h-6zM226 164h6v6h-6zM184 170h6v6h-6zM220 170h6v6h-6zM190 176h6v6h-6zM196 182h6v6h-6zM214 182h6v6h-6zM208 188h6v6h-6z"/><path fill="rgb(255,255,255)" fill-opacity="1.00" d="M202 86h6v6h-6zM238 86h6v6h-6zM196 92h6v6h-6zM244 92h6v6h-6zM190 98h6v6h-6zM244 98h6v6h-6zM184 104h6v6h-6zM178 110h6v6h-6zM172 116h6v6h-6zM250 116h6v6h-6zM166 122h6v6h-6zM250 122h6v6h-6zM250 128h6v6h-6zM166 140h6v6h-6zM166 146h6v6h-6zM172 152h6v6h-6zM232 152h6v6h-6zM178 158h6v6h-6zM226 158h6v6h-6zM184 164h6v6h-6zM220 164h6v6h-6zM190 170h6v6h-6zM196 176h6v6h-6zM214 176h6v6h-6zM202 182h6v6h-6zM208 182h6v6h-6z"/><path fill="rgb(255,255,255)" fill-opacity="1.00" d="M208 86h6v6h-6zM214 86h6v6h-6zM220 86h6v6h-6zM226 86h6v6h-6zM232 86h6v6h-6zM238 92h6v6h-6zM190 104h6v6h-6zM244 104h6v6h-6zM184 110h6v6h-6zM244 110h6v6h-6zM178 116h6v6h-6zM172 122h6v6h-6zM166 128h6v6h-6zM166 134h6v6h-6zM244 134h6v6h-6zM172 140h6v6h-6zM238 140h6v6h-6zM172 146h6v6h-6zM178 152h6v6h-6zM184 158h6v6h-6zM220 158h6v6h-6zM190 164h6v6h-6zM196 170h6v6h-6zM214 170h6v6h-6zM202 176h6v6h-6zM208 176h6v6h-6z"/><path fill="rgb(255,255,255)" fill-opacity="1.00" d="M202 92h6v6h-6zM232 92h6v6h-6zM196 98h6v6h-6zM238 98h6v6h-6zM190 110h6v6h-6zM184 116h6v6h-6zM244 116h6v6h-6zM178 122h6v6h-6zM244 122h6v6h-6zM172 128h6v6h-6zM244 128h6v6h-6zM172 134h6v6h-6zM238 134h6v6h-6zM178 140h6v6h-6zM178 146h6v6h-6zM232 146h6v6h-6zM184 152h6v6h-6zM220 152h6v6h-6zM226 152h6v6h-6zM190 158h6v6h-6zM196 158h6v6h-6zM214 158h6v6h-6zM196 164h6v6h-6zM214 164h6v6h-6zM202 170h6v6h-6zM208 170h6v6h-6z"/><path fill="rgb(255,255,255)" fill-opacity="1.00" d="M208 92h6v6h-6zM214 92h6v6h-6zM220 92h6v6h-6zM226 92h6v6h-6zM202 98h6v6h-6zM196 104h6v6h-6zM238 104h6v6h-6zM190 116h6v6h-6zM184 122h6v6h-6zM178 128h6v6h-6zM178 134h6v6h-6zM184 140h6v6h-6zM232 140h6v6h-6zM184 146h6v6h-6zM190 146h6v6h-6zM196 146h6v6h-6zM202 146h6v6h-6zM208 146h6v6h-6zM214 146h6v6h-6zM190 152h6v6h-6zM196 152h6v6h-6zM202 152h6v6h-6zM208 152h6v6h-6zM214 152h6v6h-6zM202 158h6v6h-6zM208 158h6v6h-6zM202 164h6v6h-6zM208 164h6v6h-6z"/><path fill="rgb(255,255,255)" fill-opacity="1.00" d="M232 98h6v6h-6zM196 110h6v6h-6zM238 110h6v6h-6zM196 116h6v6h-6zM238 116h6v6h-6zM190 122h6v6h-6zM238 122h6v6h-6zM184 128h6v6h-6zM238 128h6v6h-6zM184 134h6v6h-6zM190 134h6v6h-6zM196 134h6v6h-6zM232 134h6v6h-6zM190 140h6v6h-6zM196 140h6v6h-6zM202 140h6v6h-6zM208 140h6v6h-6zM214 140h6v6h-6zM220 146h6v6h-6zM226 146h6v6h-6z"/><path fill="rgb(255,255,255)" fill-opacity="1.00" d="M208 98h6v6h-6zM214 98h6v6h-6zM220 98h6v6h-6zM226 98h6v6h-6zM202 104h6v6h-6zM196 122h6v6h-6zM202 122h6v6h-6zM190 128h6v6h-6zM196 128h6v6h-6zM202 128h6v6h-6zM202 134h6v6h-6zM208 134h6v6h-6zM214 134h6v6h-6zM220 140h6v6h-6zM226 140h6v6h-6z"/><path fill="rgb(255,255,255)" fill-opacity="1.00" d="M208 104h6v6h-6zM232 104h6v6h-6zM202 110h6v6h-6zM232 110h6v6h-6zM202 116h6v6h-6zM232 116h6v6h-6zM208 122h6v6h-6zM232 122h6v6h-6zM208 128h6v6h-6zM214 128h6v6h-6zM232 128h6v6h-6zM220 134h6v6h-6zM226 134h6v6h-6z"/><path fill="rgb(255,255,255)" fill-opacity="1.00" d="M214 104h6v6h-6zM220 104h6v6h-6zM226 104h6v6h-6zM208 110h6v6h-6zM208 116h6v6h-6zM214 116h6v6h-6zM214 122h6v6h-6zM220 122h6v6h-6zM220 128h6v6h-6zM226 128h6v6h-6z"/><path fill="rgb(255,255,255)" fill-opacity="1.00" d="M214 110h6v6h-6zM220 110h6v6h-6zM226 110h6v6h-6zM220 116h6v6h-6zM226 116h6v6h-6zM226 122h6v6h-6z"/></g></mask>
<rect x="110" y="0" width="230" height="240" fill="url(#bsp)" mask="url(#mf1)"/>
<rect x="110" y="0" width="230" height="240" fill="url(#csp)" mask="url(#mc1)"/>
</g>
<rect x="27.5" y="2.3" width="312.8" height="321.0" fill="none" stroke="#7c7c7c" stroke-width="1.25"/>
<text x="22.5" y="297.7" text-anchor="end" class="t">0. 6</text>
<text x="22.5" y="268.5" text-anchor="end" class="t">0. 8</text>
<text x="22.5" y="239.4" text-anchor="end" class="t">1. 0</text>
<text x="22.5" y="210.2" text-anchor="end" class="t">1. 2</text>
<text x="22.5" y="181.0" text-anchor="end" class="t">1. 4</text>
<text x="22.5" y="151.8" text-anchor="end" class="t">1. 6</text>
<text x="22.5" y="122.6" text-anchor="end" class="t">1. 8</text>
<text x="22.5" y="93.4" text-anchor="end" class="t">2. 0</text>
<text x="22.5" y="64.3" text-anchor="end" class="t">2. 2</text>
<text x="22.5" y="35.1" text-anchor="end" class="t">2. 4</text>
<text x="57.4" y="338.0" text-anchor="middle" class="t">0. 6</text>
<text x="85.9" y="338.0" text-anchor="middle" class="t">0. 8</text>
<text x="114.3" y="338.0" text-anchor="middle" class="t">1. 0</text>
<text x="142.7" y="338.0" text-anchor="middle" class="t">1. 2</text>
<text x="171.2" y="338.0" text-anchor="middle" class="t">1. 4</text>
<text x="199.6" y="338.0" text-anchor="middle" class="t">1. 6</text>
<text x="228.1" y="338.0" text-anchor="middle" class="t">1. 8</text>
<text x="256.5" y="338.0" text-anchor="middle" class="t">2. 0</text>
<text x="284.9" y="338.0" text-anchor="middle" class="t">2. 2</text>
<text x="313.4" y="338.0" text-anchor="middle" class="t">2. 4</text>
<text x="12.5" y="337.3" class="t">( Å)</text>
<text x="32.0" y="23.8" class="ax">d<tspan class="sub" dy="3">e</tspan></text>
<text x="336.3" y="316.5" class="ax" text-anchor="end">d<tspan class="sub" dy="2">i</tspan></text>
<text x="35.5" y="314.8" class="lab">All –100%</text>
<path d="M453.9 1.5V324.2M425.5 294.9H738.4M482.4 1.5V324.2M425.5 265.5H738.4M510.8 1.5V324.2M425.5 236.2H738.4M539.3 1.5V324.2M425.5 206.9H738.4M567.7 1.5V324.2M425.5 177.5H738.4M596.2 1.5V324.2M425.5 148.2H738.4M624.6 1.5V324.2M425.5 118.8H738.4M653.1 1.5V324.2M425.5 89.5H738.4M681.5 1.5V324.2M425.5 60.2H738.4M710.0 1.5V324.2M425.5 30.8H738.4" stroke="#ebebeb" stroke-width="1" fill="none"/>
<polygon points="535.4,232.9 532.3,232.2 532.0,214.3 514.0,211.8 513.6,191.8 514.7,177.1 517.4,171.2 517.4,133.5 518.2,129.4 524.6,121.6 529.7,112.7 538.7,107.6 545.1,96.0 548.9,88.3 556.6,83.1 560.4,76.7 566.8,65.1 570.7,58.7 579.6,56.1 586.1,51.6 591.2,45.8 596.3,40.7 603.6,38.6 618.9,38.6 627.4,36.0 635.1,35.2 643.7,29.1 653.9,23.2 662.4,18.0 672.6,11.2 682.9,12.9 689.7,7.7 698.1,2.2 728.9,2.2 730.6,9.4 730.6,16.3 723.8,24.9 722.1,33.4 717.0,42.0 713.5,50.5 713.5,59.2 717.0,71.2 718.7,88.3 713.5,95.1 715.3,104.0 710.1,116.8 701.6,132.3 698.1,137.4 689.7,147.7 686.3,156.2 684.6,166.6 674.3,173.4 667.5,183.7 655.6,188.8 645.4,193.9 638.1,197.0 632.1,200.2 627.6,207.3 624.1,213.3 621.1,219.3 617.1,225.4 614.6,228.8 598.1,228.9 561.0,228.4 559.3,231.4 548.0,232.7" fill="url(#g32)" />
<polygon points="688.1,17.3 698.1,4.2 729.1,4.2 730.1,16.3 723.1,25.3 718.1,39.4 713.1,54.5 703.1,49.5 696.1,34.4" fill="url(#g40)" />
<polygon points="532.5,227.4 532.0,213.8 523.0,212.8 516.0,205.3 516.0,178.1 519.0,170.1 519.0,133.9 521.0,128.9 526.0,122.8 531.0,114.8 540.0,108.8 546.5,96.7 550.0,89.7 558.0,84.6 562.0,77.6 568.0,66.5 572.0,60.5 581.0,57.5 588.1,55.5 596.1,53.5 606.1,52.5 620.1,49.5 630.1,43.4 640.1,37.4 650.1,32.4 660.1,27.3 670.1,22.3 680.1,18.3 690.1,13.3 696.1,21.3 694.1,44.4 690.1,59.5 690.1,79.6 690.1,99.7 688.1,119.8 683.1,134.9 678.1,150.0 673.1,162.0 664.1,172.1 654.1,181.1 642.1,188.2 632.1,195.2 624.1,204.3 618.1,214.3 612.1,222.4 604.1,225.4 564.0,224.4 548.0,228.4 536.0,228.4" fill="url(#g75)" />
<polygon points="532.0,212.3 519.0,210.3 518.0,180.1 522.0,174.1 528.0,170.1 535.0,139.9 534.0,127.9 530.0,119.8 540.0,110.8 547.0,98.7 551.0,91.7 559.0,85.6 564.0,78.6 570.0,67.5 574.0,62.5 584.1,61.5 594.1,62.5 604.1,63.5 616.1,62.5 626.1,57.5 636.1,51.5 648.1,47.4 660.1,45.4 670.1,47.4 676.1,55.5 680.1,63.5 682.1,79.6 682.1,99.7 678.1,117.8 674.1,131.9 673.1,148.0 665.1,165.1 651.1,180.1 633.1,194.2 624.1,204.3 619.1,215.3 614.1,224.4 598.1,222.4 568.0,222.4 558.0,224.4 538.0,226.4" fill="#bdbdbd" />
<polygon points="515.0,176.1 526.0,172.1 535.0,168.1 545.0,165.1 555.0,162.0 564.0,160.5 572.0,166.1 576.5,178.1 575.5,198.2 570.0,210.3 564.0,216.3 560.0,226.4 532.3,228.4 531.0,213.3 514.0,210.3" fill="#fff" />
<polygon points="515.0,176.1 526.0,172.1 535.0,168.1 545.0,165.1 555.0,162.0 564.0,160.5 572.0,166.1 576.5,178.1 575.5,198.2 570.0,210.3 564.0,216.3 560.0,226.4 532.3,228.4 531.0,213.3 514.0,210.3" fill="url(#g78)" />
<polygon points="569.3,219.9 580.6,214.2 594.9,209.9 609.1,211.3 610.5,214.3 609.1,227.4 564.0,227.9" fill="#fff" />
<polygon points="569.3,219.9 580.6,214.2 594.9,209.9 609.1,211.3 610.5,214.3 609.1,227.4 564.0,227.9" fill="url(#g45)" />
<polygon points="518.0,129.9 523.0,124.8 531.0,122.8 536.0,127.9 537.0,139.9 536.0,155.0 534.0,165.1 530.0,172.1 528.0,176.1 518.0,178.1" fill="#fff" />
<polygon points="518.0,129.9 523.0,124.8 531.0,122.8 536.0,127.9 537.0,139.9 536.0,155.0 534.0,165.1 530.0,172.1 528.0,176.1 518.0,178.1" fill="url(#g60)" />
<polygon points="710.1,116.8 701.6,132.3 698.1,137.4 689.7,147.7 686.3,156.2 684.6,166.6 674.3,173.4 667.5,183.7 655.6,188.8 645.4,193.9 638.1,197.0 632.0,200.0 637.0,190.0 643.0,179.0 649.0,167.0 655.0,155.0 661.0,145.0 668.0,133.0 676.0,124.0 688.0,115.0" fill="url(#b25)" />
<g clip-path="url(#clipP2B)">
<polygon points="526.9,174.6 526.9,167.7 530.9,161.7 536.8,151.7 538.8,139.8 536.8,132.8 524.9,132.8 518.9,133.8 518.2,129.4 524.6,121.6 529.7,112.7 538.7,107.6 545.1,96.0 548.9,88.3 556.6,83.1 560.4,76.7 566.8,65.1 570.7,58.7 579.6,56.1 586.1,51.6 591.2,45.8 596.3,40.7 603.6,38.6 618.9,38.6 627.4,36.0 635.1,35.2 643.7,29.1 653.9,23.2 662.4,18.0 672.6,11.2 682.9,12.9 689.7,7.7 698.1,2.2 728.9,2.2 730.6,9.4 730.6,16.3 723.8,24.9 722.1,33.4 717.0,42.0 713.5,50.5 713.5,59.2 717.0,71.2 718.7,88.3 713.5,95.1 715.3,104.0 710.1,116.8 688.0,115.0 676.0,124.0 668.0,133.0 661.0,145.0 655.0,155.0 649.0,167.0 643.0,179.0 637.0,190.0 632.0,200.0 626.4,207.8 619.9,215.4 615.5,222.0 614.5,229.0 609.0,228.4 609.0,210.0 596.0,209.0 587.4,213.2 577.7,220.8 570.1,219.2 573.9,205.7 575.5,191.6 577.7,176.5 578.8,172.0 578.4,166.5 570.0,166.0 560.0,166.0 548.0,167.0 536.8,170.0" fill="#fff" />
<polygon points="518.2,129.4 524.6,121.6 529.7,112.7 538.7,107.6 545.1,96.0 548.9,88.3 556.6,83.1 560.4,76.7 566.8,65.1 570.7,58.7 579.6,56.1 586.1,51.6 591.2,45.8 596.3,40.7 603.6,38.6 618.9,38.6 627.4,36.0 640.0,32.0 645.0,45.0 630.0,55.0 615.0,62.0 600.0,70.0 590.0,77.0 578.0,84.0 566.0,94.0 558.0,104.0 552.0,117.0 548.0,130.0 540.0,138.0 530.0,136.0" fill="url(#g70)" />
<polygon points="535.4,232.9 532.3,232.2 532.0,214.3 514.0,211.8 513.6,191.8 514.7,177.1 517.4,171.2 517.4,133.5 518.2,129.4 524.6,121.6 529.7,112.7 538.7,107.6 545.1,96.0 548.9,88.3 556.6,83.1 560.4,76.7 566.8,65.1 570.7,58.7 579.6,56.1 586.1,51.6 591.2,45.8 596.3,40.7 603.6,38.6 618.9,38.6 627.4,36.0 635.1,35.2 643.7,29.1 653.9,23.2 662.4,18.0 672.6,11.2 682.9,12.9 689.7,7.7 698.1,2.2 728.9,2.2 730.6,9.4 730.6,16.3 723.8,24.9 722.1,33.4 717.0,42.0 713.5,50.5 713.5,59.2 717.0,71.2 718.7,88.3 713.5,95.1 715.3,104.0 710.1,116.8 701.6,132.3 698.1,137.4 689.7,147.7 686.3,156.2 684.6,166.6 674.3,173.4 667.5,183.7 655.6,188.8 645.4,193.9 638.1,197.0 632.1,200.2 627.6,207.3 624.1,213.3 621.1,219.3 617.1,225.4 614.6,228.8 598.1,228.9 561.0,228.4 559.3,231.4 548.0,232.7" fill="url(#b32)" />
<polygon points="688.1,17.3 698.1,4.2 729.1,4.2 730.1,16.3 723.1,25.3 718.1,39.4 713.1,54.5 703.1,49.5 696.1,34.4" fill="url(#b40)" />
<polygon points="532.5,227.4 532.0,213.8 523.0,212.8 516.0,205.3 516.0,178.1 519.0,170.1 519.0,133.9 521.0,128.9 526.0,122.8 531.0,114.8 540.0,108.8 546.5,96.7 550.0,89.7 558.0,84.6 562.0,77.6 568.0,66.5 572.0,60.5 581.0,57.5 588.1,55.5 596.1,53.5 606.1,52.5 620.1,49.5 630.1,43.4 640.1,37.4 650.1,32.4 660.1,27.3 670.1,22.3 680.1,18.3 690.1,13.3 696.1,21.3 694.1,44.4 690.1,59.5 690.1,79.6 690.1,99.7 688.1,119.8 683.1,134.9 678.1,150.0 673.1,162.0 664.1,172.1 654.1,181.1 642.1,188.2 632.1,195.2 624.1,204.3 618.1,214.3 612.1,222.4 604.1,225.4 564.0,224.4 548.0,228.4 536.0,228.4" fill="url(#b50)" />
<polygon points="515.0,176.1 526.0,172.1 535.0,168.1 545.0,165.1 555.0,162.0 564.0,160.5 572.0,166.1 576.5,178.1 575.5,198.2 570.0,210.3 564.0,216.3 560.0,226.4 532.3,228.4 531.0,213.3 514.0,210.3" fill="#fff" />
<polygon points="515.0,176.1 526.0,172.1 535.0,168.1 545.0,165.1 555.0,162.0 564.0,160.5 572.0,166.1 576.5,178.1 575.5,198.2 570.0,210.3 564.0,216.3 560.0,226.4 532.3,228.4 531.0,213.3 514.0,210.3" fill="url(#b78)" />
<polygon points="569.3,219.9 580.6,214.2 594.9,209.9 609.1,211.3 610.5,214.3 609.1,227.4 564.0,227.9" fill="#fff" />
<polygon points="569.3,219.9 580.6,214.2 594.9,209.9 609.1,211.3 610.5,214.3 609.1,227.4 564.0,227.9" fill="url(#b45)" />
<polygon points="518.0,129.9 523.0,124.8 531.0,122.8 536.0,127.9 537.0,139.9 536.0,155.0 534.0,165.1 530.0,172.1 528.0,176.1 518.0,178.1" fill="#fff" />
<polygon points="518.0,129.9 523.0,124.8 531.0,122.8 536.0,127.9 537.0,139.9 536.0,155.0 534.0,165.1 530.0,172.1 528.0,176.1 518.0,178.1" fill="url(#b60)" />
</g>
<polygon points="527.0,174.0 531.0,162.0 537.0,152.0 540.0,140.0 546.0,136.0 549.0,120.0 555.0,106.0 561.9,99.0 574.7,92.6 583.2,86.9 594.5,82.0 605.0,74.0 621.3,64.0 642.6,62.6 660.0,66.0 671.0,74.0 676.7,84.0 679.5,98.0 683.0,112.0 676.0,124.0 668.0,133.0 661.0,145.0 655.0,155.0 649.0,167.0 643.0,179.0 637.0,190.0 632.0,200.0 626.4,207.8 619.9,215.4 615.5,222.0 614.5,229.0 609.0,228.4 609.0,210.0 596.0,209.0 587.4,213.2 577.7,220.8 570.1,219.2 573.9,205.7 575.5,191.6 577.7,176.5 578.8,172.0 578.4,162.0 570.0,155.0 560.0,154.0 548.0,161.0 536.8,169.0" fill="#1b34fc" filter="url(#bl1)"/>
<g clip-path="url(#clipP2)">
<g filter="url(#bl4)"><path fill="rgb(30,135,250)" fill-opacity="0.20" d="M582 72h6v6h-6zM588 72h6v6h-6zM594 72h6v6h-6zM600 72h6v6h-6zM606 72h6v6h-6zM612 72h6v6h-6zM618 72h6v6h-6zM624 72h6v6h-6zM630 72h6v6h-6zM576 78h6v6h-6zM582 78h6v6h-6zM588 78h6v6h-6zM594 78h6v6h-6zM600 78h6v6h-6zM606 78h6v6h-6zM612 78h6v6h-6zM618 78h6v6h-6zM624 78h6v6h-6zM630 78h6v6h-6zM636 78h6v6h-6zM564 84h6v6h-6zM570 84h6v6h-6zM576 84h6v6h-6zM582 84h6v6h-6zM630 84h6v6h-6zM636 84h6v6h-6zM642 84h6v6h-6zM558 90h6v6h-6zM564 90h6v6h-6zM570 90h6v6h-6zM642 90h6v6h-6zM648 90h6v6h-6zM654 90h6v6h-6zM558 96h6v6h-6zM648 96h6v6h-6zM654 96h6v6h-6zM552 102h6v6h-6zM654 102h6v6h-6zM660 102h6v6h-6zM540 108h6v6h-6zM546 108h6v6h-6zM552 108h6v6h-6zM654 108h6v6h-6zM660 108h6v6h-6zM540 114h6v6h-6zM546 114h6v6h-6zM660 114h6v6h-6zM534 120h6v6h-6zM540 120h6v6h-6zM660 120h6v6h-6zM528 126h6v6h-6zM534 126h6v6h-6zM660 126h6v6h-6zM522 132h6v6h-6zM528 132h6v6h-6zM534 132h6v6h-6zM660 132h6v6h-6zM522 138h6v6h-6zM528 138h6v6h-6zM660 138h6v6h-6zM516 144h6v6h-6zM522 144h6v6h-6zM654 144h6v6h-6zM660 144h6v6h-6zM516 150h6v6h-6zM522 150h6v6h-6zM654 150h6v6h-6zM660 150h6v6h-6zM516 156h6v6h-6zM648 156h6v6h-6zM654 156h6v6h-6zM660 156h6v6h-6zM516 162h6v6h-6zM522 162h6v6h-6zM648 162h6v6h-6zM654 162h6v6h-6zM516 168h6v6h-6zM522 168h6v6h-6zM528 168h6v6h-6zM534 168h6v6h-6zM642 168h6v6h-6zM648 168h6v6h-6zM540 174h6v6h-6zM546 174h6v6h-6zM552 174h6v6h-6zM558 174h6v6h-6zM564 174h6v6h-6zM570 174h6v6h-6zM642 174h6v6h-6zM576 180h6v6h-6zM636 180h6v6h-6zM642 180h6v6h-6zM576 186h6v6h-6zM636 186h6v6h-6zM642 186h6v6h-6zM576 192h6v6h-6zM582 192h6v6h-6zM630 192h6v6h-6zM636 192h6v6h-6zM576 198h6v6h-6zM582 198h6v6h-6zM630 198h6v6h-6zM636 198h6v6h-6zM582 204h6v6h-6zM588 204h6v6h-6zM624 204h6v6h-6zM630 204h6v6h-6zM636 204h6v6h-6zM588 210h6v6h-6zM594 210h6v6h-6zM618 210h6v6h-6zM624 210h6v6h-6zM594 216h6v6h-6zM600 216h6v6h-6zM612 216h6v6h-6zM618 216h6v6h-6zM600 222h6v6h-6zM606 222h6v6h-6zM612 222h6v6h-6zM618 222h6v6h-6zM606 228h6v6h-6zM612 228h6v6h-6z"/><path fill="rgb(30,135,250)" fill-opacity="0.40" d="M588 84h6v6h-6zM594 84h6v6h-6zM600 84h6v6h-6zM606 84h6v6h-6zM612 84h6v6h-6zM618 84h6v6h-6zM624 84h6v6h-6zM576 90h6v6h-6zM582 90h6v6h-6zM588 90h6v6h-6zM594 90h6v6h-6zM612 90h6v6h-6zM618 90h6v6h-6zM624 90h6v6h-6zM630 90h6v6h-6zM636 90h6v6h-6zM564 96h6v6h-6zM570 96h6v6h-6zM576 96h6v6h-6zM630 96h6v6h-6zM636 96h6v6h-6zM642 96h6v6h-6zM558 102h6v6h-6zM564 102h6v6h-6zM636 102h6v6h-6zM642 102h6v6h-6zM648 102h6v6h-6zM558 108h6v6h-6zM642 108h6v6h-6zM648 108h6v6h-6zM552 114h6v6h-6zM648 114h6v6h-6zM654 114h6v6h-6zM546 120h6v6h-6zM552 120h6v6h-6zM648 120h6v6h-6zM654 120h6v6h-6zM540 126h6v6h-6zM546 126h6v6h-6zM648 126h6v6h-6zM654 126h6v6h-6zM540 132h6v6h-6zM648 132h6v6h-6zM654 132h6v6h-6zM534 138h6v6h-6zM540 138h6v6h-6zM648 138h6v6h-6zM654 138h6v6h-6zM528 144h6v6h-6zM534 144h6v6h-6zM642 144h6v6h-6zM648 144h6v6h-6zM528 150h6v6h-6zM642 150h6v6h-6zM648 150h6v6h-6zM522 156h6v6h-6zM636 156h6v6h-6zM642 156h6v6h-6zM528 162h6v6h-6zM534 162h6v6h-6zM636 162h6v6h-6zM642 162h6v6h-6zM540 168h6v6h-6zM546 168h6v6h-6zM552 168h6v6h-6zM558 168h6v6h-6zM564 168h6v6h-6zM570 168h6v6h-6zM630 168h6v6h-6zM636 168h6v6h-6zM576 174h6v6h-6zM630 174h6v6h-6zM636 174h6v6h-6zM582 180h6v6h-6zM630 180h6v6h-6zM582 186h6v6h-6zM624 186h6v6h-6zM630 186h6v6h-6zM588 192h6v6h-6zM624 192h6v6h-6zM588 198h6v6h-6zM594 198h6v6h-6zM624 198h6v6h-6zM594 204h6v6h-6zM600 204h6v6h-6zM618 204h6v6h-6zM600 210h6v6h-6zM606 210h6v6h-6zM612 210h6v6h-6zM606 216h6v6h-6z"/><path fill="rgb(30,135,250)" fill-opacity="0.60" d="M600 90h6v6h-6zM606 90h6v6h-6zM582 96h6v6h-6zM588 96h6v6h-6zM594 96h6v6h-6zM600 96h6v6h-6zM606 96h6v6h-6zM612 96h6v6h-6zM618 96h6v6h-6zM624 96h6v6h-6zM570 102h6v6h-6zM576 102h6v6h-6zM582 102h6v6h-6zM588 102h6v6h-6zM612 102h6v6h-6zM618 102h6v6h-6zM624 102h6v6h-6zM630 102h6v6h-6zM564 108h6v6h-6zM570 108h6v6h-6zM624 108h6v6h-6zM630 108h6v6h-6zM636 108h6v6h-6zM558 114h6v6h-6zM630 114h6v6h-6zM636 114h6v6h-6zM642 114h6v6h-6zM558 120h6v6h-6zM630 120h6v6h-6zM636 120h6v6h-6zM642 120h6v6h-6zM552 126h6v6h-6zM630 126h6v6h-6zM636 126h6v6h-6zM642 126h6v6h-6zM546 132h6v6h-6zM552 132h6v6h-6zM630 132h6v6h-6zM636 132h6v6h-6zM642 132h6v6h-6zM546 138h6v6h-6zM630 138h6v6h-6zM636 138h6v6h-6zM642 138h6v6h-6zM540 144h6v6h-6zM546 144h6v6h-6zM630 144h6v6h-6zM636 144h6v6h-6zM534 150h6v6h-6zM540 150h6v6h-6zM630 150h6v6h-6zM636 150h6v6h-6zM528 156h6v6h-6zM534 156h6v6h-6zM540 156h6v6h-6zM630 156h6v6h-6zM540 162h6v6h-6zM546 162h6v6h-6zM552 162h6v6h-6zM558 162h6v6h-6zM564 162h6v6h-6zM624 162h6v6h-6zM630 162h6v6h-6zM576 168h6v6h-6zM624 168h6v6h-6zM582 174h6v6h-6zM624 174h6v6h-6zM588 180h6v6h-6zM618 180h6v6h-6zM624 180h6v6h-6zM588 186h6v6h-6zM594 186h6v6h-6zM618 186h6v6h-6zM594 192h6v6h-6zM600 192h6v6h-6zM618 192h6v6h-6zM600 198h6v6h-6zM612 198h6v6h-6zM618 198h6v6h-6zM606 204h6v6h-6zM612 204h6v6h-6z"/><path fill="rgb(30,135,250)" fill-opacity="0.80" d="M594 102h6v6h-6zM600 102h6v6h-6zM606 102h6v6h-6zM576 108h6v6h-6zM582 108h6v6h-6zM588 108h6v6h-6zM594 108h6v6h-6zM600 108h6v6h-6zM606 108h6v6h-6zM612 108h6v6h-6zM618 108h6v6h-6zM564 114h6v6h-6zM570 114h6v6h-6zM576 114h6v6h-6zM582 114h6v6h-6zM588 114h6v6h-6zM594 114h6v6h-6zM600 114h6v6h-6zM606 114h6v6h-6zM612 114h6v6h-6zM618 114h6v6h-6zM624 114h6v6h-6zM564 120h6v6h-6zM612 120h6v6h-6zM618 120h6v6h-6zM624 120h6v6h-6zM558 126h6v6h-6zM612 126h6v6h-6zM618 126h6v6h-6zM624 126h6v6h-6zM558 132h6v6h-6zM612 132h6v6h-6zM618 132h6v6h-6zM624 132h6v6h-6zM552 138h6v6h-6zM558 138h6v6h-6zM612 138h6v6h-6zM618 138h6v6h-6zM624 138h6v6h-6zM552 144h6v6h-6zM558 144h6v6h-6zM618 144h6v6h-6zM624 144h6v6h-6zM546 150h6v6h-6zM552 150h6v6h-6zM558 150h6v6h-6zM618 150h6v6h-6zM624 150h6v6h-6zM546 156h6v6h-6zM552 156h6v6h-6zM558 156h6v6h-6zM564 156h6v6h-6zM624 156h6v6h-6zM570 162h6v6h-6zM576 162h6v6h-6zM582 162h6v6h-6zM618 162h6v6h-6zM582 168h6v6h-6zM588 168h6v6h-6zM618 168h6v6h-6zM588 174h6v6h-6zM594 174h6v6h-6zM618 174h6v6h-6zM594 180h6v6h-6zM600 180h6v6h-6zM612 180h6v6h-6zM600 186h6v6h-6zM606 186h6v6h-6zM612 186h6v6h-6zM606 192h6v6h-6zM612 192h6v6h-6zM606 198h6v6h-6z"/><path fill="rgb(30,135,250)" fill-opacity="1.00" d="M570 120h6v6h-6zM576 120h6v6h-6zM582 120h6v6h-6zM588 120h6v6h-6zM594 120h6v6h-6zM600 120h6v6h-6zM606 120h6v6h-6zM564 126h6v6h-6zM570 126h6v6h-6zM576 126h6v6h-6zM582 126h6v6h-6zM588 126h6v6h-6zM594 126h6v6h-6zM600 126h6v6h-6zM606 126h6v6h-6zM564 132h6v6h-6zM570 132h6v6h-6zM576 132h6v6h-6zM582 132h6v6h-6zM588 132h6v6h-6zM594 132h6v6h-6zM600 132h6v6h-6zM606 132h6v6h-6zM564 138h6v6h-6zM570 138h6v6h-6zM576 138h6v6h-6zM582 138h6v6h-6zM588 138h6v6h-6zM594 138h6v6h-6zM600 138h6v6h-6zM606 138h6v6h-6zM564 144h6v6h-6zM570 144h6v6h-6zM576 144h6v6h-6zM582 144h6v6h-6zM588 144h6v6h-6zM594 144h6v6h-6zM600 144h6v6h-6zM606 144h6v6h-6zM612 144h6v6h-6zM564 150h6v6h-6zM570 150h6v6h-6zM576 150h6v6h-6zM582 150h6v6h-6zM588 150h6v6h-6zM594 150h6v6h-6zM612 150h6v6h-6zM570 156h6v6h-6zM576 156h6v6h-6zM582 156h6v6h-6zM588 156h6v6h-6zM594 156h6v6h-6zM618 156h6v6h-6zM588 162h6v6h-6zM594 162h6v6h-6zM612 162h6v6h-6zM594 168h6v6h-6zM600 168h6v6h-6zM612 168h6v6h-6zM600 174h6v6h-6zM606 174h6v6h-6zM612 174h6v6h-6zM606 180h6v6h-6z"/><path fill="rgb(27,149,249)" fill-opacity="1.00" d="M600 150h6v6h-6zM606 150h6v6h-6zM600 156h6v6h-6zM606 156h6v6h-6zM612 156h6v6h-6zM600 162h6v6h-6zM606 162h6v6h-6zM606 168h6v6h-6z"/></g>
<path d="M527,174 L545,157 L565,140 L585,124" stroke="#30c8f0" stroke-width="9" fill="none" opacity="0.4" filter="url(#bl2)"/>
<path d="M570,219 L594,193 L608,173 L620,150" stroke="#30c8f0" stroke-width="9" fill="none" opacity="0.4" filter="url(#bl2)"/>
<path d="M527,174 L545,157 L565,140 L580,128" stroke="#30e0e8" stroke-width="2" fill="none" opacity="0.85" filter="url(#bl05)"/>
<path d="M570,219 L594,193 L608,173 L616,158" stroke="#30e0e8" stroke-width="2" fill="none" opacity="0.85" filter="url(#bl05)"/>
<mask id="mf2" maskUnits="userSpaceOnUse" x="0" y="0" width="740" height="704"><g filter="url(#bl4)"><path fill="rgb(255,255,255)" fill-opacity="0.37" d="M582 72h6v6h-6zM588 72h6v6h-6zM594 72h6v6h-6zM600 72h6v6h-6zM606 72h6v6h-6zM612 72h6v6h-6zM618 72h6v6h-6zM624 72h6v6h-6zM630 72h6v6h-6zM576 78h6v6h-6zM582 78h6v6h-6zM588 78h6v6h-6zM594 78h6v6h-6zM600 78h6v6h-6zM606 78h6v6h-6zM612 78h6v6h-6zM618 78h6v6h-6zM624 78h6v6h-6zM630 78h6v6h-6zM636 78h6v6h-6zM564 84h6v6h-6zM570 84h6v6h-6zM576 84h6v6h-6zM582 84h6v6h-6zM630 84h6v6h-6zM636 84h6v6h-6zM642 84h6v6h-6zM558 90h6v6h-6zM564 90h6v6h-6zM570 90h6v6h-6zM642 90h6v6h-6zM648 90h6v6h-6zM654 90h6v6h-6zM558 96h6v6h-6zM648 96h6v6h-6zM654 96h6v6h-6zM552 102h6v6h-6zM654 102h6v6h-6zM660 102h6v6h-6zM540 108h6v6h-6zM546 108h6v6h-6zM552 108h6v6h-6zM654 108h6v6h-6zM660 108h6v6h-6zM540 114h6v6h-6zM546 114h6v6h-6zM660 114h6v6h-6zM534 120h6v6h-6zM540 120h6v6h-6zM660 120h6v6h-6zM528 126h6v6h-6zM534 126h6v6h-6zM660 126h6v6h-6zM522 132h6v6h-6zM528 132h6v6h-6zM534 132h6v6h-6zM660 132h6v6h-6zM522 138h6v6h-6zM528 138h6v6h-6zM660 138h6v6h-6zM516 144h6v6h-6zM522 144h6v6h-6zM654 144h6v6h-6zM660 144h6v6h-6zM516 150h6v6h-6zM522 150h6v6h-6zM654 150h6v6h-6zM660 150h6v6h-6zM516 156h6v6h-6zM648 156h6v6h-6zM654 156h6v6h-6zM660 156h6v6h-6zM516 162h6v6h-6zM522 162h6v6h-6zM648 162h6v6h-6zM654 162h6v6h-6zM516 168h6v6h-6zM522 168h6v6h-6zM528 168h6v6h-6zM534 168h6v6h-6zM642 168h6v6h-6zM648 168h6v6h-6zM540 174h6v6h-6zM546 174h6v6h-6zM552 174h6v6h-6zM558 174h6v6h-6zM564 174h6v6h-6zM570 174h6v6h-6zM642 174h6v6h-6zM576 180h6v6h-6zM636 180h6v6h-6zM642 180h6v6h-6zM576 186h6v6h-6zM636 186h6v6h-6zM642 186h6v6h-6zM576 192h6v6h-6zM582 192h6v6h-6zM630 192h6v6h-6zM636 192h6v6h-6zM576 198h6v6h-6zM582 198h6v6h-6zM630 198h6v6h-6zM636 198h6v6h-6zM582 204h6v6h-6zM588 204h6v6h-6zM624 204h6v6h-6zM630 204h6v6h-6zM636 204h6v6h-6zM588 210h6v6h-6zM594 210h6v6h-6zM618 210h6v6h-6zM624 210h6v6h-6zM594 216h6v6h-6zM600 216h6v6h-6zM612 216h6v6h-6zM618 216h6v6h-6zM600 222h6v6h-6zM606 222h6v6h-6zM612 222h6v6h-6zM618 222h6v6h-6zM606 228h6v6h-6zM612 228h6v6h-6z"/><path fill="rgb(255,255,255)" fill-opacity="0.53" d="M588 84h6v6h-6zM594 84h6v6h-6zM600 84h6v6h-6zM606 84h6v6h-6zM612 84h6v6h-6zM618 84h6v6h-6zM624 84h6v6h-6zM576 90h6v6h-6zM582 90h6v6h-6zM588 90h6v6h-6zM594 90h6v6h-6zM612 90h6v6h-6zM618 90h6v6h-6zM624 90h6v6h-6zM630 90h6v6h-6zM636 90h6v6h-6zM564 96h6v6h-6zM570 96h6v6h-6zM576 96h6v6h-6zM630 96h6v6h-6zM636 96h6v6h-6zM642 96h6v6h-6zM558 102h6v6h-6zM564 102h6v6h-6zM636 102h6v6h-6zM642 102h6v6h-6zM648 102h6v6h-6zM558 108h6v6h-6zM642 108h6v6h-6zM648 108h6v6h-6zM552 114h6v6h-6zM648 114h6v6h-6zM654 114h6v6h-6zM546 120h6v6h-6zM552 120h6v6h-6zM648 120h6v6h-6zM654 120h6v6h-6zM540 126h6v6h-6zM546 126h6v6h-6zM648 126h6v6h-6zM654 126h6v6h-6zM540 132h6v6h-6zM648 132h6v6h-6zM654 132h6v6h-6zM534 138h6v6h-6zM540 138h6v6h-6zM648 138h6v6h-6zM654 138h6v6h-6zM528 144h6v6h-6zM534 144h6v6h-6zM642 144h6v6h-6zM648 144h6v6h-6zM528 150h6v6h-6zM642 150h6v6h-6zM648 150h6v6h-6zM522 156h6v6h-6zM636 156h6v6h-6zM642 156h6v6h-6zM528 162h6v6h-6zM534 162h6v6h-6zM636 162h6v6h-6zM642 162h6v6h-6zM540 168h6v6h-6zM546 168h6v6h-6zM552 168h6v6h-6zM558 168h6v6h-6zM564 168h6v6h-6zM570 168h6v6h-6zM630 168h6v6h-6zM636 168h6v6h-6zM576 174h6v6h-6zM630 174h6v6h-6zM636 174h6v6h-6zM582 180h6v6h-6zM630 180h6v6h-6zM582 186h6v6h-6zM624 186h6v6h-6zM630 186h6v6h-6zM588 192h6v6h-6zM624 192h6v6h-6zM588 198h6v6h-6zM594 198h6v6h-6zM624 198h6v6h-6zM594 204h6v6h-6zM600 204h6v6h-6zM618 204h6v6h-6zM600 210h6v6h-6zM606 210h6v6h-6zM612 210h6v6h-6zM606 216h6v6h-6z"/><path fill="rgb(255,255,255)" fill-opacity="0.70" d="M600 90h6v6h-6zM606 90h6v6h-6zM582 96h6v6h-6zM588 96h6v6h-6zM594 96h6v6h-6zM600 96h6v6h-6zM606 96h6v6h-6zM612 96h6v6h-6zM618 96h6v6h-6zM624 96h6v6h-6zM570 102h6v6h-6zM576 102h6v6h-6zM582 102h6v6h-6zM588 102h6v6h-6zM612 102h6v6h-6zM618 102h6v6h-6zM624 102h6v6h-6zM630 102h6v6h-6zM564 108h6v6h-6zM570 108h6v6h-6zM624 108h6v6h-6zM630 108h6v6h-6zM636 108h6v6h-6zM558 114h6v6h-6zM630 114h6v6h-6zM636 114h6v6h-6zM642 114h6v6h-6zM558 120h6v6h-6zM630 120h6v6h-6zM636 120h6v6h-6zM642 120h6v6h-6zM552 126h6v6h-6zM630 126h6v6h-6zM636 126h6v6h-6zM642 126h6v6h-6zM546 132h6v6h-6zM552 132h6v6h-6zM630 132h6v6h-6zM636 132h6v6h-6zM642 132h6v6h-6zM546 138h6v6h-6zM630 138h6v6h-6zM636 138h6v6h-6zM642 138h6v6h-6zM540 144h6v6h-6zM546 144h6v6h-6zM630 144h6v6h-6zM636 144h6v6h-6zM534 150h6v6h-6zM540 150h6v6h-6zM630 150h6v6h-6zM636 150h6v6h-6zM528 156h6v6h-6zM534 156h6v6h-6zM540 156h6v6h-6zM630 156h6v6h-6zM540 162h6v6h-6zM546 162h6v6h-6zM552 162h6v6h-6zM558 162h6v6h-6zM564 162h6v6h-6zM624 162h6v6h-6zM630 162h6v6h-6zM576 168h6v6h-6zM624 168h6v6h-6zM582 174h6v6h-6zM624 174h6v6h-6zM588 180h6v6h-6zM618 180h6v6h-6zM624 180h6v6h-6zM588 186h6v6h-6zM594 186h6v6h-6zM618 186h6v6h-6zM594 192h6v6h-6zM600 192h6v6h-6zM618 192h6v6h-6zM600 198h6v6h-6zM612 198h6v6h-6zM618 198h6v6h-6zM606 204h6v6h-6zM612 204h6v6h-6z"/><path fill="rgb(255,255,255)" fill-opacity="0.87" d="M594 102h6v6h-6zM600 102h6v6h-6zM606 102h6v6h-6zM576 108h6v6h-6zM582 108h6v6h-6zM588 108h6v6h-6zM594 108h6v6h-6zM600 108h6v6h-6zM606 108h6v6h-6zM612 108h6v6h-6zM618 108h6v6h-6zM564 114h6v6h-6zM570 114h6v6h-6zM576 114h6v6h-6zM582 114h6v6h-6zM588 114h6v6h-6zM594 114h6v6h-6zM600 114h6v6h-6zM606 114h6v6h-6zM612 114h6v6h-6zM618 114h6v6h-6zM624 114h6v6h-6zM564 120h6v6h-6zM612 120h6v6h-6zM618 120h6v6h-6zM624 120h6v6h-6zM558 126h6v6h-6zM612 126h6v6h-6zM618 126h6v6h-6zM624 126h6v6h-6zM558 132h6v6h-6zM612 132h6v6h-6zM618 132h6v6h-6zM624 132h6v6h-6zM552 138h6v6h-6zM558 138h6v6h-6zM612 138h6v6h-6zM618 138h6v6h-6zM624 138h6v6h-6zM552 144h6v6h-6zM558 144h6v6h-6zM618 144h6v6h-6zM624 144h6v6h-6zM546 150h6v6h-6zM552 150h6v6h-6zM558 150h6v6h-6zM618 150h6v6h-6zM624 150h6v6h-6zM546 156h6v6h-6zM552 156h6v6h-6zM558 156h6v6h-6zM564 156h6v6h-6zM624 156h6v6h-6zM570 162h6v6h-6zM576 162h6v6h-6zM582 162h6v6h-6zM618 162h6v6h-6zM582 168h6v6h-6zM588 168h6v6h-6zM618 168h6v6h-6zM588 174h6v6h-6zM594 174h6v6h-6zM618 174h6v6h-6zM594 180h6v6h-6zM600 180h6v6h-6zM612 180h6v6h-6zM600 186h6v6h-6zM606 186h6v6h-6zM612 186h6v6h-6zM606 192h6v6h-6zM612 192h6v6h-6zM606 198h6v6h-6z"/><path fill="rgb(255,255,255)" fill-opacity="1.00" d="M570 120h6v6h-6zM576 120h6v6h-6zM582 120h6v6h-6zM588 120h6v6h-6zM594 120h6v6h-6zM600 120h6v6h-6zM606 120h6v6h-6zM564 126h6v6h-6zM570 126h6v6h-6zM576 126h6v6h-6zM582 126h6v6h-6zM588 126h6v6h-6zM594 126h6v6h-6zM600 126h6v6h-6zM606 126h6v6h-6zM564 132h6v6h-6zM570 132h6v6h-6zM576 132h6v6h-6zM582 132h6v6h-6zM588 132h6v6h-6zM594 132h6v6h-6zM600 132h6v6h-6zM606 132h6v6h-6zM564 138h6v6h-6zM570 138h6v6h-6zM576 138h6v6h-6zM582 138h6v6h-6zM588 138h6v6h-6zM594 138h6v6h-6zM600 138h6v6h-6zM606 138h6v6h-6zM564 144h6v6h-6zM570 144h6v6h-6zM576 144h6v6h-6zM582 144h6v6h-6zM588 144h6v6h-6zM594 144h6v6h-6zM600 144h6v6h-6zM606 144h6v6h-6zM612 144h6v6h-6zM564 150h6v6h-6zM570 150h6v6h-6zM576 150h6v6h-6zM582 150h6v6h-6zM588 150h6v6h-6zM594 150h6v6h-6zM612 150h6v6h-6zM570 156h6v6h-6zM576 156h6v6h-6zM582 156h6v6h-6zM588 156h6v6h-6zM594 156h6v6h-6zM618 156h6v6h-6zM588 162h6v6h-6zM594 162h6v6h-6zM612 162h6v6h-6zM594 168h6v6h-6zM600 168h6v6h-6zM612 168h6v6h-6zM600 174h6v6h-6zM606 174h6v6h-6zM612 174h6v6h-6zM606 180h6v6h-6z"/><path fill="rgb(255,255,255)" fill-opacity="1.00" d="M600 150h6v6h-6zM606 150h6v6h-6zM600 156h6v6h-6zM606 156h6v6h-6zM612 156h6v6h-6zM600 162h6v6h-6zM606 162h6v6h-6zM606 168h6v6h-6z"/></g></mask>
<polygon points="527.0,174.0 531.0,162.0 537.0,152.0 540.0,140.0 546.0,136.0 549.0,120.0 555.0,106.0 561.9,99.0 574.7,92.6 583.2,86.9 594.5,82.0 605.0,74.0 621.3,64.0 642.6,62.6 660.0,66.0 671.0,74.0 676.7,84.0 679.5,98.0 683.0,112.0 676.0,124.0 668.0,133.0 661.0,145.0 655.0,155.0 649.0,167.0 643.0,179.0 637.0,190.0 632.0,200.0 626.4,207.8 619.9,215.4 615.5,222.0 614.5,229.0 609.0,228.4 609.0,210.0 596.0,209.0 587.4,213.2 577.7,220.8 570.1,219.2 573.9,205.7 575.5,191.6 577.7,176.5 578.8,172.0 578.4,162.0 570.0,155.0 560.0,154.0 548.0,161.0 536.8,169.0" fill="url(#bsp)" mask="url(#mf2)"/>
</g>
<rect x="425.5" y="1.5" width="312.9" height="322.7" fill="none" stroke="#7c7c7c" stroke-width="1.25"/>
<text x="420.5" y="298.5" text-anchor="end" class="t">0. 6</text>
<text x="420.5" y="269.1" text-anchor="end" class="t">0. 8</text>
<text x="420.5" y="239.8" text-anchor="end" class="t">1. 0</text>
<text x="420.5" y="210.5" text-anchor="end" class="t">1. 2</text>
<text x="420.5" y="181.1" text-anchor="end" class="t">1. 4</text>
<text x="420.5" y="151.8" text-anchor="end" class="t">1. 6</text>
<text x="420.5" y="122.4" text-anchor="end" class="t">1. 8</text>
<text x="420.5" y="93.1" text-anchor="end" class="t">2. 0</text>
<text x="420.5" y="63.8" text-anchor="end" class="t">2. 2</text>
<text x="420.5" y="34.4" text-anchor="end" class="t">2. 4</text>
<text x="455.4" y="338.9" text-anchor="middle" class="t">0. 6</text>
<text x="483.9" y="338.9" text-anchor="middle" class="t">0. 8</text>
<text x="512.3" y="338.9" text-anchor="middle" class="t">1. 0</text>
<text x="540.8" y="338.9" text-anchor="middle" class="t">1. 2</text>
<text x="569.2" y="338.9" text-anchor="middle" class="t">1. 4</text>
<text x="597.7" y="338.9" text-anchor="middle" class="t">1. 6</text>
<text x="626.1" y="338.9" text-anchor="middle" class="t">1. 8</text>
<text x="654.6" y="338.9" text-anchor="middle" class="t">2. 0</text>
<text x="683.0" y="338.9" text-anchor="middle" class="t">2. 2</text>
<text x="711.5" y="338.9" text-anchor="middle" class="t">2. 4</text>
<text x="410.5" y="338.2" class="t">( Å)</text>
<text x="430.0" y="23.0" class="ax">d<tspan class="sub" dy="3">e</tspan></text>
<text x="734.4" y="317.4" class="ax" text-anchor="end">d<tspan class="sub" dy="2">i</tspan></text>
<text x="433.5" y="315.7" class="lab">O–H –42.9 %</text>
<path d="M55.9 362.8V686.1M27.5 656.7H340.1M84.3 362.8V686.1M27.5 627.3H340.1M112.8 362.8V686.1M27.5 597.9H340.1M141.2 362.8V686.1M27.5 568.5H340.1M169.6 362.8V686.1M27.5 539.1H340.1M198.0 362.8V686.1M27.5 509.8H340.1M226.4 362.8V686.1M27.5 480.4H340.1M254.8 362.8V686.1M27.5 451.0H340.1M283.3 362.8V686.1M27.5 421.6H340.1M311.7 362.8V686.1M27.5 392.2H340.1" stroke="#ebebeb" stroke-width="1" fill="none"/>
<polygon points="137.3,594.6 134.2,593.9 133.9,576.0 115.9,573.5 115.5,553.5 116.6,538.8 119.3,532.8 119.3,495.0 120.1,490.9 126.5,483.2 131.6,474.2 140.6,469.1 147.0,457.5 150.8,449.7 158.5,444.6 162.3,438.1 168.7,426.6 172.6,420.1 181.5,417.5 187.9,413.0 193.0,407.2 198.1,402.1 205.4,400.0 220.7,400.0 229.2,397.3 236.9,396.5 245.5,390.5 255.7,384.6 264.1,379.3 274.3,372.5 284.6,374.2 291.4,369.0 299.8,363.5 330.6,363.5 332.3,370.8 332.3,377.6 325.5,386.3 323.8,394.7 318.7,403.4 315.2,411.8 315.2,420.6 318.7,432.6 320.4,449.7 315.2,456.6 317.0,465.5 311.8,478.3 303.3,493.8 299.8,499.0 291.4,509.2 288.0,517.8 286.3,528.2 276.0,535.0 269.2,545.3 257.4,550.4 247.2,555.6 239.9,558.7 233.9,561.9 229.4,569.0 225.9,575.0 222.9,581.1 218.9,587.1 216.4,590.5 199.9,590.6 162.9,590.1 161.2,593.1 149.9,594.4" fill="url(#g32)" />
<polygon points="289.8,378.6 299.8,365.5 330.8,365.5 331.8,377.6 324.8,386.7 319.8,400.8 314.8,415.9 304.8,410.8 297.8,395.7" fill="url(#g40)" />
<polygon points="134.4,589.1 133.9,575.5 124.9,574.5 117.9,567.0 117.9,539.8 120.9,531.7 120.9,495.4 122.9,490.4 127.9,484.4 132.9,476.3 141.9,470.3 148.4,458.2 151.9,451.1 159.9,446.1 163.9,439.0 169.9,428.0 173.9,421.9 182.9,418.9 189.9,416.9 197.9,414.9 207.9,413.9 221.9,410.8 231.9,404.8 241.9,398.8 251.9,393.7 261.9,388.7 271.8,383.6 281.8,379.6 291.8,374.6 297.8,382.6 295.8,405.8 291.8,420.9 291.8,441.1 291.8,461.2 289.8,481.3 284.8,496.5 279.8,511.6 274.8,523.6 265.8,533.7 255.9,542.8 243.9,549.8 233.9,556.9 225.9,565.9 219.9,576.0 213.9,584.1 205.9,587.1 165.9,586.1 149.9,590.1 137.9,590.1" fill="url(#g75)" />
<polygon points="133.9,574.0 120.9,572.0 119.9,541.8 123.9,535.7 129.9,531.7 136.9,501.5 135.9,489.4 131.9,481.3 141.9,472.3 148.9,460.2 152.9,453.1 160.9,447.1 165.9,440.0 171.9,429.0 175.9,423.9 185.9,422.9 195.9,423.9 205.9,424.9 217.9,423.9 227.9,418.9 237.9,412.9 249.9,408.8 261.9,406.8 271.8,408.8 277.8,416.9 281.8,424.9 283.8,441.1 283.8,461.2 279.8,479.3 275.8,493.4 274.8,509.5 266.8,526.7 252.9,541.8 234.9,555.9 225.9,565.9 220.9,577.0 215.9,586.1 199.9,584.1 169.9,584.1 159.9,586.1 139.9,588.1" fill="#bdbdbd" />
<polygon points="116.9,537.7 127.9,533.7 136.9,529.7 146.9,526.7 156.9,523.6 165.9,522.1 173.9,527.7 178.4,539.8 177.4,559.9 171.9,572.0 165.9,578.0 161.9,588.1 134.2,590.1 132.9,575.0 115.9,572.0" fill="#fff" />
<polygon points="116.9,537.7 127.9,533.7 136.9,529.7 146.9,526.7 156.9,523.6 165.9,522.1 173.9,527.7 178.4,539.8 177.4,559.9 171.9,572.0 165.9,578.0 161.9,588.1 134.2,590.1 132.9,575.0 115.9,572.0" fill="url(#g78)" />
<polygon points="171.2,581.6 182.5,575.9 196.7,571.6 210.9,573.0 212.3,576.0 210.9,589.1 165.9,589.6" fill="#fff" />
<polygon points="171.2,581.6 182.5,575.9 196.7,571.6 210.9,573.0 212.3,576.0 210.9,589.1 165.9,589.6" fill="url(#g45)" />
<polygon points="119.9,491.4 124.9,486.4 132.9,484.4 137.9,489.4 138.9,501.5 137.9,516.6 135.9,526.7 131.9,533.7 129.9,537.7 119.9,539.8" fill="#fff" />
<polygon points="119.9,491.4 124.9,486.4 132.9,484.4 137.9,489.4 138.9,501.5 137.9,516.6 135.9,526.7 131.9,533.7 129.9,537.7 119.9,539.8" fill="url(#g60)" />
<polygon points="137.3,594.6 134.2,593.9 133.9,576.0 115.9,573.5 115.5,553.5 116.6,538.8 119.3,532.8 119.3,495.0 120.1,490.9 126.5,483.2 131.6,474.2 140.6,469.1 147.0,457.5 150.8,449.7 158.5,444.6 162.3,438.1 168.7,426.6 172.6,420.1 181.5,417.5 187.9,413.0 193.0,407.2 198.1,402.1 205.4,400.0 220.7,400.0 229.2,397.3 236.9,396.5 245.5,390.5 255.7,384.6 264.1,379.3 274.3,372.5 284.6,374.2 291.4,369.0 299.8,363.5 330.6,363.5 332.3,370.8 332.3,377.6 325.5,386.3 323.8,394.7 318.7,403.4 315.2,411.8 315.2,420.6 318.7,432.6 320.4,449.7 315.2,456.6 317.0,465.5 311.8,478.3 303.3,493.8 299.8,499.0 291.4,509.2 288.0,517.8 286.3,528.2 276.0,535.0 269.2,545.3 257.4,550.4 247.2,555.6 239.9,558.7 233.9,561.9 229.4,569.0 225.9,575.0 222.9,581.1 218.9,587.1 216.4,590.5 199.9,590.6 162.9,590.1 161.2,593.1 149.9,594.4" fill="url(#b25)" />
<polygon points="125.0,577.0 118.0,567.0 118.0,540.0 121.0,532.0 121.0,497.0 126.0,492.0 134.0,490.0 140.0,488.0 148.0,484.0 155.0,476.0 160.0,467.0 170.0,452.0 185.0,432.0 190.0,427.0 235.0,425.0 245.0,416.0 255.0,406.0 265.0,398.0 275.0,396.0 285.0,400.0 290.0,412.0 286.0,428.0 282.0,441.0 278.0,461.0 274.0,481.0 270.0,496.0 264.0,512.0 255.0,528.0 242.0,540.0 225.0,548.0 205.0,552.0 185.0,556.0 178.0,566.0 172.0,580.0 165.0,587.0 150.0,590.0 138.0,590.0" fill="url(#b50)" />
<polygon points="264.0,400.0 274.0,393.0 285.0,386.0 296.0,376.0 305.0,368.0 318.0,366.0 328.0,366.0 330.0,372.0 322.0,385.0 316.0,398.0 312.0,412.0 300.0,425.0 290.0,425.0 285.0,410.0 272.0,405.0" fill="url(#b25)" />
<polygon points="116.9,537.7 127.9,533.7 136.9,529.7 146.9,526.7 156.9,523.6 165.9,522.1 173.9,527.7 178.4,539.8 177.4,559.9 171.9,572.0 165.9,578.0 161.9,588.1 134.2,590.1 132.9,575.0 115.9,572.0" fill="#fff" />
<polygon points="116.9,537.7 127.9,533.7 136.9,529.7 146.9,526.7 156.9,523.6 165.9,522.1 173.9,527.7 178.4,539.8 177.4,559.9 171.9,572.0 165.9,578.0 161.9,588.1 134.2,590.1 132.9,575.0 115.9,572.0" fill="url(#b78)" />
<polygon points="119.9,491.4 124.9,486.4 132.9,484.4 137.9,489.4 138.9,501.5 137.9,516.6 135.9,526.7 131.9,533.7 129.9,537.7 119.9,539.8" fill="#fff" />
<polygon points="119.9,491.4 124.9,486.4 132.9,484.4 137.9,489.4 138.9,501.5 137.9,516.6 135.9,526.7 131.9,533.7 129.9,537.7 119.9,539.8" fill="url(#b78)" />
<polygon points="157.0,548.0 156.0,466.0 166.0,450.0 182.0,429.0 188.0,423.0 232.0,422.0 242.0,413.0 252.0,403.0 263.0,394.0 275.0,398.0 278.0,420.0 278.0,440.0 276.0,460.0 273.0,478.0 271.0,494.0 267.0,511.0 260.0,528.0 249.0,542.0 232.0,549.0 208.0,551.0 186.0,552.0 163.0,550.0" fill="url(#b75)" />
<polygon points="160.0,542.0 160.0,467.0 170.0,452.0 185.0,432.0 190.0,427.0 235.0,427.0 245.0,418.0 255.0,408.0 265.0,400.0 272.0,405.0 272.0,425.0 272.0,440.0 270.0,458.0 268.0,475.0 266.0,492.0 262.0,508.0 255.0,525.0 245.0,538.0 230.0,544.0 208.0,546.0 186.0,547.0 165.0,545.0" fill="#1b34fc" />
<g clip-path="url(#clipP3)"><g filter="url(#bl4)"><path fill="rgb(30,135,250)" fill-opacity="0.20" d="M196 432h6v6h-6zM202 432h6v6h-6zM208 432h6v6h-6zM190 438h6v6h-6zM196 438h6v6h-6zM202 438h6v6h-6zM208 438h6v6h-6zM214 438h6v6h-6zM172 444h6v6h-6zM178 444h6v6h-6zM184 444h6v6h-6zM190 444h6v6h-6zM196 444h6v6h-6zM202 444h6v6h-6zM208 444h6v6h-6zM214 444h6v6h-6zM220 444h6v6h-6zM166 450h6v6h-6zM172 450h6v6h-6zM178 450h6v6h-6zM184 450h6v6h-6zM214 450h6v6h-6zM220 450h6v6h-6zM226 450h6v6h-6zM160 456h6v6h-6zM166 456h6v6h-6zM172 456h6v6h-6zM178 456h6v6h-6zM220 456h6v6h-6zM226 456h6v6h-6zM232 456h6v6h-6zM160 462h6v6h-6zM166 462h6v6h-6zM226 462h6v6h-6zM232 462h6v6h-6zM238 462h6v6h-6zM154 468h6v6h-6zM160 468h6v6h-6zM226 468h6v6h-6zM232 468h6v6h-6zM238 468h6v6h-6zM154 474h6v6h-6zM160 474h6v6h-6zM226 474h6v6h-6zM232 474h6v6h-6zM238 474h6v6h-6zM244 474h6v6h-6zM154 480h6v6h-6zM232 480h6v6h-6zM238 480h6v6h-6zM244 480h6v6h-6zM154 486h6v6h-6zM232 486h6v6h-6zM238 486h6v6h-6zM244 486h6v6h-6zM154 492h6v6h-6zM238 492h6v6h-6zM244 492h6v6h-6zM154 498h6v6h-6zM238 498h6v6h-6zM244 498h6v6h-6zM154 504h6v6h-6zM232 504h6v6h-6zM238 504h6v6h-6zM244 504h6v6h-6zM154 510h6v6h-6zM232 510h6v6h-6zM238 510h6v6h-6zM154 516h6v6h-6zM232 516h6v6h-6zM238 516h6v6h-6zM154 522h6v6h-6zM226 522h6v6h-6zM232 522h6v6h-6zM238 522h6v6h-6zM154 528h6v6h-6zM226 528h6v6h-6zM232 528h6v6h-6zM154 534h6v6h-6zM160 534h6v6h-6zM220 534h6v6h-6zM226 534h6v6h-6zM154 540h6v6h-6zM160 540h6v6h-6zM214 540h6v6h-6zM220 540h6v6h-6zM160 546h6v6h-6zM166 546h6v6h-6zM172 546h6v6h-6zM178 546h6v6h-6zM196 546h6v6h-6zM202 546h6v6h-6zM208 546h6v6h-6zM214 546h6v6h-6zM220 546h6v6h-6zM172 552h6v6h-6zM178 552h6v6h-6zM184 552h6v6h-6zM190 552h6v6h-6zM196 552h6v6h-6zM202 552h6v6h-6z"/><path fill="rgb(30,135,250)" fill-opacity="0.40" d="M190 450h6v6h-6zM196 450h6v6h-6zM202 450h6v6h-6zM208 450h6v6h-6zM184 456h6v6h-6zM190 456h6v6h-6zM196 456h6v6h-6zM202 456h6v6h-6zM208 456h6v6h-6zM214 456h6v6h-6zM172 462h6v6h-6zM178 462h6v6h-6zM184 462h6v6h-6zM190 462h6v6h-6zM196 462h6v6h-6zM202 462h6v6h-6zM208 462h6v6h-6zM214 462h6v6h-6zM220 462h6v6h-6zM166 468h6v6h-6zM172 468h6v6h-6zM208 468h6v6h-6zM214 468h6v6h-6zM220 468h6v6h-6zM166 474h6v6h-6zM214 474h6v6h-6zM220 474h6v6h-6zM160 480h6v6h-6zM166 480h6v6h-6zM220 480h6v6h-6zM226 480h6v6h-6zM160 486h6v6h-6zM220 486h6v6h-6zM226 486h6v6h-6zM160 492h6v6h-6zM226 492h6v6h-6zM232 492h6v6h-6zM160 498h6v6h-6zM226 498h6v6h-6zM232 498h6v6h-6zM160 504h6v6h-6zM226 504h6v6h-6zM160 510h6v6h-6zM220 510h6v6h-6zM226 510h6v6h-6zM160 516h6v6h-6zM220 516h6v6h-6zM226 516h6v6h-6zM160 522h6v6h-6zM214 522h6v6h-6zM220 522h6v6h-6zM160 528h6v6h-6zM166 528h6v6h-6zM214 528h6v6h-6zM220 528h6v6h-6zM166 534h6v6h-6zM172 534h6v6h-6zM202 534h6v6h-6zM208 534h6v6h-6zM214 534h6v6h-6zM166 540h6v6h-6zM172 540h6v6h-6zM178 540h6v6h-6zM184 540h6v6h-6zM190 540h6v6h-6zM196 540h6v6h-6zM202 540h6v6h-6zM208 540h6v6h-6zM184 546h6v6h-6zM190 546h6v6h-6z"/><path fill="rgb(30,135,250)" fill-opacity="0.60" d="M178 468h6v6h-6zM184 468h6v6h-6zM190 468h6v6h-6zM196 468h6v6h-6zM202 468h6v6h-6zM172 474h6v6h-6zM178 474h6v6h-6zM184 474h6v6h-6zM196 474h6v6h-6zM202 474h6v6h-6zM208 474h6v6h-6zM172 480h6v6h-6zM178 480h6v6h-6zM202 480h6v6h-6zM208 480h6v6h-6zM214 480h6v6h-6zM166 486h6v6h-6zM172 486h6v6h-6zM208 486h6v6h-6zM214 486h6v6h-6zM166 492h6v6h-6zM172 492h6v6h-6zM214 492h6v6h-6zM220 492h6v6h-6zM166 498h6v6h-6zM172 498h6v6h-6zM214 498h6v6h-6zM220 498h6v6h-6zM166 504h6v6h-6zM172 504h6v6h-6zM214 504h6v6h-6zM220 504h6v6h-6zM166 510h6v6h-6zM172 510h6v6h-6zM214 510h6v6h-6zM166 516h6v6h-6zM172 516h6v6h-6zM208 516h6v6h-6zM214 516h6v6h-6zM166 522h6v6h-6zM172 522h6v6h-6zM178 522h6v6h-6zM196 522h6v6h-6zM202 522h6v6h-6zM208 522h6v6h-6zM172 528h6v6h-6zM178 528h6v6h-6zM184 528h6v6h-6zM190 528h6v6h-6zM196 528h6v6h-6zM202 528h6v6h-6zM208 528h6v6h-6zM178 534h6v6h-6zM184 534h6v6h-6zM190 534h6v6h-6zM196 534h6v6h-6z"/><path fill="rgb(30,135,250)" fill-opacity="0.80" d="M190 474h6v6h-6zM184 480h6v6h-6zM190 480h6v6h-6zM196 480h6v6h-6zM178 486h6v6h-6zM184 486h6v6h-6zM190 486h6v6h-6zM196 486h6v6h-6zM202 486h6v6h-6zM178 492h6v6h-6zM184 492h6v6h-6zM196 492h6v6h-6zM202 492h6v6h-6zM208 492h6v6h-6zM178 498h6v6h-6zM202 498h6v6h-6zM208 498h6v6h-6zM178 504h6v6h-6zM184 504h6v6h-6zM196 504h6v6h-6zM202 504h6v6h-6zM208 504h6v6h-6zM178 510h6v6h-6zM184 510h6v6h-6zM190 510h6v6h-6zM196 510h6v6h-6zM202 510h6v6h-6zM208 510h6v6h-6zM178 516h6v6h-6zM184 516h6v6h-6zM190 516h6v6h-6zM196 516h6v6h-6zM202 516h6v6h-6zM184 522h6v6h-6zM190 522h6v6h-6z"/><path fill="rgb(30,135,250)" fill-opacity="1.00" d="M190 492h6v6h-6zM184 498h6v6h-6zM190 498h6v6h-6zM196 498h6v6h-6zM190 504h6v6h-6z"/></g>
<mask id="mf3" maskUnits="userSpaceOnUse" x="0" y="0" width="740" height="704"><g filter="url(#bl4)"><path fill="rgb(255,255,255)" fill-opacity="0.37" d="M196 432h6v6h-6zM202 432h6v6h-6zM208 432h6v6h-6zM190 438h6v6h-6zM196 438h6v6h-6zM202 438h6v6h-6zM208 438h6v6h-6zM214 438h6v6h-6zM172 444h6v6h-6zM178 444h6v6h-6zM184 444h6v6h-6zM190 444h6v6h-6zM196 444h6v6h-6zM202 444h6v6h-6zM208 444h6v6h-6zM214 444h6v6h-6zM220 444h6v6h-6zM166 450h6v6h-6zM172 450h6v6h-6zM178 450h6v6h-6zM184 450h6v6h-6zM214 450h6v6h-6zM220 450h6v6h-6zM226 450h6v6h-6zM160 456h6v6h-6zM166 456h6v6h-6zM172 456h6v6h-6zM178 456h6v6h-6zM220 456h6v6h-6zM226 456h6v6h-6zM232 456h6v6h-6zM160 462h6v6h-6zM166 462h6v6h-6zM226 462h6v6h-6zM232 462h6v6h-6zM238 462h6v6h-6zM154 468h6v6h-6zM160 468h6v6h-6zM226 468h6v6h-6zM232 468h6v6h-6zM238 468h6v6h-6zM154 474h6v6h-6zM160 474h6v6h-6zM226 474h6v6h-6zM232 474h6v6h-6zM238 474h6v6h-6zM244 474h6v6h-6zM154 480h6v6h-6zM232 480h6v6h-6zM238 480h6v6h-6zM244 480h6v6h-6zM154 486h6v6h-6zM232 486h6v6h-6zM238 486h6v6h-6zM244 486h6v6h-6zM154 492h6v6h-6zM238 492h6v6h-6zM244 492h6v6h-6zM154 498h6v6h-6zM238 498h6v6h-6zM244 498h6v6h-6zM154 504h6v6h-6zM232 504h6v6h-6zM238 504h6v6h-6zM244 504h6v6h-6zM154 510h6v6h-6zM232 510h6v6h-6zM238 510h6v6h-6zM154 516h6v6h-6zM232 516h6v6h-6zM238 516h6v6h-6zM154 522h6v6h-6zM226 522h6v6h-6zM232 522h6v6h-6zM238 522h6v6h-6zM154 528h6v6h-6zM226 528h6v6h-6zM232 528h6v6h-6zM154 534h6v6h-6zM160 534h6v6h-6zM220 534h6v6h-6zM226 534h6v6h-6zM154 540h6v6h-6zM160 540h6v6h-6zM214 540h6v6h-6zM220 540h6v6h-6zM160 546h6v6h-6zM166 546h6v6h-6zM172 546h6v6h-6zM178 546h6v6h-6zM196 546h6v6h-6zM202 546h6v6h-6zM208 546h6v6h-6zM214 546h6v6h-6zM220 546h6v6h-6zM172 552h6v6h-6zM178 552h6v6h-6zM184 552h6v6h-6zM190 552h6v6h-6zM196 552h6v6h-6zM202 552h6v6h-6z"/><path fill="rgb(255,255,255)" fill-opacity="0.53" d="M190 450h6v6h-6zM196 450h6v6h-6zM202 450h6v6h-6zM208 450h6v6h-6zM184 456h6v6h-6zM190 456h6v6h-6zM196 456h6v6h-6zM202 456h6v6h-6zM208 456h6v6h-6zM214 456h6v6h-6zM172 462h6v6h-6zM178 462h6v6h-6zM184 462h6v6h-6zM190 462h6v6h-6zM196 462h6v6h-6zM202 462h6v6h-6zM208 462h6v6h-6zM214 462h6v6h-6zM220 462h6v6h-6zM166 468h6v6h-6zM172 468h6v6h-6zM208 468h6v6h-6zM214 468h6v6h-6zM220 468h6v6h-6zM166 474h6v6h-6zM214 474h6v6h-6zM220 474h6v6h-6zM160 480h6v6h-6zM166 480h6v6h-6zM220 480h6v6h-6zM226 480h6v6h-6zM160 486h6v6h-6zM220 486h6v6h-6zM226 486h6v6h-6zM160 492h6v6h-6zM226 492h6v6h-6zM232 492h6v6h-6zM160 498h6v6h-6zM226 498h6v6h-6zM232 498h6v6h-6zM160 504h6v6h-6zM226 504h6v6h-6zM160 510h6v6h-6zM220 510h6v6h-6zM226 510h6v6h-6zM160 516h6v6h-6zM220 516h6v6h-6zM226 516h6v6h-6zM160 522h6v6h-6zM214 522h6v6h-6zM220 522h6v6h-6zM160 528h6v6h-6zM166 528h6v6h-6zM214 528h6v6h-6zM220 528h6v6h-6zM166 534h6v6h-6zM172 534h6v6h-6zM202 534h6v6h-6zM208 534h6v6h-6zM214 534h6v6h-6zM166 540h6v6h-6zM172 540h6v6h-6zM178 540h6v6h-6zM184 540h6v6h-6zM190 540h6v6h-6zM196 540h6v6h-6zM202 540h6v6h-6zM208 540h6v6h-6zM184 546h6v6h-6zM190 546h6v6h-6z"/><path fill="rgb(255,255,255)" fill-opacity="0.70" d="M178 468h6v6h-6zM184 468h6v6h-6zM190 468h6v6h-6zM196 468h6v6h-6zM202 468h6v6h-6zM172 474h6v6h-6zM178 474h6v6h-6zM184 474h6v6h-6zM196 474h6v6h-6zM202 474h6v6h-6zM208 474h6v6h-6zM172 480h6v6h-6zM178 480h6v6h-6zM202 480h6v6h-6zM208 480h6v6h-6zM214 480h6v6h-6zM166 486h6v6h-6zM172 486h6v6h-6zM208 486h6v6h-6zM214 486h6v6h-6zM166 492h6v6h-6zM172 492h6v6h-6zM214 492h6v6h-6zM220 492h6v6h-6zM166 498h6v6h-6zM172 498h6v6h-6zM214 498h6v6h-6zM220 498h6v6h-6zM166 504h6v6h-6zM172 504h6v6h-6zM214 504h6v6h-6zM220 504h6v6h-6zM166 510h6v6h-6zM172 510h6v6h-6zM214 510h6v6h-6zM166 516h6v6h-6zM172 516h6v6h-6zM208 516h6v6h-6zM214 516h6v6h-6zM166 522h6v6h-6zM172 522h6v6h-6zM178 522h6v6h-6zM196 522h6v6h-6zM202 522h6v6h-6zM208 522h6v6h-6zM172 528h6v6h-6zM178 528h6v6h-6zM184 528h6v6h-6zM190 528h6v6h-6zM196 528h6v6h-6zM202 528h6v6h-6zM208 528h6v6h-6zM178 534h6v6h-6zM184 534h6v6h-6zM190 534h6v6h-6zM196 534h6v6h-6z"/><path fill="rgb(255,255,255)" fill-opacity="0.87" d="M190 474h6v6h-6zM184 480h6v6h-6zM190 480h6v6h-6zM196 480h6v6h-6zM178 486h6v6h-6zM184 486h6v6h-6zM190 486h6v6h-6zM196 486h6v6h-6zM202 486h6v6h-6zM178 492h6v6h-6zM184 492h6v6h-6zM196 492h6v6h-6zM202 492h6v6h-6zM208 492h6v6h-6zM178 498h6v6h-6zM202 498h6v6h-6zM208 498h6v6h-6zM178 504h6v6h-6zM184 504h6v6h-6zM196 504h6v6h-6zM202 504h6v6h-6zM208 504h6v6h-6zM178 510h6v6h-6zM184 510h6v6h-6zM190 510h6v6h-6zM196 510h6v6h-6zM202 510h6v6h-6zM208 510h6v6h-6zM178 516h6v6h-6zM184 516h6v6h-6zM190 516h6v6h-6zM196 516h6v6h-6zM202 516h6v6h-6zM184 522h6v6h-6zM190 522h6v6h-6z"/><path fill="rgb(255,255,255)" fill-opacity="1.00" d="M190 492h6v6h-6zM184 498h6v6h-6zM190 498h6v6h-6zM196 498h6v6h-6zM190 504h6v6h-6z"/></g></mask>
<polygon points="160.0,542.0 160.0,467.0 170.0,452.0 185.0,432.0 190.0,427.0 235.0,427.0 245.0,418.0 255.0,408.0 265.0,400.0 272.0,405.0 272.0,425.0 272.0,440.0 270.0,458.0 268.0,475.0 266.0,492.0 262.0,508.0 255.0,525.0 245.0,538.0 230.0,544.0 208.0,546.0 186.0,547.0 165.0,545.0" fill="url(#bsp)" mask="url(#mf3)"/></g>
<rect x="27.5" y="362.8" width="312.6" height="323.3" fill="none" stroke="#7c7c7c" stroke-width="1.25"/>
<text x="22.5" y="660.3" text-anchor="end" class="t">0. 6</text>
<text x="22.5" y="630.9" text-anchor="end" class="t">0. 8</text>
<text x="22.5" y="601.5" text-anchor="end" class="t">1. 0</text>
<text x="22.5" y="572.1" text-anchor="end" class="t">1. 2</text>
<text x="22.5" y="542.7" text-anchor="end" class="t">1. 4</text>
<text x="22.5" y="513.4" text-anchor="end" class="t">1. 6</text>
<text x="22.5" y="484.0" text-anchor="end" class="t">1. 8</text>
<text x="22.5" y="454.6" text-anchor="end" class="t">2. 0</text>
<text x="22.5" y="425.2" text-anchor="end" class="t">2. 2</text>
<text x="22.5" y="395.8" text-anchor="end" class="t">2. 4</text>
<text x="57.4" y="700.8" text-anchor="middle" class="t">0. 6</text>
<text x="85.8" y="700.8" text-anchor="middle" class="t">0. 8</text>
<text x="114.3" y="700.8" text-anchor="middle" class="t">1. 0</text>
<text x="142.7" y="700.8" text-anchor="middle" class="t">1. 2</text>
<text x="171.1" y="700.8" text-anchor="middle" class="t">1. 4</text>
<text x="199.5" y="700.8" text-anchor="middle" class="t">1. 6</text>
<text x="227.9" y="700.8" text-anchor="middle" class="t">1. 8</text>
<text x="256.3" y="700.8" text-anchor="middle" class="t">2. 0</text>
<text x="284.8" y="700.8" text-anchor="middle" class="t">2. 2</text>
<text x="313.2" y="700.8" text-anchor="middle" class="t">2. 4</text>
<text x="12.5" y="700.1" class="t">( Å)</text>
<text x="32.0" y="384.3" class="ax">d<tspan class="sub" dy="3">e</tspan></text>
<text x="336.1" y="679.3" class="ax" text-anchor="end">d<tspan class="sub" dy="2">i</tspan></text>
<text x="35.5" y="677.6" class="lab">H–H –30.3 %</text>
<path d="M454.6 362.4V686.3M426.2 656.9H738.4M483.0 362.4V686.3M426.2 627.4H738.4M511.3 362.4V686.3M426.2 598.0H738.4M539.7 362.4V686.3M426.2 568.5H738.4M568.1 362.4V686.3M426.2 539.1H738.4M596.5 362.4V686.3M426.2 509.6H738.4M624.9 362.4V686.3M426.2 480.2H738.4M653.3 362.4V686.3M426.2 450.7H738.4M681.6 362.4V686.3M426.2 421.3H738.4M710.0 362.4V686.3M426.2 391.8H738.4" stroke="#ebebeb" stroke-width="1" fill="none"/>
<polygon points="535.9,594.7 532.8,594.0 532.5,576.0 514.5,573.5 514.1,553.4 515.2,538.7 517.9,532.7 517.9,494.9 518.7,490.7 525.1,483.0 530.2,474.0 539.2,468.9 545.6,457.2 549.4,449.5 557.0,444.3 560.8,437.9 567.2,426.3 571.1,419.8 580.0,417.2 586.4,412.6 591.5,406.9 596.6,401.8 603.9,399.6 619.1,399.6 627.6,397.0 635.3,396.2 643.9,390.1 654.1,384.2 662.5,378.9 672.7,372.1 683.0,373.8 689.8,368.7 698.2,363.1 728.9,363.1 730.6,370.4 730.6,377.2 723.8,385.9 722.1,394.4 717.0,403.1 713.5,411.5 713.5,420.3 717.0,432.3 718.7,449.5 713.5,456.3 715.3,465.3 710.2,478.1 701.7,493.7 698.2,498.8 689.8,509.1 686.4,517.7 684.7,528.1 674.4,534.9 667.6,545.2 655.8,550.4 645.6,555.5 638.3,558.7 632.3,561.9 627.8,568.9 624.3,575.0 621.3,581.1 617.3,587.1 614.8,590.5 598.4,590.6 561.4,590.1 559.7,593.2 548.5,594.5" fill="url(#g32)" />
<polygon points="688.2,378.2 698.2,365.1 729.1,365.1 730.1,377.2 723.1,386.3 718.1,400.4 713.1,415.6 703.2,410.5 696.2,395.4" fill="url(#g40)" />
<polygon points="533.0,589.1 532.5,575.5 523.5,574.5 516.5,566.9 516.5,539.7 519.5,531.6 519.5,495.3 521.5,490.2 526.5,484.2 531.5,476.1 540.5,470.1 547.0,458.0 550.5,450.9 558.4,445.8 562.4,438.8 568.4,427.7 572.4,421.6 581.4,418.6 588.4,416.6 596.4,414.6 606.4,413.6 620.3,410.5 630.3,404.5 640.3,398.4 650.3,393.4 660.3,388.3 670.2,383.3 680.2,379.3 690.2,374.2 696.2,382.3 694.2,405.5 690.2,420.6 690.2,440.8 690.2,461.0 688.2,481.2 683.2,496.3 678.2,511.4 673.2,523.5 664.2,533.6 654.3,542.7 642.3,549.8 632.3,556.8 624.3,565.9 618.3,576.0 612.3,584.1 604.4,587.1 564.4,586.1 548.5,590.1 536.5,590.1" fill="url(#g75)" />
<polygon points="532.5,574.0 519.5,572.0 518.5,541.7 522.5,535.7 528.5,531.6 535.5,501.3 534.5,489.2 530.5,481.2 540.5,472.1 547.5,460.0 551.5,452.9 559.4,446.9 564.4,439.8 570.4,428.7 574.4,423.6 584.4,422.6 594.4,423.6 604.4,424.7 616.3,423.6 626.3,418.6 636.3,412.5 648.3,408.5 660.3,406.5 670.2,408.5 676.2,416.6 680.2,424.7 682.2,440.8 682.2,461.0 678.2,479.1 674.2,493.3 673.2,509.4 665.2,526.6 651.3,541.7 633.3,555.8 624.3,565.9 619.3,577.0 614.3,586.1 598.4,584.1 568.4,584.1 558.4,586.1 538.5,588.1" fill="#bdbdbd" />
<polygon points="515.5,537.7 526.5,533.6 535.5,529.6 545.5,526.6 555.5,523.5 564.4,522.0 572.4,527.6 576.9,539.7 575.9,559.9 570.4,572.0 564.4,578.0 560.4,588.1 532.8,590.1 531.5,575.0 514.5,572.0" fill="#fff" />
<polygon points="515.5,537.7 526.5,533.6 535.5,529.6 545.5,526.6 555.5,523.5 564.4,522.0 572.4,527.6 576.9,539.7 575.9,559.9 570.4,572.0 564.4,578.0 560.4,588.1 532.8,590.1 531.5,575.0 514.5,572.0" fill="url(#g78)" />
<polygon points="569.7,581.6 581.0,575.9 595.2,571.6 609.3,573.0 610.7,576.0 609.3,589.1 564.4,589.6" fill="#fff" />
<polygon points="569.7,581.6 581.0,575.9 595.2,571.6 609.3,573.0 610.7,576.0 609.3,589.1 564.4,589.6" fill="url(#g45)" />
<polygon points="518.5,491.3 523.5,486.2 531.5,484.2 536.5,489.2 537.5,501.3 536.5,516.5 534.5,526.6 530.5,533.6 528.5,537.7 518.5,539.7" fill="#fff" />
<polygon points="518.5,491.3 523.5,486.2 531.5,484.2 536.5,489.2 537.5,501.3 536.5,516.5 534.5,526.6 530.5,533.6 528.5,537.7 518.5,539.7" fill="url(#g60)" />
<polygon points="650.0,410.0 680.0,395.0 700.0,385.0 712.0,378.0 722.0,372.0 728.0,375.0 720.0,390.0 712.0,402.0 700.0,412.0 690.0,422.0 670.0,430.0 655.0,434.0" fill="url(#b25)" />
<polygon points="688.0,418.0 702.0,410.0 712.0,415.0 716.0,440.0 712.0,470.0 700.0,495.0 686.0,515.0 672.0,535.0 660.0,545.0 660.0,538.0 672.0,513.0 680.0,488.0 682.0,470.0 684.0,445.0" fill="url(#b25)" />
<polygon points="548.0,470.0 556.0,445.0 565.0,432.0 580.0,420.0 596.0,405.0 615.0,404.0 635.0,410.0 655.0,404.0 675.0,396.0 695.0,386.0 705.0,384.0 700.0,398.0 690.0,430.0 685.0,462.0 680.0,477.0 600.0,470.0" fill="url(#b25)" />
<polygon points="541.0,484.0 548.0,470.0 555.0,455.0 559.0,447.0 563.0,440.0 577.0,433.0 598.0,429.0 619.0,427.5 633.0,425.7 650.0,420.0 665.0,412.0 680.0,405.0 695.0,392.0 700.0,395.0 690.0,430.0 685.0,462.0 680.0,477.0 675.0,497.0 670.0,517.0 665.0,537.0 650.0,547.0 625.0,564.5 610.0,567.0 602.5,562.0 605.0,542.0 615.0,517.0 617.5,494.5 605.0,487.0 585.0,489.5 570.0,497.0 555.0,502.0 542.5,499.5 540.0,490.0" fill="url(#b50)" />
<polygon points="617.5,494.5 640.0,490.0 665.0,490.0 675.0,497.0 670.0,517.0 665.0,537.0 650.0,547.0 625.0,564.5 610.0,567.0 602.5,562.0 605.0,542.0 615.0,517.0" fill="url(#b40)" />
<polygon points="540.0,487.0 542.5,477.0 550.0,468.0 565.0,472.0 580.0,480.0 585.0,489.5 570.0,497.0 555.0,502.0 542.5,499.5" fill="url(#b40)" />
<rect x="426.2" y="362.4" width="312.2" height="323.9" fill="none" stroke="#7c7c7c" stroke-width="1.25"/>
<text x="421.2" y="660.5" text-anchor="end" class="t">0. 6</text>
<text x="421.2" y="631.0" text-anchor="end" class="t">0. 8</text>
<text x="421.2" y="601.6" text-anchor="end" class="t">1. 0</text>
<text x="421.2" y="572.1" text-anchor="end" class="t">1. 2</text>
<text x="421.2" y="542.7" text-anchor="end" class="t">1. 4</text>
<text x="421.2" y="513.2" text-anchor="end" class="t">1. 6</text>
<text x="421.2" y="483.8" text-anchor="end" class="t">1. 8</text>
<text x="421.2" y="454.3" text-anchor="end" class="t">2. 0</text>
<text x="421.2" y="424.9" text-anchor="end" class="t">2. 2</text>
<text x="421.2" y="395.4" text-anchor="end" class="t">2. 4</text>
<text x="456.1" y="701.0" text-anchor="middle" class="t">0. 6</text>
<text x="484.5" y="701.0" text-anchor="middle" class="t">0. 8</text>
<text x="512.8" y="701.0" text-anchor="middle" class="t">1. 0</text>
<text x="541.2" y="701.0" text-anchor="middle" class="t">1. 2</text>
<text x="569.6" y="701.0" text-anchor="middle" class="t">1. 4</text>
<text x="598.0" y="701.0" text-anchor="middle" class="t">1. 6</text>
<text x="626.4" y="701.0" text-anchor="middle" class="t">1. 8</text>
<text x="654.8" y="701.0" text-anchor="middle" class="t">2. 0</text>
<text x="683.1" y="701.0" text-anchor="middle" class="t">2. 2</text>
<text x="711.5" y="701.0" text-anchor="middle" class="t">2. 4</text>
<text x="411.2" y="700.3" class="t">( Å)</text>
<text x="430.7" y="383.9" class="ax">d<tspan class="sub" dy="3">e</tspan></text>
<text x="734.4" y="679.5" class="ax" text-anchor="end">d<tspan class="sub" dy="2">i</tspan></text>
<text x="434.2" y="677.8" class="lab">N–H –6.6 %</text>
</svg></body></html>
